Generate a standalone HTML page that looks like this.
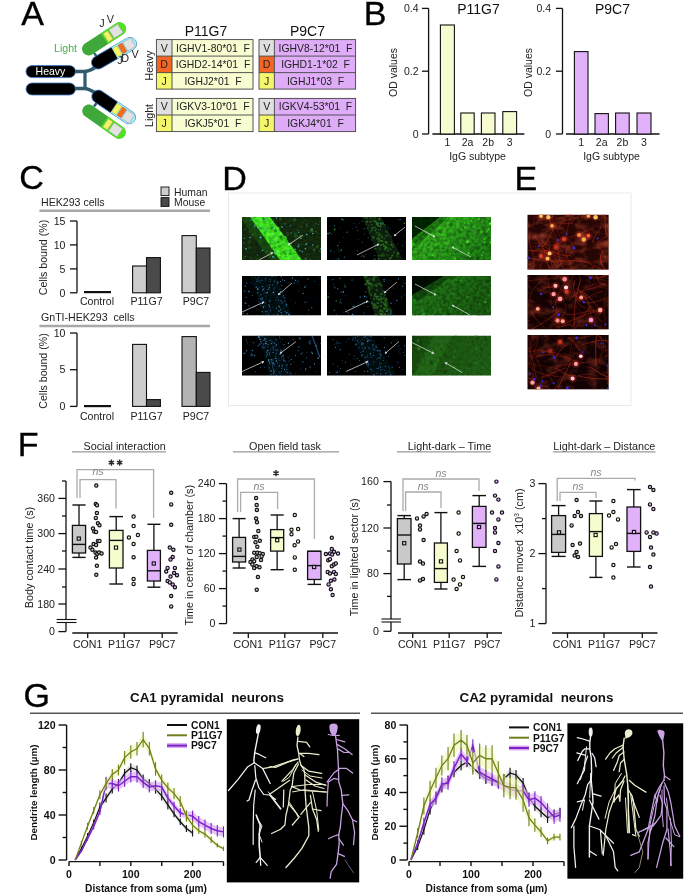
<!DOCTYPE html>
<html><head><meta charset="utf-8"><title>Figure</title><style>
html,body{margin:0;padding:0;background:#fff;}
body{width:685px;height:895px;overflow:hidden;position:relative;font-family:"Liberation Sans",sans-serif;}
svg{position:absolute;left:0;top:0;display:block;will-change:transform;}
</style></head><body>
<svg width="685" height="895" viewBox="0 0 685 895" font-family='"Liberation Sans", sans-serif'>
<text x="21.2" y="24.8" font-size="34" fill="#000" stroke="#000" stroke-width="0.35">A</text>
<text x="363.8" y="24.8" font-size="34" fill="#000" stroke="#000" stroke-width="0.35">B</text>
<text x="19.3" y="188.6" font-size="34" fill="#000" stroke="#000" stroke-width="0.35">C</text>
<text x="222.3" y="189.9" font-size="34" fill="#000" stroke="#000" stroke-width="0.35">D</text>
<text x="514.6" y="189.9" font-size="34" fill="#000" stroke="#000" stroke-width="0.35">E</text>
<text x="17.8" y="456" font-size="34" fill="#000" stroke="#000" stroke-width="0.35">F</text>
<text x="23.6" y="707.2" font-size="34" fill="#000" stroke="#000" stroke-width="0.35">G</text>
<g id="antibody">
<path d="M75 71.5 H84 Q89 71.5 96 67" fill="none" stroke="#2f5b6b" stroke-width="3.4"/>
<path d="M75 88.5 H84 Q89 88.5 97 94" fill="none" stroke="#2f5b6b" stroke-width="3.4"/>
<line x1="85" y1="71" x2="85" y2="89" stroke="#2f5b6b" stroke-width="3.2"/>
<line x1="94" y1="53" x2="98" y2="58" stroke="#2f5b6b" stroke-width="2.2"/>
<line x1="94" y1="106.5" x2="97.5" y2="101.5" stroke="#2f5b6b" stroke-width="2.4"/>
<g transform="translate(98 62.5) rotate(-30)">
<g>
<rect x="-6.5" y="-6.5" width="50" height="13" rx="6.5" fill="#000" stroke="#3a78c8" stroke-width="0.8"/>
<path d="M19 -6.5 H37 A6.5 6.5 0 0 1 37 6.5 H19 Z" fill="#98f2ff"/>
<rect x="19.5" y="-5" width="5.5" height="10" fill="#f6f660" stroke="#9a9a60" stroke-width="0.4"/>
<rect x="26" y="-5" width="4.5" height="10" fill="#f66a1a" stroke="#b05020" stroke-width="0.4"/>
<rect x="31.5" y="-5" width="9" height="10" fill="#e2e2e2" stroke="#999" stroke-width="0.5"/>
</g>
</g>
<g transform="translate(88.5 49) rotate(-33)">
<g>
<rect x="-6.5" y="-6.5" width="50" height="13" rx="6.5" fill="#3fa83a"/>
<path d="M19 -6.5 H37 A6.5 6.5 0 0 1 37 6.5 H19 Z" fill="#4ee41c"/>
<rect x="20.5" y="-5" width="5.5" height="10" fill="#f5f06a" stroke="#9a9a60" stroke-width="0.4"/>
<rect x="27.5" y="-5" width="10.5" height="10" fill="#e2e2e2" stroke="#999" stroke-width="0.5"/>
</g>
</g>
<g transform="translate(98.3 96.6) scale(1 -1) rotate(-34)">
<g>
<rect x="-6.5" y="-6.5" width="50" height="13" rx="6.5" fill="#000" stroke="#3a78c8" stroke-width="0.8"/>
<path d="M19 -6.5 H37 A6.5 6.5 0 0 1 37 6.5 H19 Z" fill="#98f2ff"/>
<rect x="19.5" y="-5" width="5.5" height="10" fill="#f6f660" stroke="#9a9a60" stroke-width="0.4"/>
<rect x="26" y="-5" width="4.5" height="10" fill="#f66a1a" stroke="#b05020" stroke-width="0.4"/>
<rect x="31.5" y="-5" width="9" height="10" fill="#e2e2e2" stroke="#999" stroke-width="0.5"/>
</g>
</g>
<g transform="translate(88.8 111) scale(1 -1) rotate(-35)">
<g>
<rect x="-6.5" y="-6.5" width="50" height="13" rx="6.5" fill="#3fa83a"/>
<path d="M19 -6.5 H37 A6.5 6.5 0 0 1 37 6.5 H19 Z" fill="#4ee41c"/>
<rect x="20.5" y="-5" width="5.5" height="10" fill="#f5f06a" stroke="#9a9a60" stroke-width="0.4"/>
<rect x="27.5" y="-5" width="10.5" height="10" fill="#e2e2e2" stroke="#999" stroke-width="0.5"/>
</g>
</g>
<rect x="26" y="65.6" width="49.5" height="12" rx="6" fill="#000" stroke="#3a78c8" stroke-width="0.8"/>
<rect x="26" y="83" width="49.5" height="12" rx="6" fill="#000" stroke="#3a78c8" stroke-width="0.8"/>
<text x="50.5" y="75.4" font-size="10.5" fill="#fff" text-anchor="middle">Heavy</text>
<text x="65.5" y="51.6" font-size="10.6" fill="#48b048" text-anchor="middle">Light</text>
<text x="99.3" y="27.4" font-size="10.8" fill="#222">J</text>
<text x="106.8" y="23.3" font-size="10.8" fill="#222">V</text>
<text x="117.2" y="64.2" font-size="10.8" fill="#222">J</text>
<text x="121.3" y="62" font-size="10.8" fill="#222">D</text>
<text x="131.5" y="57.5" font-size="10.8" fill="#222">V</text>
</g>
<rect x="156.4" y="39.6" width="15.6" height="16.5" fill="#e0e0e0"/>
<rect x="172" y="39.6" width="81" height="16.5" fill="#f8fdd2"/>
<text x="164.2" y="51.55" font-size="10.6" fill="#222" text-anchor="middle">V</text>
<text x="213" y="51.55" font-size="10.4" fill="#222" text-anchor="middle">IGHV1-80*01&#160;&#160;F</text>
<rect x="156.4" y="56.1" width="15.6" height="16.5" fill="#f26522"/>
<rect x="172" y="56.1" width="81" height="16.5" fill="#f8fdd2"/>
<text x="164.2" y="68.05" font-size="10.6" fill="#222" text-anchor="middle">D</text>
<text x="213" y="68.05" font-size="10.4" fill="#222" text-anchor="middle">IGHD2-14*01&#160;&#160;F</text>
<rect x="156.4" y="72.6" width="15.6" height="16.5" fill="#f6f66a"/>
<rect x="172" y="72.6" width="81" height="16.5" fill="#f8fdd2"/>
<text x="164.2" y="84.55" font-size="10.6" fill="#222" text-anchor="middle">J</text>
<text x="213" y="84.55" font-size="10.4" fill="#222" text-anchor="middle">IGHJ2*01&#160;&#160;F</text>
<rect x="156.4" y="39.6" width="96.6" height="49.5" fill="none" stroke="#444" stroke-width="0.9"/>
<line x1="172" y1="39.6" x2="172" y2="89.1" stroke="#444" stroke-width="0.9"/>
<line x1="156.4" y1="56.1" x2="253" y2="56.1" stroke="#444" stroke-width="0.9"/>
<line x1="156.4" y1="72.6" x2="253" y2="72.6" stroke="#444" stroke-width="0.9"/>
<rect x="156.4" y="98.4" width="15.6" height="16.6" fill="#e0e0e0"/>
<rect x="172" y="98.4" width="81" height="16.6" fill="#f8fdd2"/>
<text x="164.2" y="110.4" font-size="10.6" fill="#222" text-anchor="middle">V</text>
<text x="213" y="110.4" font-size="10.4" fill="#222" text-anchor="middle">IGKV3-10*01&#160;&#160;F</text>
<rect x="156.4" y="115" width="15.6" height="16.6" fill="#f6f66a"/>
<rect x="172" y="115" width="81" height="16.6" fill="#f8fdd2"/>
<text x="164.2" y="127" font-size="10.6" fill="#222" text-anchor="middle">J</text>
<text x="213" y="127" font-size="10.4" fill="#222" text-anchor="middle">IGKJ5*01&#160;&#160;F</text>
<rect x="156.4" y="98.4" width="96.6" height="33.2" fill="none" stroke="#444" stroke-width="0.9"/>
<line x1="172" y1="98.4" x2="172" y2="131.6" stroke="#444" stroke-width="0.9"/>
<line x1="156.4" y1="115" x2="253" y2="115" stroke="#444" stroke-width="0.9"/>
<rect x="259" y="39.6" width="15.4" height="16.5" fill="#e0e0e0"/>
<rect x="274.4" y="39.6" width="81.2" height="16.5" fill="#dfadf7"/>
<text x="266.7" y="51.55" font-size="10.6" fill="#222" text-anchor="middle">V</text>
<text x="315.5" y="51.55" font-size="10.4" fill="#222" text-anchor="middle">IGHV8-12*01&#160;&#160;F</text>
<rect x="259" y="56.1" width="15.4" height="16.5" fill="#f26522"/>
<rect x="274.4" y="56.1" width="81.2" height="16.5" fill="#dfadf7"/>
<text x="266.7" y="68.05" font-size="10.6" fill="#222" text-anchor="middle">D</text>
<text x="315.5" y="68.05" font-size="10.4" fill="#222" text-anchor="middle">IGHD1-1*02&#160;&#160;F</text>
<rect x="259" y="72.6" width="15.4" height="16.5" fill="#f6f66a"/>
<rect x="274.4" y="72.6" width="81.2" height="16.5" fill="#dfadf7"/>
<text x="266.7" y="84.55" font-size="10.6" fill="#222" text-anchor="middle">J</text>
<text x="315.5" y="84.55" font-size="10.4" fill="#222" text-anchor="middle">IGHJ1*03&#160;&#160;F</text>
<rect x="259" y="39.6" width="96.6" height="49.5" fill="none" stroke="#444" stroke-width="0.9"/>
<line x1="274.4" y1="39.6" x2="274.4" y2="89.1" stroke="#444" stroke-width="0.9"/>
<line x1="259" y1="56.1" x2="355.6" y2="56.1" stroke="#444" stroke-width="0.9"/>
<line x1="259" y1="72.6" x2="355.6" y2="72.6" stroke="#444" stroke-width="0.9"/>
<rect x="259" y="98.4" width="15.4" height="16.6" fill="#e0e0e0"/>
<rect x="274.4" y="98.4" width="81.2" height="16.6" fill="#dfadf7"/>
<text x="266.7" y="110.4" font-size="10.6" fill="#222" text-anchor="middle">V</text>
<text x="315.5" y="110.4" font-size="10.4" fill="#222" text-anchor="middle">IGKV4-53*01&#160;&#160;F</text>
<rect x="259" y="115" width="15.4" height="16.6" fill="#f6f66a"/>
<rect x="274.4" y="115" width="81.2" height="16.6" fill="#dfadf7"/>
<text x="266.7" y="127" font-size="10.6" fill="#222" text-anchor="middle">J</text>
<text x="315.5" y="127" font-size="10.4" fill="#222" text-anchor="middle">IGKJ4*01&#160;&#160;F</text>
<rect x="259" y="98.4" width="96.6" height="33.2" fill="none" stroke="#444" stroke-width="0.9"/>
<line x1="274.4" y1="98.4" x2="274.4" y2="131.6" stroke="#444" stroke-width="0.9"/>
<line x1="259" y1="115" x2="355.6" y2="115" stroke="#444" stroke-width="0.9"/>
<text x="206" y="35.5" font-size="14" fill="#111" text-anchor="middle">P11G7</text>
<text x="307.5" y="35.5" font-size="14" fill="#111" text-anchor="middle">P9C7</text>
<text transform="translate(152.5 65.5) rotate(-90)" font-size="10.6" fill="#222" text-anchor="middle">Heavy</text>
<text transform="translate(152.5 115.5) rotate(-90)" font-size="10.6" fill="#222" text-anchor="middle">Light</text>
<line x1="428.6" y1="8.4" x2="428.6" y2="134" stroke="#111" stroke-width="1.3"/>
<line x1="422" y1="8.4" x2="428.6" y2="8.4" stroke="#111" stroke-width="1.3"/>
<text x="418.5" y="12.1" font-size="10.5" fill="#222" text-anchor="end">0.4</text>
<line x1="422" y1="71.2" x2="428.6" y2="71.2" stroke="#111" stroke-width="1.3"/>
<text x="418.5" y="74.9" font-size="10.5" fill="#222" text-anchor="end">0.2</text>
<line x1="422" y1="134" x2="428.6" y2="134" stroke="#111" stroke-width="1.3"/>
<text x="418.5" y="137.7" font-size="10.5" fill="#222" text-anchor="end">0</text>
<line x1="432.4" y1="134" x2="524.4" y2="134" stroke="#111" stroke-width="1.3"/>
<rect x="440.4" y="25" width="14" height="109" fill="#f6fccf" stroke="#111" stroke-width="1.1"/>
<text x="447.4" y="145.6" font-size="10.5" fill="#222" text-anchor="middle">1</text>
<rect x="460.8" y="113" width="13.4" height="21" fill="#f6fccf" stroke="#111" stroke-width="1.1"/>
<text x="467.5" y="145.6" font-size="10.5" fill="#222" text-anchor="middle">2a</text>
<rect x="481.4" y="113" width="13.6" height="21" fill="#f6fccf" stroke="#111" stroke-width="1.1"/>
<text x="488.2" y="145.6" font-size="10.5" fill="#222" text-anchor="middle">2b</text>
<rect x="502.8" y="111.6" width="13.8" height="22.4" fill="#f6fccf" stroke="#111" stroke-width="1.1"/>
<text x="509.7" y="145.6" font-size="10.5" fill="#222" text-anchor="middle">3</text>
<text x="477.5" y="160.2" font-size="10.5" fill="#222" text-anchor="middle">IgG subtype</text>
<text x="478.5" y="14" font-size="14" fill="#111" text-anchor="middle">P11G7</text>
<text transform="translate(397.3 72.5) rotate(-90)" font-size="10.5" fill="#222" text-anchor="middle">OD values</text>
<line x1="562.5" y1="8.4" x2="562.5" y2="134" stroke="#111" stroke-width="1.3"/>
<line x1="555.9" y1="8.4" x2="562.5" y2="8.4" stroke="#111" stroke-width="1.3"/>
<text x="551" y="12.1" font-size="10.5" fill="#222" text-anchor="end">0.4</text>
<line x1="555.9" y1="71.2" x2="562.5" y2="71.2" stroke="#111" stroke-width="1.3"/>
<text x="551" y="74.9" font-size="10.5" fill="#222" text-anchor="end">0.2</text>
<line x1="555.9" y1="134" x2="562.5" y2="134" stroke="#111" stroke-width="1.3"/>
<text x="551" y="137.7" font-size="10.5" fill="#222" text-anchor="end">0</text>
<line x1="566" y1="134" x2="659.5" y2="134" stroke="#111" stroke-width="1.3"/>
<rect x="574.4" y="51.6" width="13.6" height="82.4" fill="#e1b1f9" stroke="#111" stroke-width="1.1"/>
<text x="581.2" y="145.6" font-size="10.5" fill="#222" text-anchor="middle">1</text>
<rect x="595" y="113.6" width="13.4" height="20.4" fill="#e1b1f9" stroke="#111" stroke-width="1.1"/>
<text x="601.7" y="145.6" font-size="10.5" fill="#222" text-anchor="middle">2a</text>
<rect x="615.6" y="113" width="13.6" height="21" fill="#e1b1f9" stroke="#111" stroke-width="1.1"/>
<text x="622.4" y="145.6" font-size="10.5" fill="#222" text-anchor="middle">2b</text>
<rect x="637" y="113" width="14" height="21" fill="#e1b1f9" stroke="#111" stroke-width="1.1"/>
<text x="644" y="145.6" font-size="10.5" fill="#222" text-anchor="middle">3</text>
<text x="611.5" y="160.2" font-size="10.5" fill="#222" text-anchor="middle">IgG subtype</text>
<text x="612.5" y="14" font-size="14" fill="#111" text-anchor="middle">P9C7</text>
<text transform="translate(531.7 72.5) rotate(-90)" font-size="10.5" fill="#222" text-anchor="middle">OD values</text>
<rect x="161" y="187" width="8" height="8.6" fill="#cdcdcd" stroke="#111" stroke-width="0.9"/>
<rect x="161" y="197.6" width="8" height="8.8" fill="#4a4a4a" stroke="#111" stroke-width="0.9"/>
<text x="174" y="195.5" font-size="10.4" fill="#222">Human</text>
<text x="174" y="206" font-size="10.4" fill="#222">Mouse</text>
<text x="41" y="206" font-size="10.6" fill="#222">HEK293 cells</text>
<line x1="39.4" y1="210.8" x2="210" y2="210.8" stroke="#a8a8a8" stroke-width="2.6"/>
<line x1="77" y1="221" x2="77" y2="292.8" stroke="#111" stroke-width="1.3"/>
<line x1="70" y1="221" x2="77" y2="221" stroke="#111" stroke-width="1.3"/>
<text x="65.5" y="224.7" font-size="10.6" fill="#222" text-anchor="end">15</text>
<line x1="70" y1="244.9" x2="77" y2="244.9" stroke="#111" stroke-width="1.3"/>
<text x="65.5" y="248.6" font-size="10.6" fill="#222" text-anchor="end">10</text>
<line x1="70" y1="268.9" x2="77" y2="268.9" stroke="#111" stroke-width="1.3"/>
<text x="65.5" y="272.6" font-size="10.6" fill="#222" text-anchor="end">5</text>
<line x1="70" y1="292.8" x2="77" y2="292.8" stroke="#111" stroke-width="1.3"/>
<text x="65.5" y="296.5" font-size="10.6" fill="#222" text-anchor="end">0</text>
<rect x="84" y="291" width="27" height="2.2" fill="#111"/>
<rect x="132.6" y="266" width="13.9" height="26.8" fill="#cdcdcd" stroke="#111" stroke-width="1.1"/>
<rect x="146.5" y="257.6" width="13.9" height="35.2" fill="#4a4a4a" stroke="#111" stroke-width="1.1"/>
<rect x="182" y="235.6" width="14.3" height="57.2" fill="#cdcdcd" stroke="#111" stroke-width="1.1"/>
<rect x="196.3" y="248" width="13.7" height="44.8" fill="#4a4a4a" stroke="#111" stroke-width="1.1"/>
<text x="97" y="304.7" font-size="10.6" fill="#222" text-anchor="middle">Control</text>
<text x="146.5" y="304.7" font-size="10.6" fill="#222" text-anchor="middle">P11G7</text>
<text x="196" y="304.7" font-size="10.6" fill="#222" text-anchor="middle">P9C7</text>
<text transform="translate(46.5 257.5) rotate(-90)" font-size="10.6" fill="#222" text-anchor="middle">Cells bound (%)</text>
<text x="41" y="321.3" font-size="10.6" fill="#222">GnTI-HEK293&#160;&#160;cells</text>
<line x1="39.4" y1="326" x2="210" y2="326" stroke="#a8a8a8" stroke-width="2.6"/>
<line x1="77" y1="333" x2="77" y2="406.4" stroke="#111" stroke-width="1.3"/>
<line x1="70" y1="333" x2="77" y2="333" stroke="#111" stroke-width="1.3"/>
<text x="65.5" y="336.7" font-size="10.6" fill="#222" text-anchor="end">10</text>
<line x1="70" y1="369.7" x2="77" y2="369.7" stroke="#111" stroke-width="1.3"/>
<text x="65.5" y="373.4" font-size="10.6" fill="#222" text-anchor="end">5</text>
<line x1="70" y1="406.4" x2="77" y2="406.4" stroke="#111" stroke-width="1.3"/>
<text x="65.5" y="410.1" font-size="10.6" fill="#222" text-anchor="end">0</text>
<rect x="84" y="405" width="27" height="2.2" fill="#111"/>
<rect x="132.6" y="344.4" width="13.9" height="62" fill="#cdcdcd" stroke="#111" stroke-width="1.1"/>
<rect x="146.5" y="399.6" width="13.9" height="6.8" fill="#4a4a4a" stroke="#111" stroke-width="1.1"/>
<rect x="182" y="336.6" width="14.3" height="69.8" fill="#b3b3b3" stroke="#111" stroke-width="1.1"/>
<rect x="196.3" y="372.4" width="13.7" height="34" fill="#4a4a4a" stroke="#111" stroke-width="1.1"/>
<text x="97" y="420.2" font-size="10.6" fill="#222" text-anchor="middle">Control</text>
<text x="146.5" y="420.2" font-size="10.6" fill="#222" text-anchor="middle">P11G7</text>
<text x="196" y="420.2" font-size="10.6" fill="#222" text-anchor="middle">P9C7</text>
<text transform="translate(46.5 371) rotate(-90)" font-size="10.6" fill="#222" text-anchor="middle">Cells bound (%)</text>
<rect x="228.5" y="193" width="402.5" height="212.5" fill="#fff" stroke="#e4e4e4" stroke-width="0.8"/>
<line x1="229" y1="193" x2="630.5" y2="193" stroke="#f4f4f4" stroke-width="1"/>
<defs><filter id="bl" x="-5%" y="-5%" width="110%" height="110%"><feGaussianBlur stdDeviation="0.45"/></filter><filter id="bl2" x="-5%" y="-5%" width="110%" height="110%"><feGaussianBlur stdDeviation="0.9"/></filter><filter id="nz" x="0" y="0" width="100%" height="100%"><feTurbulence type="fractalNoise" baseFrequency="0.3" numOctaves="2" seed="5"/><feColorMatrix type="matrix" values="0 0 0 0 0  0 0 0 0 0  0 0 0 0 0  1.6 0 0 0 -0.55"/></filter><filter id="nzr" x="0" y="0" width="100%" height="100%"><feTurbulence type="fractalNoise" baseFrequency="0.08 0.12" numOctaves="3" seed="11"/><feColorMatrix type="matrix" values="0 0 0 0 0.6  0 0 0 0 0.08  0 0 0 0 0.04  2.4 0 0 0 -1.05"/></filter><marker id="ah" viewBox="0 0 6 6" refX="5" refY="3" markerWidth="4" markerHeight="4" orient="auto"><path d="M0 0 L6 3 L0 6 z" fill="#ddd"/></marker></defs>
<defs>
<clipPath id="dc1"><rect x="242" y="217" width="79" height="43"/></clipPath>
</defs>
<g clip-path="url(#dc1)"><g filter="url(#bl)">
<rect x="242" y="217" width="79" height="43" fill="#142c0c"/>
<circle cx="267.58" cy="223.49" r="1.78" fill="#22481a" fill-opacity="0.93"/>
<circle cx="249.44" cy="242.06" r="2.09" fill="#22481a" fill-opacity="0.61"/>
<circle cx="276.26" cy="220" r="1.11" fill="#1e4214" fill-opacity="0.62"/>
<circle cx="286.67" cy="257.74" r="1.76" fill="#2a5a18" fill-opacity="0.98"/>
<circle cx="287.59" cy="234.06" r="2.17" fill="#22481a" fill-opacity="0.82"/>
<circle cx="252.52" cy="235.02" r="1.65" fill="#2a5a18" fill-opacity="0.72"/>
<circle cx="306.47" cy="224.77" r="1.7" fill="#2a5a18" fill-opacity="0.68"/>
<circle cx="249.7" cy="247.62" r="1.68" fill="#2a5a18" fill-opacity="0.68"/>
<circle cx="295.75" cy="235.39" r="1.38" fill="#2a5a18" fill-opacity="0.97"/>
<circle cx="270.57" cy="227.68" r="1.22" fill="#22481a" fill-opacity="0.63"/>
<circle cx="265.72" cy="238.29" r="1.41" fill="#1e4214" fill-opacity="0.72"/>
<circle cx="319.43" cy="222.08" r="1.5" fill="#1e4214" fill-opacity="0.66"/>
<circle cx="280.63" cy="218.69" r="1.8" fill="#2a5a18" fill-opacity="0.83"/>
<circle cx="311.16" cy="230.49" r="1.83" fill="#2a5a18" fill-opacity="0.80"/>
<circle cx="304.95" cy="219.96" r="1.11" fill="#1e4214" fill-opacity="0.79"/>
<circle cx="294.47" cy="219.61" r="1.84" fill="#2a5a18" fill-opacity="0.83"/>
<circle cx="295.82" cy="236.16" r="1.86" fill="#2a5a18" fill-opacity="0.74"/>
<circle cx="316.31" cy="232.28" r="1.73" fill="#1e4214" fill-opacity="0.62"/>
<circle cx="302.69" cy="222.56" r="1.3" fill="#1e4214" fill-opacity="0.97"/>
<circle cx="281.22" cy="224.15" r="1.48" fill="#1e4214" fill-opacity="0.95"/>
<circle cx="306.72" cy="254.15" r="1.33" fill="#1e4214" fill-opacity="0.99"/>
<circle cx="295.94" cy="233.36" r="1.28" fill="#22481a" fill-opacity="0.67"/>
<circle cx="260.32" cy="227.03" r="1.58" fill="#2a5a18" fill-opacity="0.67"/>
<circle cx="264.27" cy="223.26" r="1.64" fill="#2a5a18" fill-opacity="0.83"/>
<circle cx="317.29" cy="246.69" r="1.62" fill="#2a5a18" fill-opacity="0.86"/>
<circle cx="300.44" cy="236.64" r="2.05" fill="#2a5a18" fill-opacity="0.92"/>
<circle cx="273" cy="234.16" r="1.12" fill="#2a5a18" fill-opacity="0.76"/>
<circle cx="257.06" cy="259.34" r="1.53" fill="#22481a" fill-opacity="0.74"/>
<circle cx="246.15" cy="217.01" r="1.18" fill="#22481a" fill-opacity="0.98"/>
<circle cx="290.49" cy="220.02" r="1.25" fill="#1e4214" fill-opacity="0.66"/>
<circle cx="261.93" cy="231.94" r="1.44" fill="#22481a" fill-opacity="0.65"/>
<circle cx="280.56" cy="259.05" r="1.58" fill="#1e4214" fill-opacity="0.63"/>
<circle cx="250.07" cy="231.73" r="1.32" fill="#2a5a18" fill-opacity="0.66"/>
<circle cx="243.82" cy="257.89" r="1.63" fill="#22481a" fill-opacity="0.88"/>
<circle cx="314.22" cy="249.6" r="1.36" fill="#2a5a18" fill-opacity="0.95"/>
<circle cx="297" cy="228.23" r="1.44" fill="#22481a" fill-opacity="0.74"/>
<circle cx="259.6" cy="240.29" r="1.6" fill="#2a5a18" fill-opacity="0.69"/>
<circle cx="306.11" cy="259.35" r="2.02" fill="#22481a" fill-opacity="0.93"/>
<circle cx="300.45" cy="226.75" r="1.62" fill="#1e4214" fill-opacity="0.89"/>
<circle cx="320.18" cy="250.97" r="1.57" fill="#22481a" fill-opacity="0.88"/>
<polygon points="240,217 252,217 282,260 270,260" fill="#1f6a12" fill-opacity="0.5"/>
<polygon points="250,217 270,217 302,260 280,260" fill="#42ee22" fill-opacity="1"/>
<circle cx="288.5" cy="258.13" r="1.74" fill="#50f830" fill-opacity="0.98"/>
<circle cx="265.51" cy="232.68" r="1.03" fill="#38d01c" fill-opacity="0.74"/>
<circle cx="285.14" cy="237.75" r="1.41" fill="#5cff38" fill-opacity="0.79"/>
<circle cx="286.63" cy="245.08" r="0.88" fill="#5cff38" fill-opacity="0.96"/>
<circle cx="289.65" cy="250.64" r="1.28" fill="#38d01c" fill-opacity="0.77"/>
<circle cx="270.92" cy="244.34" r="1.75" fill="#2aa818" fill-opacity="0.79"/>
<circle cx="274.13" cy="248.96" r="0.96" fill="#38d01c" fill-opacity="0.61"/>
<circle cx="277.58" cy="242.4" r="1.46" fill="#2aa818" fill-opacity="0.86"/>
<circle cx="271.87" cy="232.07" r="0.93" fill="#5cff38" fill-opacity="0.92"/>
<circle cx="274" cy="248.23" r="1.55" fill="#38d01c" fill-opacity="0.77"/>
<circle cx="294.12" cy="254.48" r="1.01" fill="#50f830" fill-opacity="0.69"/>
<circle cx="281.07" cy="238.55" r="1.13" fill="#2aa818" fill-opacity="0.93"/>
<circle cx="266.72" cy="219.62" r="1.7" fill="#2aa818" fill-opacity="0.93"/>
<circle cx="279.19" cy="254.76" r="0.95" fill="#5cff38" fill-opacity="0.95"/>
<circle cx="286.41" cy="250.39" r="1.58" fill="#38d01c" fill-opacity="0.67"/>
<circle cx="279.4" cy="237.36" r="1.36" fill="#50f830" fill-opacity="0.87"/>
<circle cx="276.08" cy="239.82" r="1.58" fill="#5cff38" fill-opacity="0.70"/>
<circle cx="274.18" cy="228.91" r="1.31" fill="#5cff38" fill-opacity="0.90"/>
<circle cx="287.05" cy="256.24" r="1.41" fill="#38d01c" fill-opacity="0.88"/>
<circle cx="274.72" cy="236.45" r="1.28" fill="#38d01c" fill-opacity="0.88"/>
<circle cx="296.79" cy="254.69" r="1.06" fill="#38d01c" fill-opacity="0.94"/>
<circle cx="256.58" cy="222.9" r="1.24" fill="#5cff38" fill-opacity="0.87"/>
<circle cx="267.29" cy="235.42" r="1.1" fill="#5cff38" fill-opacity="0.96"/>
<circle cx="269.18" cy="223.64" r="1.46" fill="#38d01c" fill-opacity="0.70"/>
<circle cx="263.6" cy="222.9" r="1.55" fill="#5cff38" fill-opacity="0.76"/>
<circle cx="285.38" cy="237.95" r="1.63" fill="#38d01c" fill-opacity="0.88"/>
<circle cx="288.7" cy="259.75" r="1.22" fill="#50f830" fill-opacity="0.73"/>
<circle cx="272.08" cy="248.05" r="1.35" fill="#2aa818" fill-opacity="0.88"/>
<circle cx="272.28" cy="233.53" r="1.1" fill="#5cff38" fill-opacity="0.65"/>
<circle cx="282.55" cy="256.5" r="1.68" fill="#5cff38" fill-opacity="0.71"/>
<circle cx="266.83" cy="218.7" r="1.07" fill="#38d01c" fill-opacity="0.93"/>
<circle cx="290.16" cy="253.53" r="1.75" fill="#2aa818" fill-opacity="0.66"/>
<circle cx="290.04" cy="256.52" r="1.5" fill="#5cff38" fill-opacity="0.71"/>
<circle cx="277.95" cy="251.38" r="1.7" fill="#50f830" fill-opacity="0.98"/>
<circle cx="286.08" cy="244.28" r="0.88" fill="#38d01c" fill-opacity="0.63"/>
<circle cx="285.74" cy="254.1" r="1.14" fill="#2aa818" fill-opacity="0.97"/>
<circle cx="260.69" cy="228.52" r="1.33" fill="#38d01c" fill-opacity="0.98"/>
<circle cx="284.82" cy="258.68" r="0.98" fill="#50f830" fill-opacity="0.85"/>
<circle cx="270.27" cy="239.84" r="1.25" fill="#38d01c" fill-opacity="0.71"/>
<circle cx="295.6" cy="251.56" r="0.84" fill="#5cff38" fill-opacity="0.89"/>
<circle cx="270.53" cy="240.7" r="1.27" fill="#2aa818" fill-opacity="0.64"/>
<circle cx="283.92" cy="252.21" r="1.3" fill="#2aa818" fill-opacity="0.99"/>
<circle cx="263.67" cy="230.23" r="1.03" fill="#38d01c" fill-opacity="0.93"/>
<circle cx="284.82" cy="247.39" r="1.2" fill="#50f830" fill-opacity="0.99"/>
<circle cx="275.42" cy="252.99" r="1.43" fill="#50f830" fill-opacity="0.77"/>
<circle cx="265.04" cy="219.38" r="1.18" fill="#50f830" fill-opacity="0.84"/>
<circle cx="271.75" cy="246.79" r="0.99" fill="#50f830" fill-opacity="0.78"/>
<circle cx="277.64" cy="228.32" r="1.77" fill="#50f830" fill-opacity="0.70"/>
<circle cx="285.76" cy="258.52" r="1.16" fill="#5cff38" fill-opacity="0.73"/>
<circle cx="258.14" cy="220.61" r="1.46" fill="#38d01c" fill-opacity="0.80"/>
<circle cx="255.43" cy="217.21" r="0.89" fill="#2aa818" fill-opacity="0.83"/>
<circle cx="268.05" cy="233.94" r="1.43" fill="#5cff38" fill-opacity="0.83"/>
<circle cx="281.68" cy="239.76" r="1.46" fill="#2aa818" fill-opacity="0.91"/>
<circle cx="282.22" cy="247.99" r="1.08" fill="#38d01c" fill-opacity="0.62"/>
<circle cx="294.39" cy="252.92" r="1.43" fill="#38d01c" fill-opacity="0.96"/>
<circle cx="284.81" cy="249.37" r="1.61" fill="#5cff38" fill-opacity="0.93"/>
<circle cx="286.42" cy="242.11" r="1.48" fill="#38d01c" fill-opacity="0.63"/>
<circle cx="264.05" cy="218.8" r="1.76" fill="#2aa818" fill-opacity="0.93"/>
<circle cx="280.01" cy="241.02" r="1.43" fill="#38d01c" fill-opacity="0.80"/>
<circle cx="266.06" cy="217.14" r="1.55" fill="#5cff38" fill-opacity="0.86"/>
<circle cx="266.81" cy="219.84" r="1.05" fill="#5cff38" fill-opacity="0.94"/>
<circle cx="272.53" cy="227.1" r="1.03" fill="#2aa818" fill-opacity="0.80"/>
<circle cx="271.42" cy="233.45" r="1.48" fill="#5cff38" fill-opacity="0.85"/>
<circle cx="270.93" cy="244.64" r="0.95" fill="#50f830" fill-opacity="0.86"/>
<circle cx="284.07" cy="246.79" r="0.93" fill="#2aa818" fill-opacity="0.62"/>
<circle cx="271.86" cy="228.56" r="1.49" fill="#2aa818" fill-opacity="0.72"/>
<circle cx="275.27" cy="239.21" r="1.27" fill="#5cff38" fill-opacity="1.00"/>
<circle cx="273.05" cy="240.61" r="0.89" fill="#2aa818" fill-opacity="0.61"/>
<circle cx="280.92" cy="236.74" r="1.77" fill="#2aa818" fill-opacity="1.00"/>
<circle cx="280.65" cy="233.63" r="1.73" fill="#5cff38" fill-opacity="0.83"/>
<circle cx="264.88" cy="223.09" r="1.75" fill="#38d01c" fill-opacity="0.84"/>
<circle cx="274.89" cy="244.16" r="0.91" fill="#50f830" fill-opacity="0.69"/>
<circle cx="287.53" cy="255.6" r="0.82" fill="#5cff38" fill-opacity="0.98"/>
<circle cx="279.11" cy="246.31" r="1.53" fill="#2aa818" fill-opacity="0.74"/>
<circle cx="276.82" cy="230.59" r="0.8" fill="#50f830" fill-opacity="0.94"/>
<circle cx="272.35" cy="222.16" r="1.51" fill="#50f830" fill-opacity="0.70"/>
<circle cx="259.8" cy="219.79" r="1.67" fill="#5cff38" fill-opacity="0.74"/>
<circle cx="268.58" cy="235.41" r="0.85" fill="#5cff38" fill-opacity="0.62"/>
<circle cx="283.4" cy="245.47" r="0.95" fill="#50f830" fill-opacity="0.77"/>
<circle cx="275.42" cy="230.57" r="1.59" fill="#2aa818" fill-opacity="0.95"/>
<rect x="242" y="217" width="79" height="43" fill="#000" filter="url(#nz)" opacity="0.35"/>
<circle cx="306.15" cy="244.13" r="0.81" fill="#55c8e0" fill-opacity="0.89"/>
<circle cx="245.91" cy="248.49" r="0.58" fill="#55c8e0" fill-opacity="0.86"/>
<circle cx="264.61" cy="219.11" r="0.81" fill="#55c8e0" fill-opacity="0.67"/>
<circle cx="274.77" cy="229.12" r="0.48" fill="#3aa0c0" fill-opacity="0.76"/>
<circle cx="260.85" cy="237.78" r="0.68" fill="#40b8d0" fill-opacity="0.67"/>
<circle cx="254.77" cy="225.94" r="0.8" fill="#60d0e8" fill-opacity="0.82"/>
<circle cx="277.79" cy="231.31" r="0.73" fill="#60d0e8" fill-opacity="0.66"/>
<circle cx="257.2" cy="220.9" r="0.52" fill="#40b8d0" fill-opacity="0.73"/>
<circle cx="271.1" cy="251.8" r="0.45" fill="#40b8d0" fill-opacity="0.90"/>
<circle cx="274.61" cy="234.8" r="0.61" fill="#60d0e8" fill-opacity="0.71"/>
<circle cx="301.42" cy="238.42" r="0.64" fill="#3aa0c0" fill-opacity="0.65"/>
<circle cx="281.77" cy="244.07" r="0.78" fill="#55c8e0" fill-opacity="0.64"/>
<circle cx="312.85" cy="233.54" r="0.67" fill="#60d0e8" fill-opacity="0.98"/>
<circle cx="309.05" cy="254.53" r="0.36" fill="#40b8d0" fill-opacity="0.77"/>
<circle cx="302.33" cy="251.58" r="0.83" fill="#60d0e8" fill-opacity="0.60"/>
<circle cx="272.93" cy="256.85" r="0.76" fill="#60d0e8" fill-opacity="0.99"/>
<circle cx="261.63" cy="221.69" r="0.43" fill="#40b8d0" fill-opacity="0.98"/>
<circle cx="299.02" cy="244.84" r="0.73" fill="#60d0e8" fill-opacity="0.63"/>
<circle cx="303.37" cy="217.06" r="0.41" fill="#40b8d0" fill-opacity="0.86"/>
<circle cx="266" cy="222.5" r="0.48" fill="#60d0e8" fill-opacity="0.88"/>
<circle cx="250.86" cy="220.03" r="0.61" fill="#55c8e0" fill-opacity="0.76"/>
<circle cx="259.66" cy="242.85" r="0.36" fill="#3aa0c0" fill-opacity="1.00"/>
<circle cx="264.01" cy="230.6" r="0.77" fill="#55c8e0" fill-opacity="0.79"/>
<circle cx="260.55" cy="227.62" r="0.83" fill="#3aa0c0" fill-opacity="0.62"/>
<circle cx="257.34" cy="255.05" r="0.67" fill="#40b8d0" fill-opacity="0.70"/>
<circle cx="294.72" cy="256.78" r="0.46" fill="#40b8d0" fill-opacity="0.88"/>
<circle cx="298.75" cy="232.58" r="0.55" fill="#40b8d0" fill-opacity="0.92"/>
<circle cx="300.39" cy="238.71" r="0.45" fill="#55c8e0" fill-opacity="0.72"/>
<circle cx="306.78" cy="226.92" r="0.46" fill="#3aa0c0" fill-opacity="0.64"/>
<circle cx="291.26" cy="243.23" r="0.8" fill="#60d0e8" fill-opacity="0.77"/>
<circle cx="294.56" cy="257.8" r="0.42" fill="#60d0e8" fill-opacity="0.62"/>
<circle cx="243.87" cy="242.63" r="0.56" fill="#40b8d0" fill-opacity="0.67"/>
<circle cx="277.52" cy="247.62" r="0.51" fill="#40b8d0" fill-opacity="1.00"/>
<circle cx="315.6" cy="231.16" r="0.44" fill="#60d0e8" fill-opacity="0.61"/>
<circle cx="294.49" cy="233.28" r="0.54" fill="#3aa0c0" fill-opacity="0.78"/>
<circle cx="250.61" cy="220.36" r="0.39" fill="#60d0e8" fill-opacity="0.98"/>
<circle cx="251.77" cy="258.46" r="0.45" fill="#3aa0c0" fill-opacity="0.91"/>
<circle cx="266.39" cy="251.57" r="0.39" fill="#60d0e8" fill-opacity="0.68"/>
<circle cx="284.78" cy="236.19" r="0.51" fill="#60d0e8" fill-opacity="0.61"/>
<circle cx="274.45" cy="251.91" r="0.73" fill="#40b8d0" fill-opacity="0.75"/>
<circle cx="278.66" cy="251.54" r="0.38" fill="#55c8e0" fill-opacity="0.90"/>
<circle cx="312.99" cy="231.58" r="0.49" fill="#40b8d0" fill-opacity="0.70"/>
<circle cx="298.61" cy="230.61" r="0.49" fill="#40b8d0" fill-opacity="0.89"/>
<circle cx="289.05" cy="251.64" r="0.82" fill="#40b8d0" fill-opacity="0.61"/>
<circle cx="260.48" cy="237.43" r="0.83" fill="#60d0e8" fill-opacity="0.92"/>
<circle cx="314.17" cy="252.04" r="0.42" fill="#60d0e8" fill-opacity="0.67"/>
<circle cx="305.4" cy="248.75" r="0.76" fill="#55c8e0" fill-opacity="0.84"/>
<circle cx="267.9" cy="230.74" r="0.53" fill="#40b8d0" fill-opacity="0.80"/>
<circle cx="272.94" cy="223.88" r="0.55" fill="#40b8d0" fill-opacity="0.79"/>
<circle cx="285.02" cy="223.91" r="0.56" fill="#40b8d0" fill-opacity="1.00"/>
<circle cx="262.93" cy="220.62" r="0.4" fill="#60d0e8" fill-opacity="1.00"/>
<circle cx="318.8" cy="224.45" r="0.42" fill="#60d0e8" fill-opacity="0.85"/>
<circle cx="295.25" cy="249.16" r="0.77" fill="#40b8d0" fill-opacity="0.91"/>
<circle cx="265.22" cy="229.01" r="0.48" fill="#3aa0c0" fill-opacity="0.90"/>
<circle cx="257.74" cy="227.64" r="0.47" fill="#55c8e0" fill-opacity="0.71"/>
<circle cx="313.7" cy="225.09" r="0.38" fill="#3aa0c0" fill-opacity="1.00"/>
<circle cx="282.08" cy="226.95" r="0.75" fill="#60d0e8" fill-opacity="1.00"/>
<circle cx="250.08" cy="237.41" r="0.76" fill="#60d0e8" fill-opacity="0.97"/>
<circle cx="245.19" cy="229.63" r="0.41" fill="#55c8e0" fill-opacity="0.84"/>
<circle cx="307.41" cy="225.35" r="0.39" fill="#55c8e0" fill-opacity="0.78"/>
<circle cx="262.54" cy="250.44" r="0.82" fill="#40b8d0" fill-opacity="0.85"/>
<circle cx="298.07" cy="232.04" r="0.37" fill="#3aa0c0" fill-opacity="0.66"/>
<circle cx="258.11" cy="227.96" r="0.65" fill="#55c8e0" fill-opacity="0.93"/>
<circle cx="306.69" cy="234.59" r="0.54" fill="#3aa0c0" fill-opacity="0.63"/>
<circle cx="244.49" cy="238.31" r="0.59" fill="#60d0e8" fill-opacity="0.64"/>
<circle cx="273.23" cy="240.66" r="0.67" fill="#40b8d0" fill-opacity="0.86"/>
<circle cx="273.42" cy="228.66" r="0.84" fill="#3aa0c0" fill-opacity="0.77"/>
<circle cx="246.06" cy="249.05" r="0.79" fill="#60d0e8" fill-opacity="0.77"/>
<circle cx="310.28" cy="259.85" r="0.53" fill="#55c8e0" fill-opacity="0.76"/>
<circle cx="273.99" cy="257.51" r="0.57" fill="#55c8e0" fill-opacity="0.77"/>
<circle cx="306.81" cy="234.47" r="0.79" fill="#60d0e8" fill-opacity="0.91"/>
<circle cx="252.27" cy="219.22" r="0.42" fill="#60d0e8" fill-opacity="0.64"/>
<circle cx="291.15" cy="232.95" r="0.6" fill="#55c8e0" fill-opacity="0.74"/>
<circle cx="254.78" cy="224.39" r="0.38" fill="#60d0e8" fill-opacity="0.80"/>
<circle cx="305.58" cy="258.58" r="0.45" fill="#55c8e0" fill-opacity="0.93"/>
<circle cx="245.44" cy="256.25" r="0.51" fill="#60d0e8" fill-opacity="0.63"/>
<circle cx="298.27" cy="246.59" r="0.8" fill="#55c8e0" fill-opacity="0.85"/>
<circle cx="290.56" cy="225.43" r="0.59" fill="#55c8e0" fill-opacity="0.62"/>
<circle cx="316.15" cy="223.73" r="0.53" fill="#55c8e0" fill-opacity="0.70"/>
<circle cx="299.27" cy="255.58" r="0.37" fill="#40b8d0" fill-opacity="0.87"/>
<circle cx="267.61" cy="233.76" r="0.58" fill="#3aa0c0" fill-opacity="0.86"/>
<circle cx="266.35" cy="227.72" r="0.54" fill="#3aa0c0" fill-opacity="0.78"/>
<circle cx="276.63" cy="218.01" r="0.66" fill="#60d0e8" fill-opacity="0.79"/>
<circle cx="277.3" cy="243.6" r="0.76" fill="#55c8e0" fill-opacity="0.92"/>
<circle cx="273.63" cy="219.89" r="0.53" fill="#3aa0c0" fill-opacity="0.64"/>
<circle cx="276.92" cy="238.94" r="0.37" fill="#55c8e0" fill-opacity="0.63"/>
<circle cx="299.94" cy="250.44" r="0.61" fill="#40b8d0" fill-opacity="0.90"/>
<circle cx="312.69" cy="245.07" r="0.74" fill="#40b8d0" fill-opacity="0.94"/>
<circle cx="320.69" cy="248.48" r="0.76" fill="#55c8e0" fill-opacity="0.65"/>
<circle cx="311.97" cy="229.38" r="0.76" fill="#55c8e0" fill-opacity="0.87"/>
</g>
<line x1="259" y1="260" x2="273" y2="252.5" stroke="#e8e8e8" stroke-width="0.7" marker-end="url(#ah)"/>
<line x1="303" y1="235" x2="288" y2="245" stroke="#e8e8e8" stroke-width="0.7" marker-end="url(#ah)"/>
</g>
<defs>
<clipPath id="dc2"><rect x="327" y="217" width="79" height="43"/></clipPath>
</defs>
<g clip-path="url(#dc2)"><g filter="url(#bl)">
<rect x="327" y="217" width="79" height="43" fill="#010301"/>
<polygon points="363,217 381,217 403,260 379,260" fill="#0e2a0c" fill-opacity="0.7"/>
<circle cx="379.47" cy="248.01" r="1.27" fill="#1c4e16" fill-opacity="0.57"/>
<circle cx="383.77" cy="255.55" r="1.25" fill="#2e7024" fill-opacity="0.61"/>
<circle cx="389.85" cy="258.47" r="1.07" fill="#2e7024" fill-opacity="0.64"/>
<circle cx="366.91" cy="218.58" r="0.73" fill="#1c4e16" fill-opacity="0.81"/>
<circle cx="381.27" cy="255.5" r="1.23" fill="#24601c" fill-opacity="0.85"/>
<circle cx="379.48" cy="219.09" r="1.37" fill="#347a28" fill-opacity="0.75"/>
<circle cx="391.24" cy="241.94" r="0.68" fill="#347a28" fill-opacity="0.83"/>
<circle cx="376.54" cy="232.97" r="0.9" fill="#2e7024" fill-opacity="0.66"/>
<circle cx="385.22" cy="249.88" r="0.74" fill="#24601c" fill-opacity="0.63"/>
<circle cx="377.8" cy="239.19" r="1.37" fill="#1c4e16" fill-opacity="0.83"/>
<circle cx="379.94" cy="249.13" r="0.83" fill="#347a28" fill-opacity="0.69"/>
<circle cx="369.79" cy="232.66" r="0.99" fill="#24601c" fill-opacity="0.51"/>
<circle cx="369.44" cy="217.11" r="0.69" fill="#1c4e16" fill-opacity="0.74"/>
<circle cx="375.78" cy="234.77" r="0.71" fill="#1c4e16" fill-opacity="0.78"/>
<circle cx="373.41" cy="237.42" r="1.35" fill="#2e7024" fill-opacity="0.82"/>
<circle cx="371.53" cy="236.39" r="0.72" fill="#1c4e16" fill-opacity="0.68"/>
<circle cx="367.45" cy="228.36" r="1.12" fill="#1c4e16" fill-opacity="0.77"/>
<circle cx="385.18" cy="241.87" r="1.01" fill="#347a28" fill-opacity="0.61"/>
<circle cx="378.49" cy="255.85" r="1.03" fill="#347a28" fill-opacity="0.58"/>
<circle cx="382.83" cy="223.85" r="0.68" fill="#2e7024" fill-opacity="0.56"/>
<circle cx="377.87" cy="225.58" r="1.01" fill="#347a28" fill-opacity="0.87"/>
<circle cx="371.69" cy="224.51" r="0.84" fill="#24601c" fill-opacity="0.95"/>
<circle cx="385.27" cy="248.15" r="1.03" fill="#347a28" fill-opacity="0.88"/>
<circle cx="385.38" cy="249.04" r="1.19" fill="#347a28" fill-opacity="0.58"/>
<circle cx="385.21" cy="259.85" r="1.12" fill="#24601c" fill-opacity="0.65"/>
<circle cx="390.63" cy="249.24" r="1.28" fill="#24601c" fill-opacity="0.62"/>
<circle cx="381.16" cy="240.81" r="1.23" fill="#1c4e16" fill-opacity="0.63"/>
<circle cx="398.93" cy="256.93" r="0.67" fill="#24601c" fill-opacity="0.58"/>
<circle cx="397.2" cy="255.9" r="0.76" fill="#2e7024" fill-opacity="0.84"/>
<circle cx="385.8" cy="231.06" r="0.86" fill="#2e7024" fill-opacity="0.67"/>
<circle cx="397.93" cy="253.63" r="1.39" fill="#347a28" fill-opacity="0.71"/>
<circle cx="371.63" cy="239.82" r="0.62" fill="#2e7024" fill-opacity="0.76"/>
<circle cx="372.13" cy="230.23" r="1.1" fill="#24601c" fill-opacity="0.75"/>
<circle cx="366.37" cy="224.38" r="0.69" fill="#2e7024" fill-opacity="0.66"/>
<circle cx="365.81" cy="223.1" r="0.63" fill="#24601c" fill-opacity="0.81"/>
<circle cx="376.26" cy="248.68" r="1.07" fill="#1c4e16" fill-opacity="0.59"/>
<circle cx="390.94" cy="258.05" r="1.13" fill="#347a28" fill-opacity="0.55"/>
<circle cx="368.45" cy="225.85" r="0.63" fill="#24601c" fill-opacity="0.87"/>
<circle cx="379.37" cy="244.16" r="0.68" fill="#24601c" fill-opacity="0.86"/>
<circle cx="379.78" cy="244.79" r="0.87" fill="#1c4e16" fill-opacity="0.51"/>
<circle cx="372.63" cy="228.04" r="1.17" fill="#1c4e16" fill-opacity="0.91"/>
<circle cx="388.92" cy="250.08" r="0.98" fill="#1c4e16" fill-opacity="0.78"/>
<circle cx="371.01" cy="218.33" r="0.95" fill="#24601c" fill-opacity="0.66"/>
<circle cx="386.23" cy="247.3" r="0.77" fill="#24601c" fill-opacity="0.76"/>
<circle cx="376.19" cy="229.35" r="1.02" fill="#1c4e16" fill-opacity="0.84"/>
<circle cx="378.75" cy="259.05" r="0.99" fill="#347a28" fill-opacity="0.81"/>
<circle cx="398.4" cy="252.49" r="1.07" fill="#1c4e16" fill-opacity="0.76"/>
<circle cx="380.99" cy="223.83" r="1.35" fill="#2e7024" fill-opacity="0.72"/>
<circle cx="376.64" cy="221.73" r="0.66" fill="#24601c" fill-opacity="0.78"/>
<circle cx="376.77" cy="232.29" r="0.92" fill="#24601c" fill-opacity="0.69"/>
<circle cx="381.47" cy="244.77" r="0.84" fill="#347a28" fill-opacity="0.91"/>
<circle cx="378.99" cy="238.55" r="1.31" fill="#2e7024" fill-opacity="0.92"/>
<circle cx="376.18" cy="222.46" r="1.15" fill="#24601c" fill-opacity="0.66"/>
<circle cx="371.33" cy="231.05" r="1.27" fill="#1c4e16" fill-opacity="0.58"/>
<circle cx="385.98" cy="235.87" r="1.06" fill="#2e7024" fill-opacity="0.65"/>
<circle cx="388.51" cy="244.64" r="1.01" fill="#1c4e16" fill-opacity="0.64"/>
<circle cx="393" cy="247.24" r="0.72" fill="#2e7024" fill-opacity="0.94"/>
<circle cx="388.04" cy="248.1" r="0.88" fill="#2e7024" fill-opacity="0.65"/>
<circle cx="384.69" cy="225.14" r="1.18" fill="#24601c" fill-opacity="0.57"/>
<circle cx="377.82" cy="245.29" r="0.72" fill="#2e7024" fill-opacity="0.86"/>
<circle cx="384.47" cy="248.53" r="0.76" fill="#24601c" fill-opacity="0.63"/>
<circle cx="387.98" cy="255.07" r="0.61" fill="#347a28" fill-opacity="0.81"/>
<circle cx="384.29" cy="238.52" r="0.97" fill="#2e7024" fill-opacity="0.62"/>
<circle cx="374.94" cy="248.74" r="0.79" fill="#347a28" fill-opacity="0.82"/>
<circle cx="386.33" cy="242.26" r="1.28" fill="#2e7024" fill-opacity="0.81"/>
<circle cx="383.18" cy="244.59" r="0.85" fill="#24601c" fill-opacity="0.90"/>
<circle cx="374.66" cy="227.42" r="1.17" fill="#2e7024" fill-opacity="0.61"/>
<circle cx="379.13" cy="235.21" r="1.1" fill="#347a28" fill-opacity="0.73"/>
<circle cx="392.75" cy="245.43" r="1.32" fill="#1c4e16" fill-opacity="0.85"/>
<circle cx="379.18" cy="233.71" r="1.38" fill="#24601c" fill-opacity="0.61"/>
<circle cx="380.31" cy="226.37" r="1.36" fill="#2e7024" fill-opacity="0.73"/>
<circle cx="375.31" cy="221.35" r="1.03" fill="#347a28" fill-opacity="0.73"/>
<circle cx="391.33" cy="244.49" r="1.02" fill="#347a28" fill-opacity="0.83"/>
<circle cx="390.85" cy="236.65" r="0.75" fill="#24601c" fill-opacity="0.83"/>
<circle cx="386.65" cy="243.4" r="0.8" fill="#347a28" fill-opacity="0.68"/>
<circle cx="370.78" cy="217.57" r="0.94" fill="#1c4e16" fill-opacity="0.76"/>
<circle cx="370.41" cy="221.7" r="0.92" fill="#2e7024" fill-opacity="0.95"/>
<circle cx="389.36" cy="258.32" r="0.73" fill="#24601c" fill-opacity="0.86"/>
<circle cx="383.38" cy="244.27" r="1.05" fill="#2e7024" fill-opacity="0.87"/>
<circle cx="377.91" cy="223.29" r="1.26" fill="#347a28" fill-opacity="0.71"/>
<circle cx="378.55" cy="229.66" r="0.7" fill="#347a28" fill-opacity="0.66"/>
<circle cx="382.79" cy="253.58" r="0.9" fill="#1c4e16" fill-opacity="0.94"/>
<circle cx="384.49" cy="246.19" r="1.24" fill="#1c4e16" fill-opacity="0.66"/>
<circle cx="380.49" cy="245.14" r="0.99" fill="#24601c" fill-opacity="0.80"/>
<circle cx="387.54" cy="232.58" r="1.28" fill="#24601c" fill-opacity="0.54"/>
<circle cx="378.98" cy="241.28" r="1.35" fill="#1c4e16" fill-opacity="0.78"/>
<circle cx="363.45" cy="217.64" r="1.36" fill="#1c4e16" fill-opacity="0.61"/>
<circle cx="367.28" cy="221.37" r="0.79" fill="#347a28" fill-opacity="0.66"/>
<circle cx="382.54" cy="223.56" r="1.23" fill="#2e7024" fill-opacity="0.77"/>
<circle cx="395.63" cy="246.59" r="0.67" fill="#1c4e16" fill-opacity="0.59"/>
<circle cx="385.85" cy="246.79" r="1.19" fill="#347a28" fill-opacity="0.80"/>
<circle cx="367.09" cy="222.03" r="0.94" fill="#2e7024" fill-opacity="0.71"/>
<circle cx="382.25" cy="240.96" r="1.32" fill="#347a28" fill-opacity="0.61"/>
<circle cx="377.02" cy="224.08" r="1.19" fill="#2e7024" fill-opacity="0.88"/>
<circle cx="382.19" cy="237.12" r="1.13" fill="#347a28" fill-opacity="0.67"/>
<circle cx="389.41" cy="235.01" r="0.66" fill="#1c4e16" fill-opacity="0.79"/>
<circle cx="374.53" cy="218.23" r="1.15" fill="#1c4e16" fill-opacity="0.86"/>
<circle cx="373.49" cy="221.04" r="1.21" fill="#2e7024" fill-opacity="0.52"/>
<circle cx="388.44" cy="247.88" r="0.87" fill="#1c4e16" fill-opacity="0.65"/>
<circle cx="388.02" cy="250.48" r="1.33" fill="#1c4e16" fill-opacity="0.70"/>
<circle cx="381.13" cy="235.16" r="1.26" fill="#1c4e16" fill-opacity="0.66"/>
<circle cx="377.9" cy="238.23" r="1.39" fill="#1c4e16" fill-opacity="0.94"/>
<circle cx="390.84" cy="245.15" r="0.86" fill="#1c4e16" fill-opacity="0.82"/>
<circle cx="383.3" cy="222.49" r="0.67" fill="#24601c" fill-opacity="0.68"/>
<circle cx="380.53" cy="240.83" r="1.06" fill="#347a28" fill-opacity="0.64"/>
<circle cx="366.53" cy="217.27" r="1.34" fill="#24601c" fill-opacity="0.86"/>
<circle cx="391.91" cy="256.12" r="1.09" fill="#24601c" fill-opacity="0.60"/>
<circle cx="383.75" cy="245.68" r="1.21" fill="#24601c" fill-opacity="0.80"/>
<circle cx="386.69" cy="254.38" r="0.68" fill="#24601c" fill-opacity="0.67"/>
<circle cx="394.2" cy="252.37" r="1.05" fill="#1c4e16" fill-opacity="0.89"/>
<circle cx="341.6" cy="218.47" r="0.31" fill="#40b8d0" fill-opacity="0.76"/>
<circle cx="400.77" cy="219.35" r="0.53" fill="#3a8fd0" fill-opacity="0.83"/>
<circle cx="388.13" cy="235.11" r="0.58" fill="#5ab0e8" fill-opacity="0.68"/>
<circle cx="328.12" cy="233.65" r="0.54" fill="#55c8e0" fill-opacity="0.89"/>
<circle cx="364.56" cy="234.73" r="0.34" fill="#55c8e0" fill-opacity="0.69"/>
<circle cx="397.77" cy="243.96" r="0.47" fill="#3a8fd0" fill-opacity="0.77"/>
<circle cx="336.61" cy="258.55" r="0.34" fill="#3aa0c0" fill-opacity="0.55"/>
<circle cx="364.31" cy="228.84" r="0.53" fill="#5ab0e8" fill-opacity="0.79"/>
<circle cx="341.81" cy="219.16" r="0.61" fill="#55c8e0" fill-opacity="0.78"/>
<circle cx="338.44" cy="249.65" r="0.42" fill="#40b8d0" fill-opacity="0.78"/>
<circle cx="363.39" cy="257.09" r="0.4" fill="#3a8fd0" fill-opacity="0.79"/>
<circle cx="327.9" cy="217.63" r="0.56" fill="#3aa0c0" fill-opacity="0.75"/>
<circle cx="357.73" cy="230.44" r="0.54" fill="#3aa0c0" fill-opacity="0.83"/>
<circle cx="375.11" cy="230.6" r="0.68" fill="#55c8e0" fill-opacity="0.68"/>
<circle cx="380.47" cy="223.23" r="0.62" fill="#2f78b8" fill-opacity="0.88"/>
<circle cx="339.96" cy="251.48" r="0.49" fill="#3aa0c0" fill-opacity="0.81"/>
<circle cx="401.65" cy="250.74" r="0.53" fill="#2f78b8" fill-opacity="0.61"/>
<circle cx="376.13" cy="244.99" r="0.62" fill="#40b8d0" fill-opacity="0.63"/>
<circle cx="374.86" cy="259.03" r="0.63" fill="#40b8d0" fill-opacity="0.83"/>
<circle cx="373.19" cy="258.98" r="0.4" fill="#5ab0e8" fill-opacity="0.77"/>
<circle cx="374.54" cy="255.53" r="0.62" fill="#2f78b8" fill-opacity="0.78"/>
<circle cx="352.4" cy="228.52" r="0.36" fill="#3aa0c0" fill-opacity="0.81"/>
<circle cx="388.86" cy="229.41" r="0.36" fill="#3aa0c0" fill-opacity="0.90"/>
<circle cx="338.61" cy="258.94" r="0.62" fill="#40b8d0" fill-opacity="0.77"/>
<circle cx="399.19" cy="231.91" r="0.33" fill="#40b8d0" fill-opacity="0.69"/>
<circle cx="357.16" cy="250.87" r="0.59" fill="#4aa0e0" fill-opacity="0.62"/>
<circle cx="331.55" cy="234.01" r="0.58" fill="#2f78b8" fill-opacity="0.73"/>
<circle cx="327.74" cy="233.55" r="0.52" fill="#40b8d0" fill-opacity="0.82"/>
<circle cx="388" cy="227.01" r="0.53" fill="#2f78b8" fill-opacity="0.85"/>
<circle cx="368.23" cy="237.49" r="0.54" fill="#4aa0e0" fill-opacity="0.59"/>
<circle cx="334.28" cy="251.65" r="0.42" fill="#40b8d0" fill-opacity="0.73"/>
<circle cx="358.8" cy="239.24" r="0.36" fill="#3a8fd0" fill-opacity="0.87"/>
<circle cx="365.97" cy="254.25" r="0.45" fill="#5ab0e8" fill-opacity="0.81"/>
<circle cx="339.34" cy="242.68" r="0.44" fill="#40b8d0" fill-opacity="0.74"/>
<circle cx="334.43" cy="225.8" r="0.65" fill="#40b8d0" fill-opacity="0.69"/>
<circle cx="371.81" cy="228.25" r="0.61" fill="#5ab0e8" fill-opacity="0.54"/>
<circle cx="362.3" cy="242.5" r="0.54" fill="#4aa0e0" fill-opacity="0.60"/>
<circle cx="329.99" cy="225.64" r="0.37" fill="#3a8fd0" fill-opacity="0.51"/>
<circle cx="329.75" cy="232.89" r="0.58" fill="#5ab0e8" fill-opacity="0.88"/>
<circle cx="398.88" cy="219.76" r="0.54" fill="#5ab0e8" fill-opacity="0.87"/>
<circle cx="382.8" cy="220.87" r="0.43" fill="#4aa0e0" fill-opacity="0.76"/>
<circle cx="402.56" cy="245.8" r="0.46" fill="#5ab0e8" fill-opacity="0.84"/>
<circle cx="356.3" cy="227.11" r="0.59" fill="#4aa0e0" fill-opacity="0.52"/>
<circle cx="347.21" cy="232.14" r="0.66" fill="#3a8fd0" fill-opacity="0.83"/>
<circle cx="330.72" cy="250.81" r="0.58" fill="#55c8e0" fill-opacity="0.80"/>
<circle cx="365.19" cy="221.35" r="0.43" fill="#3a8fd0" fill-opacity="0.88"/>
<circle cx="380.47" cy="229.85" r="0.54" fill="#3aa0c0" fill-opacity="0.76"/>
<circle cx="364.19" cy="232.98" r="0.46" fill="#2f78b8" fill-opacity="0.69"/>
<circle cx="340.32" cy="227.25" r="0.36" fill="#55c8e0" fill-opacity="0.86"/>
<circle cx="363.96" cy="256.24" r="0.62" fill="#4aa0e0" fill-opacity="0.87"/>
<circle cx="344.42" cy="257.16" r="0.65" fill="#55c8e0" fill-opacity="0.56"/>
<circle cx="362.33" cy="221.17" r="0.67" fill="#3aa0c0" fill-opacity="0.51"/>
<circle cx="332.94" cy="258.81" r="0.43" fill="#4aa0e0" fill-opacity="0.69"/>
<circle cx="376.63" cy="223.14" r="0.39" fill="#3a8fd0" fill-opacity="0.57"/>
<circle cx="362.66" cy="255.24" r="0.48" fill="#4aa0e0" fill-opacity="0.61"/>
<circle cx="359.53" cy="223.69" r="0.41" fill="#3aa0c0" fill-opacity="0.62"/>
<circle cx="390.53" cy="228.21" r="0.34" fill="#5ab0e8" fill-opacity="0.86"/>
<circle cx="336.02" cy="259.08" r="0.32" fill="#3aa0c0" fill-opacity="0.77"/>
<circle cx="343.68" cy="237.53" r="0.41" fill="#2f78b8" fill-opacity="0.80"/>
<circle cx="403.69" cy="235.58" r="0.4" fill="#4aa0e0" fill-opacity="0.87"/>
<circle cx="334.71" cy="229.45" r="0.86" fill="#30a020" fill-opacity="0.93"/>
<circle cx="404.3" cy="223.21" r="0.76" fill="#30a020" fill-opacity="0.92"/>
<circle cx="353.93" cy="223.03" r="0.5" fill="#30a020" fill-opacity="0.67"/>
<circle cx="361.38" cy="256.22" r="0.59" fill="#30a020" fill-opacity="0.66"/>
<circle cx="341.23" cy="250.13" r="0.78" fill="#30a020" fill-opacity="0.84"/>
<circle cx="392.49" cy="255.24" r="0.79" fill="#30a020" fill-opacity="0.67"/>
<circle cx="337.83" cy="245.81" r="0.75" fill="#30a020" fill-opacity="0.83"/>
<circle cx="342.98" cy="219.82" r="0.79" fill="#30a020" fill-opacity="0.94"/>
</g>
<line x1="357" y1="255" x2="379" y2="244" stroke="#e8e8e8" stroke-width="0.7" marker-end="url(#ah)"/>
<line x1="405" y1="227" x2="394" y2="236" stroke="#e8e8e8" stroke-width="0.7" marker-end="url(#ah)"/>
</g>
<defs>
<clipPath id="dc3"><rect x="412" y="217" width="79" height="43"/></clipPath>
</defs>
<g clip-path="url(#dc3)"><g filter="url(#bl)">
<defs><linearGradient id="g13" x1="0" y1="0" x2="1" y2="0.6"><stop offset="0" stop-color="#44d826"/><stop offset="0.45" stop-color="#32b01e"/><stop offset="1" stop-color="#1f8414"/></linearGradient></defs>
<rect x="412" y="217" width="79" height="43" fill="url(#g13)"/>
<circle cx="484.38" cy="239.29" r="0.95" fill="#50f030" fill-opacity="0.94"/>
<circle cx="480.3" cy="238.2" r="0.62" fill="#1f8012" fill-opacity="0.65"/>
<circle cx="464.57" cy="227.68" r="1.16" fill="#50f030" fill-opacity="0.61"/>
<circle cx="467.48" cy="241.72" r="1.46" fill="#50f030" fill-opacity="0.81"/>
<circle cx="447.22" cy="239.17" r="0.72" fill="#2aa018" fill-opacity="0.93"/>
<circle cx="480.37" cy="230.8" r="1.31" fill="#1f8012" fill-opacity="0.83"/>
<circle cx="482.95" cy="229.54" r="0.71" fill="#1f8012" fill-opacity="0.78"/>
<circle cx="414.03" cy="251.59" r="0.73" fill="#2aa018" fill-opacity="0.99"/>
<circle cx="429.67" cy="224.84" r="0.7" fill="#50f030" fill-opacity="0.82"/>
<circle cx="487.47" cy="217.84" r="1.53" fill="#2aa018" fill-opacity="0.70"/>
<circle cx="478.15" cy="244.38" r="1.06" fill="#2aa018" fill-opacity="0.88"/>
<circle cx="420.13" cy="254.39" r="1.32" fill="#48e02a" fill-opacity="0.71"/>
<circle cx="448.72" cy="242.19" r="1.36" fill="#48e02a" fill-opacity="0.65"/>
<circle cx="444.05" cy="222.89" r="1.19" fill="#2aa018" fill-opacity="0.66"/>
<circle cx="457.25" cy="249.1" r="0.76" fill="#48e02a" fill-opacity="0.98"/>
<circle cx="442.71" cy="235.08" r="1.44" fill="#48e02a" fill-opacity="0.76"/>
<circle cx="486.36" cy="250.41" r="0.94" fill="#2aa018" fill-opacity="0.94"/>
<circle cx="468.53" cy="253.25" r="1.16" fill="#50f030" fill-opacity="0.93"/>
<circle cx="478.96" cy="219.3" r="1.12" fill="#50f030" fill-opacity="0.70"/>
<circle cx="445.35" cy="244.21" r="0.96" fill="#2aa018" fill-opacity="0.63"/>
<circle cx="446.21" cy="238.71" r="0.62" fill="#2aa018" fill-opacity="0.77"/>
<circle cx="443.37" cy="259.89" r="1.05" fill="#48e02a" fill-opacity="0.92"/>
<circle cx="481.87" cy="255.04" r="0.63" fill="#50f030" fill-opacity="0.97"/>
<circle cx="461.25" cy="244.01" r="1.41" fill="#48e02a" fill-opacity="0.85"/>
<circle cx="431.8" cy="239.37" r="1.03" fill="#48e02a" fill-opacity="0.72"/>
<circle cx="436.13" cy="244.84" r="0.72" fill="#50f030" fill-opacity="0.63"/>
<circle cx="458.63" cy="257.07" r="1.04" fill="#2aa018" fill-opacity="0.95"/>
<circle cx="484.33" cy="241.83" r="0.87" fill="#48e02a" fill-opacity="0.90"/>
<circle cx="434.69" cy="236.53" r="1.29" fill="#2aa018" fill-opacity="0.86"/>
<circle cx="427.89" cy="247.55" r="1.06" fill="#50f030" fill-opacity="0.85"/>
<circle cx="449.05" cy="230.35" r="0.84" fill="#2aa018" fill-opacity="0.68"/>
<circle cx="455.13" cy="258.69" r="1" fill="#50f030" fill-opacity="0.66"/>
<circle cx="487.21" cy="230.93" r="0.93" fill="#50f030" fill-opacity="0.71"/>
<circle cx="490.01" cy="229.71" r="1.37" fill="#2aa018" fill-opacity="0.82"/>
<circle cx="459.87" cy="231.96" r="1.26" fill="#1f8012" fill-opacity="0.93"/>
<circle cx="439.97" cy="249.8" r="1.12" fill="#2aa018" fill-opacity="0.77"/>
<circle cx="464.79" cy="223.03" r="0.8" fill="#50f030" fill-opacity="0.93"/>
<circle cx="452.9" cy="248.77" r="1.34" fill="#1f8012" fill-opacity="0.71"/>
<circle cx="461.82" cy="244.18" r="1.3" fill="#1f8012" fill-opacity="0.95"/>
<circle cx="412.34" cy="249.92" r="1.19" fill="#1f8012" fill-opacity="0.76"/>
<circle cx="490.44" cy="223.43" r="1.45" fill="#50f030" fill-opacity="0.95"/>
<circle cx="459.98" cy="233.32" r="1.05" fill="#1f8012" fill-opacity="0.72"/>
<circle cx="439.86" cy="232.18" r="1.13" fill="#1f8012" fill-opacity="0.86"/>
<circle cx="412.53" cy="249.07" r="1.59" fill="#1f8012" fill-opacity="0.78"/>
<circle cx="426.55" cy="230.07" r="0.74" fill="#1f8012" fill-opacity="0.83"/>
<circle cx="418.95" cy="256.57" r="0.92" fill="#2aa018" fill-opacity="0.98"/>
<circle cx="428.14" cy="235.34" r="1.51" fill="#48e02a" fill-opacity="0.61"/>
<circle cx="432.27" cy="255.52" r="0.9" fill="#50f030" fill-opacity="0.82"/>
<circle cx="490.87" cy="239.25" r="1.12" fill="#1f8012" fill-opacity="0.76"/>
<circle cx="440.26" cy="242.57" r="0.95" fill="#48e02a" fill-opacity="0.87"/>
<circle cx="453.49" cy="221.26" r="0.97" fill="#1f8012" fill-opacity="0.86"/>
<circle cx="485.34" cy="223.63" r="0.79" fill="#1f8012" fill-opacity="0.79"/>
<circle cx="446.77" cy="243.86" r="1.6" fill="#50f030" fill-opacity="0.88"/>
<circle cx="470.97" cy="220.97" r="0.96" fill="#50f030" fill-opacity="0.99"/>
<circle cx="477.26" cy="239.04" r="0.71" fill="#50f030" fill-opacity="0.88"/>
<circle cx="476.82" cy="259.58" r="1.49" fill="#1f8012" fill-opacity="0.85"/>
<circle cx="453.4" cy="252.09" r="0.81" fill="#2aa018" fill-opacity="0.76"/>
<circle cx="416.75" cy="241.29" r="0.71" fill="#48e02a" fill-opacity="0.88"/>
<circle cx="412.85" cy="217.12" r="1.31" fill="#48e02a" fill-opacity="0.97"/>
<circle cx="443.41" cy="221.24" r="0.62" fill="#48e02a" fill-opacity="0.68"/>
<circle cx="451.33" cy="240.79" r="0.87" fill="#2aa018" fill-opacity="0.83"/>
<circle cx="444.48" cy="222.22" r="0.76" fill="#48e02a" fill-opacity="0.61"/>
<circle cx="418.01" cy="257.76" r="1.09" fill="#1f8012" fill-opacity="0.85"/>
<circle cx="475.72" cy="219.67" r="0.61" fill="#50f030" fill-opacity="0.66"/>
<circle cx="430.82" cy="228.84" r="0.63" fill="#48e02a" fill-opacity="0.94"/>
<circle cx="486.87" cy="219.71" r="0.79" fill="#1f8012" fill-opacity="0.61"/>
<circle cx="429.38" cy="234.03" r="1.36" fill="#48e02a" fill-opacity="0.78"/>
<circle cx="460.99" cy="227.72" r="0.64" fill="#2aa018" fill-opacity="0.73"/>
<circle cx="483.01" cy="252.08" r="0.9" fill="#50f030" fill-opacity="0.98"/>
<circle cx="451.15" cy="257.84" r="0.84" fill="#1f8012" fill-opacity="0.87"/>
<circle cx="458.2" cy="234.78" r="1" fill="#1f8012" fill-opacity="0.61"/>
<circle cx="480.59" cy="220.76" r="0.77" fill="#1f8012" fill-opacity="0.67"/>
<circle cx="488.75" cy="229.5" r="1.16" fill="#48e02a" fill-opacity="0.73"/>
<circle cx="480.85" cy="231.44" r="1.25" fill="#48e02a" fill-opacity="0.77"/>
<circle cx="484.13" cy="240.82" r="0.99" fill="#1f8012" fill-opacity="0.71"/>
<circle cx="430.74" cy="218.5" r="1.26" fill="#50f030" fill-opacity="0.92"/>
<circle cx="431.1" cy="222.58" r="0.8" fill="#2aa018" fill-opacity="0.82"/>
<circle cx="448.9" cy="251.18" r="0.84" fill="#50f030" fill-opacity="0.74"/>
<circle cx="469.07" cy="233.21" r="1.56" fill="#2aa018" fill-opacity="0.72"/>
<circle cx="449.6" cy="225.79" r="1.46" fill="#2aa018" fill-opacity="0.98"/>
<circle cx="490.84" cy="242.63" r="1.04" fill="#50f030" fill-opacity="0.81"/>
<circle cx="443.93" cy="238.94" r="0.73" fill="#48e02a" fill-opacity="0.87"/>
<circle cx="419.23" cy="253.63" r="1.34" fill="#1f8012" fill-opacity="0.61"/>
<circle cx="468.74" cy="223.24" r="0.62" fill="#48e02a" fill-opacity="0.88"/>
<circle cx="473.31" cy="226.96" r="0.79" fill="#48e02a" fill-opacity="0.63"/>
<circle cx="484.19" cy="251.62" r="1.36" fill="#2aa018" fill-opacity="0.63"/>
<circle cx="436.59" cy="226.74" r="0.73" fill="#1f8012" fill-opacity="0.71"/>
<circle cx="443.87" cy="256.08" r="1.37" fill="#2aa018" fill-opacity="0.97"/>
<circle cx="425.94" cy="232.76" r="1.4" fill="#50f030" fill-opacity="0.96"/>
<circle cx="414" cy="247.26" r="1.06" fill="#1f8012" fill-opacity="0.74"/>
<polygon points="412,217 440,217 412,239" fill="#052a03"/>
<polygon points="412,239 440,217 448,217 416,247" fill="#105a08" fill-opacity="0.6"/>
<rect x="412" y="217" width="79" height="43" fill="#000" filter="url(#nz)" opacity="0.55"/>
</g>
<line x1="415" y1="226" x2="435" y2="237" stroke="#e8e8e8" stroke-width="0.7" marker-end="url(#ah)"/>
<line x1="471" y1="257" x2="452" y2="247" stroke="#e8e8e8" stroke-width="0.7" marker-end="url(#ah)"/>
</g>
<defs>
<clipPath id="dc4"><rect x="242" y="276" width="79" height="39.6"/></clipPath>
</defs>
<g clip-path="url(#dc4)"><g filter="url(#bl)">
<rect x="242" y="276" width="79" height="39.6" fill="#010204"/>
<polygon points="250,276 276,276 292,315.6 264,315.6" fill="#0a1a2a" fill-opacity="0.35"/>
<circle cx="263.76" cy="300.9" r="0.4" fill="#2a5f90" fill-opacity="0.67"/>
<circle cx="261.09" cy="304.22" r="0.37" fill="#4aa0e0" fill-opacity="0.52"/>
<circle cx="264.89" cy="305.98" r="0.68" fill="#2a5f90" fill-opacity="0.46"/>
<circle cx="263.84" cy="301.28" r="0.73" fill="#2a5f90" fill-opacity="0.55"/>
<circle cx="282.32" cy="296.62" r="0.65" fill="#2a5f90" fill-opacity="0.47"/>
<circle cx="271.71" cy="276.04" r="0.7" fill="#2f78b8" fill-opacity="0.75"/>
<circle cx="278.49" cy="310.65" r="0.66" fill="#4aa0e0" fill-opacity="0.64"/>
<circle cx="258.83" cy="277.47" r="0.7" fill="#2f78b8" fill-opacity="0.67"/>
<circle cx="269.39" cy="279.41" r="0.53" fill="#2a5f90" fill-opacity="0.71"/>
<circle cx="256.33" cy="287.13" r="0.78" fill="#5ab0e8" fill-opacity="0.52"/>
<circle cx="268.19" cy="289.48" r="0.66" fill="#5ab0e8" fill-opacity="0.55"/>
<circle cx="265.11" cy="302.79" r="0.65" fill="#4aa0e0" fill-opacity="0.54"/>
<circle cx="277.77" cy="283.5" r="0.72" fill="#2a5f90" fill-opacity="0.43"/>
<circle cx="283.91" cy="297.64" r="0.64" fill="#2a5f90" fill-opacity="0.43"/>
<circle cx="268.18" cy="314.16" r="0.51" fill="#3a8fd0" fill-opacity="0.40"/>
<circle cx="257.98" cy="288.3" r="0.67" fill="#5ab0e8" fill-opacity="0.42"/>
<circle cx="267.03" cy="285.57" r="0.55" fill="#2f78b8" fill-opacity="0.65"/>
<circle cx="270.46" cy="281.28" r="0.61" fill="#4aa0e0" fill-opacity="0.47"/>
<circle cx="276.56" cy="308.29" r="0.69" fill="#4aa0e0" fill-opacity="0.64"/>
<circle cx="277.93" cy="282.13" r="0.73" fill="#5ab0e8" fill-opacity="0.72"/>
<circle cx="259.19" cy="280.53" r="0.51" fill="#4aa0e0" fill-opacity="0.32"/>
<circle cx="270.99" cy="311.47" r="0.4" fill="#2f78b8" fill-opacity="0.52"/>
<circle cx="260.09" cy="280.47" r="0.56" fill="#2f78b8" fill-opacity="0.44"/>
<circle cx="259.04" cy="298.08" r="0.56" fill="#5ab0e8" fill-opacity="0.34"/>
<circle cx="286.93" cy="304.4" r="0.6" fill="#3a8fd0" fill-opacity="0.62"/>
<circle cx="277.03" cy="313.89" r="0.7" fill="#2f78b8" fill-opacity="0.30"/>
<circle cx="280.82" cy="312.41" r="0.63" fill="#2f78b8" fill-opacity="0.63"/>
<circle cx="270.64" cy="279.09" r="0.36" fill="#5ab0e8" fill-opacity="0.72"/>
<circle cx="259.09" cy="287.73" r="0.64" fill="#4aa0e0" fill-opacity="0.35"/>
<circle cx="268.58" cy="304.47" r="0.63" fill="#5ab0e8" fill-opacity="0.39"/>
<circle cx="270.41" cy="308.68" r="0.52" fill="#2a5f90" fill-opacity="0.76"/>
<circle cx="268.75" cy="309.18" r="0.38" fill="#3a8fd0" fill-opacity="0.58"/>
<circle cx="281.14" cy="300.88" r="0.67" fill="#3a8fd0" fill-opacity="0.77"/>
<circle cx="270.4" cy="295.58" r="0.42" fill="#2f78b8" fill-opacity="0.60"/>
<circle cx="262.64" cy="300.81" r="0.45" fill="#4aa0e0" fill-opacity="0.52"/>
<circle cx="266.08" cy="314.4" r="0.37" fill="#5ab0e8" fill-opacity="0.54"/>
<circle cx="262.9" cy="284.64" r="0.36" fill="#2a5f90" fill-opacity="0.73"/>
<circle cx="272.75" cy="307.16" r="0.48" fill="#3a8fd0" fill-opacity="0.56"/>
<circle cx="264.99" cy="292.68" r="0.55" fill="#4aa0e0" fill-opacity="0.75"/>
<circle cx="260.09" cy="282.51" r="0.55" fill="#2a5f90" fill-opacity="0.64"/>
<circle cx="270.67" cy="298.47" r="0.59" fill="#2a5f90" fill-opacity="0.53"/>
<circle cx="288.99" cy="314.46" r="0.74" fill="#5ab0e8" fill-opacity="0.78"/>
<circle cx="280.77" cy="300.55" r="0.38" fill="#2f78b8" fill-opacity="0.60"/>
<circle cx="269.35" cy="287.76" r="0.78" fill="#5ab0e8" fill-opacity="0.63"/>
<circle cx="274.65" cy="281.42" r="0.59" fill="#3a8fd0" fill-opacity="0.72"/>
<circle cx="272.68" cy="284.81" r="0.66" fill="#4aa0e0" fill-opacity="0.63"/>
<circle cx="270.74" cy="290.73" r="0.54" fill="#2a5f90" fill-opacity="0.42"/>
<circle cx="263.2" cy="293.48" r="0.45" fill="#4aa0e0" fill-opacity="0.57"/>
<circle cx="274.18" cy="280.45" r="0.46" fill="#3a8fd0" fill-opacity="0.39"/>
<circle cx="278.77" cy="302.54" r="0.45" fill="#5ab0e8" fill-opacity="0.41"/>
<circle cx="261.09" cy="298.68" r="0.58" fill="#2a5f90" fill-opacity="0.58"/>
<circle cx="280.75" cy="309.72" r="0.71" fill="#4aa0e0" fill-opacity="0.73"/>
<circle cx="277.07" cy="297.8" r="0.69" fill="#3a8fd0" fill-opacity="0.61"/>
<circle cx="277.83" cy="314.03" r="0.56" fill="#5ab0e8" fill-opacity="0.57"/>
<circle cx="268.91" cy="314.33" r="0.56" fill="#3a8fd0" fill-opacity="0.37"/>
<circle cx="262.45" cy="306.74" r="0.46" fill="#2f78b8" fill-opacity="0.32"/>
<circle cx="286.01" cy="303.8" r="0.56" fill="#3a8fd0" fill-opacity="0.65"/>
<circle cx="279.83" cy="292.87" r="0.63" fill="#4aa0e0" fill-opacity="0.58"/>
<circle cx="287.08" cy="312.33" r="0.43" fill="#2f78b8" fill-opacity="0.70"/>
<circle cx="260.62" cy="305.15" r="0.47" fill="#4aa0e0" fill-opacity="0.49"/>
<circle cx="286.37" cy="305.2" r="0.67" fill="#3a8fd0" fill-opacity="0.71"/>
<circle cx="264.45" cy="290" r="0.5" fill="#2a5f90" fill-opacity="0.36"/>
<circle cx="281.76" cy="312.64" r="0.46" fill="#4aa0e0" fill-opacity="0.65"/>
<circle cx="276.05" cy="276.84" r="0.55" fill="#3a8fd0" fill-opacity="0.54"/>
<circle cx="257.79" cy="278.92" r="0.42" fill="#2f78b8" fill-opacity="0.74"/>
<circle cx="282.24" cy="302.51" r="0.61" fill="#2f78b8" fill-opacity="0.57"/>
<circle cx="281.78" cy="303.3" r="0.78" fill="#3a8fd0" fill-opacity="0.31"/>
<circle cx="277.56" cy="315.38" r="0.57" fill="#3a8fd0" fill-opacity="0.70"/>
<circle cx="255.25" cy="277.4" r="0.72" fill="#2a5f90" fill-opacity="0.50"/>
<circle cx="260.93" cy="294.84" r="0.73" fill="#5ab0e8" fill-opacity="0.41"/>
<circle cx="277.84" cy="313.93" r="0.51" fill="#2a5f90" fill-opacity="0.41"/>
<circle cx="278.89" cy="311.4" r="0.37" fill="#4aa0e0" fill-opacity="0.71"/>
<circle cx="269.28" cy="304.8" r="0.56" fill="#2f78b8" fill-opacity="0.46"/>
<circle cx="267.59" cy="289.29" r="0.45" fill="#4aa0e0" fill-opacity="0.53"/>
<circle cx="265.08" cy="315.06" r="0.42" fill="#4aa0e0" fill-opacity="0.44"/>
<circle cx="267.1" cy="286.82" r="0.47" fill="#2a5f90" fill-opacity="0.59"/>
<circle cx="261.96" cy="299.14" r="0.66" fill="#2a5f90" fill-opacity="0.75"/>
<circle cx="256.55" cy="279.77" r="0.54" fill="#2a5f90" fill-opacity="0.62"/>
<circle cx="262.61" cy="290.37" r="0.71" fill="#4aa0e0" fill-opacity="0.64"/>
<circle cx="274.57" cy="288.04" r="0.68" fill="#2a5f90" fill-opacity="0.73"/>
<circle cx="276.56" cy="285.71" r="0.67" fill="#2f78b8" fill-opacity="0.33"/>
<circle cx="263.34" cy="289.35" r="0.79" fill="#5ab0e8" fill-opacity="0.55"/>
<circle cx="285.01" cy="311.41" r="0.8" fill="#4aa0e0" fill-opacity="0.37"/>
<circle cx="272.76" cy="276.29" r="0.55" fill="#5ab0e8" fill-opacity="0.50"/>
<circle cx="286.42" cy="306.58" r="0.61" fill="#4aa0e0" fill-opacity="0.45"/>
<circle cx="273.66" cy="288.22" r="0.6" fill="#2f78b8" fill-opacity="0.34"/>
<circle cx="277.06" cy="283.53" r="0.61" fill="#2f78b8" fill-opacity="0.59"/>
<circle cx="273.81" cy="315.1" r="0.7" fill="#5ab0e8" fill-opacity="0.66"/>
<circle cx="286.26" cy="312.51" r="0.49" fill="#4aa0e0" fill-opacity="0.44"/>
<circle cx="254.22" cy="286.2" r="0.42" fill="#2f78b8" fill-opacity="0.42"/>
<circle cx="251.52" cy="276.79" r="0.55" fill="#2a5f90" fill-opacity="0.44"/>
<circle cx="259.72" cy="295.88" r="0.46" fill="#3a8fd0" fill-opacity="0.78"/>
<circle cx="260.57" cy="299.8" r="0.71" fill="#2a5f90" fill-opacity="0.47"/>
<circle cx="256.86" cy="281.41" r="0.59" fill="#3a8fd0" fill-opacity="0.62"/>
<circle cx="268.83" cy="312.55" r="0.5" fill="#3a8fd0" fill-opacity="0.62"/>
<circle cx="273.88" cy="292.05" r="0.5" fill="#3a8fd0" fill-opacity="0.73"/>
<circle cx="263.55" cy="307.53" r="0.63" fill="#5ab0e8" fill-opacity="0.79"/>
<circle cx="280.79" cy="291.82" r="0.74" fill="#3a8fd0" fill-opacity="0.76"/>
<circle cx="284.69" cy="298.34" r="0.38" fill="#2a5f90" fill-opacity="0.66"/>
<circle cx="266.02" cy="309.06" r="0.36" fill="#4aa0e0" fill-opacity="0.37"/>
<circle cx="263.22" cy="306.38" r="0.72" fill="#5ab0e8" fill-opacity="0.47"/>
<circle cx="283.21" cy="302.93" r="0.42" fill="#2a5f90" fill-opacity="0.59"/>
<circle cx="269.59" cy="285.11" r="0.72" fill="#5ab0e8" fill-opacity="0.68"/>
<circle cx="269.38" cy="306.73" r="0.7" fill="#5ab0e8" fill-opacity="0.58"/>
<circle cx="269.21" cy="290.31" r="0.47" fill="#2f78b8" fill-opacity="0.30"/>
<circle cx="274.32" cy="294.84" r="0.7" fill="#2f78b8" fill-opacity="0.38"/>
<circle cx="269.73" cy="300.9" r="0.79" fill="#3a8fd0" fill-opacity="0.61"/>
<circle cx="265.97" cy="280.84" r="0.44" fill="#4aa0e0" fill-opacity="0.43"/>
<circle cx="278.56" cy="300" r="0.76" fill="#4aa0e0" fill-opacity="0.56"/>
<circle cx="273.86" cy="289.89" r="0.55" fill="#5ab0e8" fill-opacity="0.41"/>
<circle cx="287.84" cy="312.13" r="0.53" fill="#4aa0e0" fill-opacity="0.46"/>
<circle cx="265.65" cy="311.78" r="0.68" fill="#3a8fd0" fill-opacity="0.70"/>
<circle cx="281.55" cy="312.18" r="0.51" fill="#4aa0e0" fill-opacity="0.58"/>
<circle cx="280.39" cy="292.23" r="0.78" fill="#4aa0e0" fill-opacity="0.32"/>
<circle cx="268.76" cy="276.82" r="0.46" fill="#2f78b8" fill-opacity="0.40"/>
<circle cx="278.31" cy="306.06" r="0.48" fill="#5ab0e8" fill-opacity="0.41"/>
<circle cx="262.23" cy="298.55" r="0.74" fill="#2f78b8" fill-opacity="0.78"/>
<circle cx="259.8" cy="281.41" r="0.39" fill="#3a8fd0" fill-opacity="0.54"/>
<circle cx="266.96" cy="311.28" r="0.66" fill="#2a5f90" fill-opacity="0.78"/>
<circle cx="254.35" cy="284.4" r="0.7" fill="#2f78b8" fill-opacity="0.32"/>
<circle cx="303.14" cy="293.39" r="0.55" fill="#4aa0e0" fill-opacity="1.00"/>
<circle cx="265.51" cy="276.97" r="0.4" fill="#3a8fd0" fill-opacity="0.57"/>
<circle cx="265.91" cy="295.9" r="0.51" fill="#4aa0e0" fill-opacity="0.73"/>
<circle cx="273.38" cy="292.4" r="0.64" fill="#5ab0e8" fill-opacity="0.94"/>
<circle cx="319.39" cy="277.3" r="0.46" fill="#3a8fd0" fill-opacity="0.52"/>
<circle cx="281.88" cy="285.17" r="0.54" fill="#3a8fd0" fill-opacity="0.86"/>
<circle cx="245.82" cy="311.4" r="0.38" fill="#3a8fd0" fill-opacity="0.56"/>
<circle cx="280.5" cy="281.38" r="0.54" fill="#4aa0e0" fill-opacity="0.61"/>
<circle cx="284.69" cy="301.07" r="0.6" fill="#3a8fd0" fill-opacity="0.76"/>
<circle cx="308.33" cy="313.91" r="0.38" fill="#4aa0e0" fill-opacity="0.93"/>
<circle cx="318.79" cy="284.87" r="0.38" fill="#4aa0e0" fill-opacity="0.51"/>
<circle cx="263.25" cy="314.27" r="0.44" fill="#3a8fd0" fill-opacity="0.70"/>
<circle cx="285.97" cy="290.36" r="0.35" fill="#3a8fd0" fill-opacity="0.83"/>
<circle cx="284.97" cy="297.73" r="0.66" fill="#2f78b8" fill-opacity="0.70"/>
<circle cx="267.14" cy="292.6" r="0.79" fill="#5ab0e8" fill-opacity="0.88"/>
<circle cx="311.65" cy="307.83" r="0.75" fill="#3a8fd0" fill-opacity="0.62"/>
<circle cx="281.58" cy="315.15" r="0.66" fill="#5ab0e8" fill-opacity="1.00"/>
<circle cx="307.22" cy="302.27" r="0.39" fill="#3a8fd0" fill-opacity="0.95"/>
<circle cx="245.91" cy="303.49" r="0.5" fill="#5ab0e8" fill-opacity="0.77"/>
<circle cx="266.93" cy="314.48" r="0.35" fill="#5ab0e8" fill-opacity="0.76"/>
<circle cx="288.79" cy="315.39" r="0.46" fill="#5ab0e8" fill-opacity="0.68"/>
<circle cx="247.07" cy="314.65" r="0.47" fill="#2f78b8" fill-opacity="0.54"/>
<circle cx="304.99" cy="302.3" r="0.77" fill="#2f78b8" fill-opacity="0.63"/>
<circle cx="308.44" cy="309.97" r="0.51" fill="#5ab0e8" fill-opacity="0.79"/>
<circle cx="320.95" cy="278.61" r="0.69" fill="#2f78b8" fill-opacity="0.76"/>
<circle cx="283.67" cy="308.21" r="0.46" fill="#4aa0e0" fill-opacity="0.58"/>
<circle cx="294.28" cy="283.04" r="0.78" fill="#3a8fd0" fill-opacity="0.66"/>
<circle cx="270.58" cy="310.2" r="0.54" fill="#5ab0e8" fill-opacity="0.58"/>
<circle cx="261.87" cy="280.07" r="0.51" fill="#2f78b8" fill-opacity="0.73"/>
<circle cx="248.95" cy="291.66" r="0.8" fill="#3a8fd0" fill-opacity="0.72"/>
<circle cx="279.79" cy="307.61" r="0.69" fill="#4aa0e0" fill-opacity="0.50"/>
<circle cx="252.31" cy="295.36" r="0.65" fill="#2f78b8" fill-opacity="0.76"/>
<circle cx="305.32" cy="286.01" r="0.6" fill="#3a8fd0" fill-opacity="0.79"/>
<circle cx="246.56" cy="283.07" r="0.67" fill="#2f78b8" fill-opacity="0.96"/>
<circle cx="262.19" cy="286.51" r="0.55" fill="#5ab0e8" fill-opacity="0.93"/>
<circle cx="257.93" cy="292.76" r="0.71" fill="#2f78b8" fill-opacity="0.96"/>
<circle cx="298.67" cy="290.88" r="0.37" fill="#2f78b8" fill-opacity="0.98"/>
<circle cx="276.05" cy="300.05" r="0.47" fill="#4aa0e0" fill-opacity="0.69"/>
<circle cx="287.72" cy="312.62" r="0.44" fill="#2f78b8" fill-opacity="0.53"/>
<circle cx="258.05" cy="310.06" r="0.39" fill="#5ab0e8" fill-opacity="0.69"/>
<circle cx="283.54" cy="295.67" r="0.76" fill="#3a8fd0" fill-opacity="0.55"/>
<circle cx="286.52" cy="313.03" r="0.67" fill="#5ab0e8" fill-opacity="0.71"/>
<circle cx="279.41" cy="311.26" r="0.55" fill="#5ab0e8" fill-opacity="0.57"/>
<circle cx="301.47" cy="276.38" r="0.45" fill="#4aa0e0" fill-opacity="0.70"/>
<circle cx="245.21" cy="302.92" r="0.6" fill="#5ab0e8" fill-opacity="0.88"/>
<circle cx="251.33" cy="284.74" r="0.38" fill="#3a8fd0" fill-opacity="0.55"/>
<circle cx="248.97" cy="305.83" r="0.6" fill="#3a8fd0" fill-opacity="0.91"/>
<circle cx="257.79" cy="289.29" r="0.74" fill="#5ab0e8" fill-opacity="0.92"/>
<circle cx="253.08" cy="292.12" r="0.37" fill="#4aa0e0" fill-opacity="0.66"/>
<circle cx="257.03" cy="314.9" r="0.43" fill="#2f78b8" fill-opacity="0.76"/>
<circle cx="248.84" cy="291.2" r="0.65" fill="#2f78b8" fill-opacity="0.78"/>
<circle cx="282.37" cy="292.64" r="0.37" fill="#2f78b8" fill-opacity="0.62"/>
<circle cx="272.04" cy="293.27" r="0.59" fill="#2f78b8" fill-opacity="0.60"/>
<circle cx="246.12" cy="297.26" r="0.52" fill="#5ab0e8" fill-opacity="0.83"/>
<circle cx="298.08" cy="281.59" r="0.77" fill="#2f78b8" fill-opacity="0.60"/>
<circle cx="314.63" cy="298.02" r="0.37" fill="#2f78b8" fill-opacity="0.50"/>
<circle cx="247.34" cy="313.68" r="0.72" fill="#3a8fd0" fill-opacity="0.64"/>
<circle cx="304.89" cy="287.54" r="0.67" fill="#5ab0e8" fill-opacity="0.70"/>
<circle cx="299.5" cy="284.07" r="0.44" fill="#4aa0e0" fill-opacity="0.72"/>
<circle cx="292.5" cy="277.94" r="0.74" fill="#3a8fd0" fill-opacity="0.91"/>
<circle cx="281.27" cy="276.56" r="0.67" fill="#4aa0e0" fill-opacity="0.75"/>
<circle cx="295.23" cy="302.73" r="0.48" fill="#4aa0e0" fill-opacity="0.77"/>
<circle cx="254.56" cy="306.79" r="0.67" fill="#3a8fd0" fill-opacity="0.73"/>
<circle cx="257.93" cy="279.62" r="0.37" fill="#4aa0e0" fill-opacity="0.83"/>
<circle cx="262.35" cy="311.87" r="0.66" fill="#4aa0e0" fill-opacity="0.93"/>
<circle cx="314.98" cy="281.28" r="0.42" fill="#5ab0e8" fill-opacity="0.65"/>
<circle cx="260.38" cy="299.05" r="0.49" fill="#4aa0e0" fill-opacity="0.65"/>
<circle cx="262.39" cy="297.73" r="0.45" fill="#4aa0e0" fill-opacity="0.70"/>
<circle cx="244.6" cy="291.05" r="0.64" fill="#4aa0e0" fill-opacity="0.83"/>
<circle cx="296.84" cy="283.85" r="0.42" fill="#4aa0e0" fill-opacity="0.71"/>
<circle cx="295.63" cy="280.53" r="0.72" fill="#3a8fd0" fill-opacity="0.83"/>
<circle cx="258.63" cy="301.98" r="0.59" fill="#3a8fd0" fill-opacity="0.65"/>
<circle cx="269.49" cy="305.71" r="0.57" fill="#3a8fd0" fill-opacity="0.60"/>
<circle cx="264.12" cy="288" r="0.61" fill="#3a8fd0" fill-opacity="0.60"/>
<circle cx="279.17" cy="306.4" r="0.69" fill="#4aa0e0" fill-opacity="0.79"/>
<circle cx="265.69" cy="298.97" r="0.4" fill="#3a8fd0" fill-opacity="0.67"/>
<circle cx="316.61" cy="302" r="0.37" fill="#2f78b8" fill-opacity="0.68"/>
<circle cx="280" cy="289.05" r="0.51" fill="#3a8fd0" fill-opacity="0.89"/>
<circle cx="265.56" cy="278.75" r="0.6" fill="#3a8fd0" fill-opacity="0.87"/>
<circle cx="250.92" cy="282.39" r="0.53" fill="#3a8fd0" fill-opacity="0.52"/>
<circle cx="282.56" cy="279.85" r="0.64" fill="#4aa0e0" fill-opacity="0.71"/>
<circle cx="308.14" cy="279.02" r="0.68" fill="#4aa0e0" fill-opacity="0.68"/>
<circle cx="294.36" cy="279.57" r="0.35" fill="#5ab0e8" fill-opacity="0.65"/>
<circle cx="262.64" cy="280.22" r="0.46" fill="#4aa0e0" fill-opacity="0.75"/>
<circle cx="284.34" cy="280.66" r="0.56" fill="#4aa0e0" fill-opacity="0.78"/>
<circle cx="245.32" cy="286.15" r="0.78" fill="#2f78b8" fill-opacity="0.70"/>
<circle cx="258.07" cy="281.03" r="0.46" fill="#4aa0e0" fill-opacity="0.95"/>
<circle cx="243.19" cy="313.36" r="0.57" fill="#4aa0e0" fill-opacity="0.84"/>
<circle cx="260.11" cy="305.7" r="0.42" fill="#2f78b8" fill-opacity="1.00"/>
<circle cx="275.5" cy="300.72" r="0.4" fill="#3a8fd0" fill-opacity="0.54"/>
</g>
<line x1="242" y1="312" x2="264" y2="302" stroke="#e8e8e8" stroke-width="0.7" marker-end="url(#ah)"/>
<line x1="292" y1="283" x2="278" y2="295" stroke="#e8e8e8" stroke-width="0.7" marker-end="url(#ah)"/>
</g>
<defs>
<clipPath id="dc5"><rect x="327" y="276" width="79" height="39.6"/></clipPath>
</defs>
<g clip-path="url(#dc5)"><g filter="url(#bl)">
<rect x="327" y="276" width="79" height="39.6" fill="#010302"/>
<polygon points="363,276 379,276 393,315.6 375,315.6" fill="#0c280a" fill-opacity="0.7"/>
<circle cx="373.96" cy="298.91" r="1.02" fill="#2a6a20" fill-opacity="0.78"/>
<circle cx="369.32" cy="278.89" r="0.67" fill="#2e7424" fill-opacity="0.70"/>
<circle cx="385.46" cy="303.4" r="0.84" fill="#347a28" fill-opacity="0.69"/>
<circle cx="370.39" cy="283.24" r="1.25" fill="#347a28" fill-opacity="0.46"/>
<circle cx="375.07" cy="307.23" r="0.96" fill="#2e7424" fill-opacity="0.51"/>
<circle cx="369.47" cy="289.64" r="0.74" fill="#2e7424" fill-opacity="0.72"/>
<circle cx="372.67" cy="304.06" r="0.6" fill="#347a28" fill-opacity="0.47"/>
<circle cx="374.93" cy="296.81" r="0.65" fill="#2a6a20" fill-opacity="0.53"/>
<circle cx="385.09" cy="300.76" r="1.15" fill="#2a6a20" fill-opacity="0.71"/>
<circle cx="385.11" cy="314.47" r="1.16" fill="#347a28" fill-opacity="0.72"/>
<circle cx="374.31" cy="305.52" r="1.18" fill="#22561a" fill-opacity="0.81"/>
<circle cx="386.5" cy="305.5" r="1.16" fill="#2e7424" fill-opacity="0.62"/>
<circle cx="386.75" cy="308.68" r="1.21" fill="#22561a" fill-opacity="0.75"/>
<circle cx="381.38" cy="299.51" r="1.04" fill="#2a6a20" fill-opacity="0.84"/>
<circle cx="376.88" cy="307.18" r="1.19" fill="#2e7424" fill-opacity="0.55"/>
<circle cx="379.7" cy="299.27" r="1.21" fill="#2a6a20" fill-opacity="0.61"/>
<circle cx="386.35" cy="307.04" r="1.08" fill="#22561a" fill-opacity="0.78"/>
<circle cx="369.34" cy="292.09" r="1.06" fill="#22561a" fill-opacity="0.72"/>
<circle cx="381.45" cy="311.8" r="0.81" fill="#22561a" fill-opacity="0.65"/>
<circle cx="364.97" cy="276.65" r="1.17" fill="#347a28" fill-opacity="0.61"/>
<circle cx="369.01" cy="287.86" r="0.98" fill="#2a6a20" fill-opacity="0.59"/>
<circle cx="384.09" cy="309.44" r="0.8" fill="#2a6a20" fill-opacity="0.85"/>
<circle cx="379.81" cy="283.42" r="0.89" fill="#2e7424" fill-opacity="0.50"/>
<circle cx="371.92" cy="303.04" r="1.18" fill="#2e7424" fill-opacity="0.61"/>
<circle cx="369.51" cy="289.17" r="0.72" fill="#22561a" fill-opacity="0.81"/>
<circle cx="385.72" cy="300.17" r="0.88" fill="#347a28" fill-opacity="0.58"/>
<circle cx="387.55" cy="310.7" r="1.02" fill="#2e7424" fill-opacity="0.61"/>
<circle cx="376.78" cy="276.36" r="0.67" fill="#2e7424" fill-opacity="0.63"/>
<circle cx="377.13" cy="308.05" r="0.85" fill="#2a6a20" fill-opacity="0.84"/>
<circle cx="384.97" cy="305.09" r="1.07" fill="#2e7424" fill-opacity="0.82"/>
<circle cx="385.58" cy="311.39" r="0.65" fill="#22561a" fill-opacity="0.63"/>
<circle cx="380.98" cy="313.93" r="1.06" fill="#347a28" fill-opacity="0.83"/>
<circle cx="373.76" cy="308.02" r="1.06" fill="#347a28" fill-opacity="0.60"/>
<circle cx="375.74" cy="314.66" r="1.18" fill="#2a6a20" fill-opacity="0.67"/>
<circle cx="381.06" cy="293.73" r="1.22" fill="#347a28" fill-opacity="0.46"/>
<circle cx="369.18" cy="288.88" r="1.27" fill="#22561a" fill-opacity="0.51"/>
<circle cx="379.96" cy="299.27" r="0.63" fill="#347a28" fill-opacity="0.52"/>
<circle cx="386.95" cy="299.35" r="1.04" fill="#2e7424" fill-opacity="0.57"/>
<circle cx="376.72" cy="297.55" r="1.28" fill="#2a6a20" fill-opacity="0.77"/>
<circle cx="377.72" cy="302.79" r="1.27" fill="#22561a" fill-opacity="0.73"/>
<circle cx="369.01" cy="286.99" r="1" fill="#2a6a20" fill-opacity="0.77"/>
<circle cx="369.5" cy="289.75" r="0.96" fill="#2a6a20" fill-opacity="0.51"/>
<circle cx="374.84" cy="305.24" r="0.82" fill="#2a6a20" fill-opacity="0.68"/>
<circle cx="388.6" cy="314.47" r="0.85" fill="#2e7424" fill-opacity="0.56"/>
<circle cx="382.14" cy="311.29" r="1.03" fill="#347a28" fill-opacity="0.61"/>
<circle cx="377.46" cy="302.99" r="0.82" fill="#347a28" fill-opacity="0.56"/>
<circle cx="380.36" cy="284.08" r="0.92" fill="#347a28" fill-opacity="0.70"/>
<circle cx="377.87" cy="306.83" r="0.71" fill="#347a28" fill-opacity="0.71"/>
<circle cx="380.46" cy="309.58" r="0.65" fill="#347a28" fill-opacity="0.60"/>
<circle cx="383.45" cy="312.33" r="0.8" fill="#2a6a20" fill-opacity="0.55"/>
<circle cx="372.98" cy="306.55" r="1.18" fill="#22561a" fill-opacity="0.59"/>
<circle cx="379.03" cy="313.22" r="0.77" fill="#2a6a20" fill-opacity="0.80"/>
<circle cx="373.92" cy="279.82" r="1.18" fill="#2a6a20" fill-opacity="0.82"/>
<circle cx="367.87" cy="282.57" r="1.11" fill="#2a6a20" fill-opacity="0.76"/>
<circle cx="383.52" cy="291.62" r="1.12" fill="#22561a" fill-opacity="0.61"/>
<circle cx="374.72" cy="295.79" r="1.21" fill="#2e7424" fill-opacity="0.66"/>
<circle cx="380.66" cy="296.64" r="1.23" fill="#2e7424" fill-opacity="0.54"/>
<circle cx="387.24" cy="303" r="0.65" fill="#2a6a20" fill-opacity="0.79"/>
<circle cx="381.03" cy="302.45" r="0.88" fill="#22561a" fill-opacity="0.76"/>
<circle cx="385.96" cy="302.91" r="0.69" fill="#2e7424" fill-opacity="0.72"/>
<circle cx="380.81" cy="305.86" r="1.23" fill="#2a6a20" fill-opacity="0.75"/>
<circle cx="384.3" cy="308.51" r="1.22" fill="#2e7424" fill-opacity="0.71"/>
<circle cx="380.33" cy="310.67" r="1.23" fill="#2a6a20" fill-opacity="0.76"/>
<circle cx="379.02" cy="299.95" r="1.03" fill="#2e7424" fill-opacity="0.57"/>
<circle cx="376.83" cy="290.25" r="1.22" fill="#2a6a20" fill-opacity="0.59"/>
<circle cx="372.65" cy="303.7" r="1.19" fill="#22561a" fill-opacity="0.54"/>
<circle cx="381.42" cy="294.13" r="0.91" fill="#2a6a20" fill-opacity="0.84"/>
<circle cx="380.32" cy="299.37" r="0.62" fill="#347a28" fill-opacity="0.49"/>
<circle cx="376.05" cy="284.89" r="0.84" fill="#22561a" fill-opacity="0.66"/>
<circle cx="374.93" cy="285.12" r="1.17" fill="#22561a" fill-opacity="0.79"/>
<circle cx="382.17" cy="308.03" r="0.62" fill="#2e7424" fill-opacity="0.46"/>
<circle cx="376.27" cy="295.98" r="0.64" fill="#22561a" fill-opacity="0.74"/>
<circle cx="376.89" cy="299.16" r="0.96" fill="#347a28" fill-opacity="0.54"/>
<circle cx="391.07" cy="310.36" r="1.16" fill="#22561a" fill-opacity="0.71"/>
<circle cx="376.61" cy="285.97" r="1" fill="#347a28" fill-opacity="0.63"/>
<circle cx="383.49" cy="303.03" r="0.92" fill="#22561a" fill-opacity="0.70"/>
<circle cx="367.03" cy="280.43" r="1.13" fill="#2a6a20" fill-opacity="0.74"/>
<circle cx="376.67" cy="296.44" r="0.74" fill="#2e7424" fill-opacity="0.76"/>
<circle cx="377.81" cy="283.97" r="1.19" fill="#22561a" fill-opacity="0.75"/>
<circle cx="390.84" cy="313.55" r="1.11" fill="#2a6a20" fill-opacity="0.48"/>
<circle cx="365.68" cy="284.14" r="1.2" fill="#22561a" fill-opacity="0.67"/>
<circle cx="380.29" cy="300.85" r="0.82" fill="#22561a" fill-opacity="0.57"/>
<circle cx="366.35" cy="277.75" r="0.85" fill="#2a6a20" fill-opacity="0.77"/>
<circle cx="370.19" cy="294.02" r="0.67" fill="#2e7424" fill-opacity="0.60"/>
<circle cx="382.25" cy="311.02" r="0.66" fill="#22561a" fill-opacity="0.77"/>
<circle cx="382.65" cy="294.86" r="0.69" fill="#2a6a20" fill-opacity="0.66"/>
<circle cx="372.43" cy="285.95" r="0.85" fill="#2a6a20" fill-opacity="0.83"/>
<circle cx="369.88" cy="283.65" r="1.17" fill="#347a28" fill-opacity="0.76"/>
<circle cx="374.52" cy="304.74" r="1.23" fill="#347a28" fill-opacity="0.50"/>
<circle cx="366.58" cy="276.51" r="1.01" fill="#347a28" fill-opacity="0.46"/>
<circle cx="389.91" cy="308.2" r="0.66" fill="#2a6a20" fill-opacity="0.53"/>
<circle cx="385.54" cy="298.68" r="1.2" fill="#22561a" fill-opacity="0.70"/>
<circle cx="382.23" cy="311.06" r="1.05" fill="#2e7424" fill-opacity="0.45"/>
<circle cx="371.27" cy="284.1" r="1.22" fill="#2a6a20" fill-opacity="0.69"/>
<circle cx="367.76" cy="281" r="0.92" fill="#347a28" fill-opacity="0.75"/>
<circle cx="382.17" cy="298.58" r="1.2" fill="#2e7424" fill-opacity="0.61"/>
<circle cx="383.46" cy="302.65" r="0.77" fill="#347a28" fill-opacity="0.73"/>
<circle cx="371.06" cy="294.68" r="1.24" fill="#347a28" fill-opacity="0.48"/>
<circle cx="382.12" cy="285.45" r="0.76" fill="#347a28" fill-opacity="0.68"/>
<circle cx="375.86" cy="305.51" r="1.12" fill="#2a6a20" fill-opacity="0.55"/>
<circle cx="377.46" cy="311.96" r="0.6" fill="#347a28" fill-opacity="0.47"/>
<circle cx="381.22" cy="285.52" r="0.75" fill="#2a6a20" fill-opacity="0.82"/>
<circle cx="386.55" cy="301.29" r="0.78" fill="#2e7424" fill-opacity="0.64"/>
<circle cx="384.97" cy="294.96" r="1.13" fill="#2a6a20" fill-opacity="0.52"/>
<circle cx="375.55" cy="307.96" r="0.96" fill="#2a6a20" fill-opacity="0.65"/>
<circle cx="381.32" cy="313.89" r="1.22" fill="#2a6a20" fill-opacity="0.79"/>
<circle cx="383.73" cy="298.01" r="0.95" fill="#2a6a20" fill-opacity="0.73"/>
<circle cx="381.59" cy="302.19" r="0.92" fill="#2a6a20" fill-opacity="0.67"/>
<circle cx="368.58" cy="284.26" r="0.95" fill="#347a28" fill-opacity="0.53"/>
<circle cx="384.31" cy="304.04" r="1.07" fill="#2a6a20" fill-opacity="0.70"/>
<circle cx="372.44" cy="279.42" r="1.07" fill="#2a6a20" fill-opacity="0.74"/>
<circle cx="388.21" cy="309.65" r="0.67" fill="#22561a" fill-opacity="0.56"/>
<circle cx="371.62" cy="288.24" r="0.95" fill="#22561a" fill-opacity="0.76"/>
<circle cx="364.28" cy="276.27" r="0.68" fill="#2e7424" fill-opacity="0.66"/>
<circle cx="375.36" cy="294.04" r="1.03" fill="#2e7424" fill-opacity="0.82"/>
<circle cx="385.7" cy="305.01" r="1.24" fill="#2a6a20" fill-opacity="0.74"/>
<circle cx="374.3" cy="277.21" r="1.19" fill="#347a28" fill-opacity="0.77"/>
<circle cx="373.63" cy="278.17" r="0.81" fill="#22561a" fill-opacity="0.73"/>
<circle cx="370.99" cy="286" r="0.84" fill="#22561a" fill-opacity="0.60"/>
<circle cx="367.61" cy="282.42" r="1.26" fill="#347a28" fill-opacity="0.75"/>
<circle cx="393.11" cy="315.37" r="0.64" fill="#2f78b8" fill-opacity="0.92"/>
<circle cx="328.04" cy="297.3" r="0.45" fill="#2f78b8" fill-opacity="0.97"/>
<circle cx="352.97" cy="306.51" r="0.65" fill="#2f78b8" fill-opacity="0.92"/>
<circle cx="369.03" cy="280.15" r="0.67" fill="#2f78b8" fill-opacity="0.77"/>
<circle cx="353.62" cy="278.54" r="0.35" fill="#5ab0e8" fill-opacity="0.66"/>
<circle cx="368.94" cy="301.74" r="0.54" fill="#5ab0e8" fill-opacity="0.97"/>
<circle cx="367.99" cy="306.74" r="0.58" fill="#4aa0e0" fill-opacity="0.69"/>
<circle cx="386.65" cy="311.07" r="0.62" fill="#5ab0e8" fill-opacity="0.89"/>
<circle cx="405.19" cy="282.98" r="0.5" fill="#4aa0e0" fill-opacity="0.88"/>
<circle cx="385.94" cy="305.82" r="0.41" fill="#2f78b8" fill-opacity="0.98"/>
<circle cx="334.25" cy="310.3" r="0.59" fill="#4aa0e0" fill-opacity="0.86"/>
<circle cx="374.23" cy="303.52" r="0.44" fill="#3a8fd0" fill-opacity="0.89"/>
<circle cx="369.32" cy="278.91" r="0.33" fill="#3a8fd0" fill-opacity="0.89"/>
<circle cx="378.22" cy="296.21" r="0.7" fill="#5ab0e8" fill-opacity="0.67"/>
<circle cx="334.91" cy="288.01" r="0.48" fill="#4aa0e0" fill-opacity="0.78"/>
<circle cx="384.54" cy="279.76" r="0.72" fill="#2f78b8" fill-opacity="0.73"/>
<circle cx="343.28" cy="291.36" r="0.65" fill="#3a8fd0" fill-opacity="0.94"/>
<circle cx="390.43" cy="302.56" r="0.42" fill="#3a8fd0" fill-opacity="0.94"/>
<circle cx="332.74" cy="279.54" r="0.65" fill="#2f78b8" fill-opacity="0.86"/>
<circle cx="341.27" cy="281.69" r="0.34" fill="#3a8fd0" fill-opacity="0.75"/>
<circle cx="378.53" cy="298.56" r="0.4" fill="#3a8fd0" fill-opacity="0.72"/>
<circle cx="348.2" cy="312.86" r="0.72" fill="#2f78b8" fill-opacity="0.75"/>
<circle cx="384.09" cy="281.48" r="0.65" fill="#2f78b8" fill-opacity="0.75"/>
<circle cx="340.13" cy="302.26" r="0.69" fill="#4aa0e0" fill-opacity="0.71"/>
<circle cx="357.08" cy="306.29" r="0.4" fill="#4aa0e0" fill-opacity="0.95"/>
<circle cx="387.25" cy="309.78" r="0.41" fill="#5ab0e8" fill-opacity="0.71"/>
<circle cx="327.6" cy="279.94" r="0.47" fill="#2f78b8" fill-opacity="0.69"/>
<circle cx="329.32" cy="293.36" r="0.35" fill="#5ab0e8" fill-opacity="0.82"/>
<circle cx="365.88" cy="292.03" r="0.52" fill="#4aa0e0" fill-opacity="0.96"/>
<circle cx="360.64" cy="278.4" r="0.39" fill="#2f78b8" fill-opacity="0.74"/>
<circle cx="364.06" cy="313.09" r="0.55" fill="#3a8fd0" fill-opacity="0.80"/>
<circle cx="365.23" cy="284.55" r="0.58" fill="#5ab0e8" fill-opacity="0.64"/>
<circle cx="401.55" cy="296.78" r="0.41" fill="#4aa0e0" fill-opacity="0.80"/>
<circle cx="351.99" cy="280.02" r="0.51" fill="#5ab0e8" fill-opacity="0.97"/>
<circle cx="363.41" cy="304.96" r="0.33" fill="#5ab0e8" fill-opacity="0.85"/>
<circle cx="334.74" cy="287.11" r="0.66" fill="#3a8fd0" fill-opacity="0.65"/>
<circle cx="404.75" cy="295.07" r="0.38" fill="#3a8fd0" fill-opacity="0.85"/>
<circle cx="391.11" cy="311.75" r="0.59" fill="#3a8fd0" fill-opacity="0.81"/>
<circle cx="345.49" cy="295.76" r="0.57" fill="#2f78b8" fill-opacity="0.66"/>
<circle cx="390.49" cy="313.44" r="0.63" fill="#2f78b8" fill-opacity="0.86"/>
<circle cx="378.41" cy="303.71" r="0.31" fill="#5ab0e8" fill-opacity="0.96"/>
<circle cx="333.48" cy="284.59" r="0.32" fill="#5ab0e8" fill-opacity="0.99"/>
<circle cx="393.3" cy="288.06" r="0.44" fill="#4aa0e0" fill-opacity="0.98"/>
<circle cx="358.76" cy="302.89" r="0.31" fill="#5ab0e8" fill-opacity="0.69"/>
<circle cx="364.69" cy="296.26" r="0.73" fill="#5ab0e8" fill-opacity="0.87"/>
<circle cx="343.77" cy="311.88" r="0.39" fill="#5ab0e8" fill-opacity="0.68"/>
<circle cx="405.97" cy="294.08" r="0.4" fill="#2f78b8" fill-opacity="0.61"/>
<circle cx="341.02" cy="292.36" r="0.62" fill="#2f78b8" fill-opacity="0.91"/>
<circle cx="345.84" cy="309.14" r="0.37" fill="#2f78b8" fill-opacity="0.84"/>
<circle cx="364.53" cy="297.7" r="0.47" fill="#2f78b8" fill-opacity="0.70"/>
<circle cx="336.52" cy="314.03" r="0.37" fill="#4aa0e0" fill-opacity="1.00"/>
<circle cx="337.69" cy="288.72" r="0.64" fill="#4aa0e0" fill-opacity="0.69"/>
<circle cx="340.23" cy="299.19" r="0.5" fill="#5ab0e8" fill-opacity="0.70"/>
<circle cx="372.04" cy="284.83" r="0.37" fill="#2f78b8" fill-opacity="0.99"/>
<circle cx="383.25" cy="279.76" r="0.5" fill="#3a8fd0" fill-opacity="0.99"/>
<circle cx="398.41" cy="278.79" r="0.64" fill="#4aa0e0" fill-opacity="0.95"/>
<circle cx="360.19" cy="296.96" r="0.68" fill="#3a8fd0" fill-opacity="0.78"/>
<circle cx="366.47" cy="297" r="0.61" fill="#2f78b8" fill-opacity="0.96"/>
<circle cx="403.03" cy="283.63" r="0.33" fill="#2f78b8" fill-opacity="0.83"/>
<circle cx="341.34" cy="303.41" r="0.42" fill="#4aa0e0" fill-opacity="0.76"/>
<circle cx="402.55" cy="286.19" r="0.67" fill="#3a8fd0" fill-opacity="0.85"/>
<circle cx="364.26" cy="302.62" r="0.66" fill="#3a8fd0" fill-opacity="0.78"/>
<circle cx="353.86" cy="306.13" r="0.73" fill="#4aa0e0" fill-opacity="0.79"/>
<circle cx="352.62" cy="314.46" r="0.74" fill="#3a8fd0" fill-opacity="0.98"/>
<circle cx="343.36" cy="292.2" r="0.73" fill="#4aa0e0" fill-opacity="0.75"/>
<circle cx="382.95" cy="291.05" r="0.52" fill="#2f78b8" fill-opacity="0.65"/>
<circle cx="344.58" cy="284.51" r="0.42" fill="#3a8fd0" fill-opacity="0.80"/>
<circle cx="396.88" cy="300.39" r="0.59" fill="#5ab0e8" fill-opacity="0.83"/>
<circle cx="401.45" cy="298.85" r="0.46" fill="#5ab0e8" fill-opacity="0.73"/>
<circle cx="391.1" cy="303.45" r="0.6" fill="#4aa0e0" fill-opacity="0.76"/>
<circle cx="336.25" cy="300.92" r="0.72" fill="#34a022" fill-opacity="0.85"/>
<circle cx="382.69" cy="314.27" r="0.68" fill="#34a022" fill-opacity="0.86"/>
<circle cx="339.91" cy="278.56" r="0.78" fill="#34a022" fill-opacity="0.68"/>
<circle cx="328.19" cy="297.18" r="0.89" fill="#34a022" fill-opacity="0.61"/>
<circle cx="390.07" cy="309.15" r="0.63" fill="#34a022" fill-opacity="0.60"/>
<circle cx="345.17" cy="286.5" r="0.88" fill="#34a022" fill-opacity="0.61"/>
</g>
<line x1="345" y1="312" x2="368" y2="301" stroke="#e8e8e8" stroke-width="0.7" marker-end="url(#ah)"/>
<line x1="397" y1="282" x2="384" y2="293" stroke="#e8e8e8" stroke-width="0.7" marker-end="url(#ah)"/>
</g>
<defs>
<clipPath id="dc6"><rect x="412" y="276" width="79" height="39.6"/></clipPath>
</defs>
<g clip-path="url(#dc6)"><g filter="url(#bl)">
<defs><linearGradient id="g23" x1="0" y1="0" x2="1" y2="0.5"><stop offset="0" stop-color="#268018"/><stop offset="0.5" stop-color="#1f7015"/><stop offset="1" stop-color="#1a6012"/></linearGradient></defs>
<rect x="412" y="276" width="79" height="39.6" fill="url(#g23)"/>
<circle cx="421.02" cy="313.01" r="1.47" fill="#2a8c1e" fill-opacity="0.79"/>
<circle cx="417.79" cy="289.82" r="0.86" fill="#2f9a22" fill-opacity="0.79"/>
<circle cx="432.42" cy="278.18" r="0.68" fill="#2a8c1e" fill-opacity="0.71"/>
<circle cx="417.01" cy="278.07" r="1.48" fill="#2a8c1e" fill-opacity="0.92"/>
<circle cx="469.57" cy="289.53" r="1.04" fill="#2a8c1e" fill-opacity="0.84"/>
<circle cx="490.18" cy="307.88" r="1.28" fill="#2f9a22" fill-opacity="0.77"/>
<circle cx="435.32" cy="276.66" r="0.88" fill="#2a8c1e" fill-opacity="0.92"/>
<circle cx="419.44" cy="299.21" r="0.77" fill="#2f9a22" fill-opacity="0.78"/>
<circle cx="449.01" cy="308.26" r="1.16" fill="#2f9a22" fill-opacity="0.79"/>
<circle cx="446.4" cy="276.52" r="1.44" fill="#2a8c1e" fill-opacity="0.64"/>
<circle cx="462.08" cy="285.54" r="0.83" fill="#165a0e" fill-opacity="0.81"/>
<circle cx="438.22" cy="278.26" r="0.81" fill="#2a8c1e" fill-opacity="0.69"/>
<circle cx="434.97" cy="301.34" r="1.22" fill="#2f9a22" fill-opacity="0.68"/>
<circle cx="426.53" cy="315.06" r="1.5" fill="#165a0e" fill-opacity="0.65"/>
<circle cx="416.9" cy="294.33" r="0.9" fill="#2f9a22" fill-opacity="0.89"/>
<circle cx="487.74" cy="307.46" r="0.88" fill="#165a0e" fill-opacity="0.81"/>
<circle cx="436.2" cy="306.68" r="0.88" fill="#165a0e" fill-opacity="0.62"/>
<circle cx="452.59" cy="281.99" r="1.44" fill="#2a8c1e" fill-opacity="0.78"/>
<circle cx="427.62" cy="280.74" r="1.06" fill="#2f9a22" fill-opacity="0.95"/>
<circle cx="466.18" cy="294.87" r="0.88" fill="#2a8c1e" fill-opacity="0.64"/>
<circle cx="417.53" cy="291.33" r="1.04" fill="#165a0e" fill-opacity="0.92"/>
<circle cx="452.57" cy="293.81" r="1.37" fill="#2f9a22" fill-opacity="0.77"/>
<circle cx="467.71" cy="297.19" r="1.3" fill="#2f9a22" fill-opacity="0.97"/>
<circle cx="460.88" cy="280.16" r="1.01" fill="#2f9a22" fill-opacity="0.97"/>
<circle cx="422.51" cy="309.98" r="1.45" fill="#2f9a22" fill-opacity="0.65"/>
<circle cx="448.8" cy="300.53" r="0.87" fill="#2a8c1e" fill-opacity="0.94"/>
<circle cx="464.18" cy="289.5" r="1.07" fill="#2a8c1e" fill-opacity="0.76"/>
<circle cx="419.43" cy="314.16" r="0.65" fill="#165a0e" fill-opacity="0.96"/>
<circle cx="464.96" cy="296.99" r="1.23" fill="#165a0e" fill-opacity="0.67"/>
<circle cx="454.02" cy="308.99" r="0.75" fill="#2a8c1e" fill-opacity="0.75"/>
<circle cx="475.75" cy="304.03" r="0.93" fill="#2a8c1e" fill-opacity="0.78"/>
<circle cx="455.6" cy="279.63" r="1.45" fill="#2f9a22" fill-opacity="0.96"/>
<circle cx="449.35" cy="313.87" r="1.14" fill="#165a0e" fill-opacity="0.90"/>
<circle cx="443.06" cy="283.99" r="1.31" fill="#2f9a22" fill-opacity="0.68"/>
<circle cx="487.7" cy="280.24" r="1.33" fill="#165a0e" fill-opacity="0.92"/>
<circle cx="414.18" cy="296.31" r="1.33" fill="#2f9a22" fill-opacity="0.66"/>
<circle cx="479.51" cy="288.72" r="0.76" fill="#2f9a22" fill-opacity="0.94"/>
<circle cx="465.93" cy="302.12" r="0.65" fill="#2a8c1e" fill-opacity="0.95"/>
<circle cx="457.42" cy="276.41" r="1.29" fill="#2f9a22" fill-opacity="0.62"/>
<circle cx="414.96" cy="315.5" r="0.81" fill="#165a0e" fill-opacity="0.93"/>
<circle cx="433.01" cy="290.49" r="0.94" fill="#165a0e" fill-opacity="0.76"/>
<circle cx="434.43" cy="313.33" r="0.61" fill="#2f9a22" fill-opacity="0.76"/>
<circle cx="462.23" cy="311.14" r="1.28" fill="#2a8c1e" fill-opacity="0.93"/>
<circle cx="462.89" cy="278.07" r="1.4" fill="#2a8c1e" fill-opacity="0.90"/>
<circle cx="476.23" cy="286.03" r="1.19" fill="#165a0e" fill-opacity="0.77"/>
<circle cx="436.26" cy="285.5" r="1.24" fill="#2f9a22" fill-opacity="0.93"/>
<circle cx="439.28" cy="309.42" r="1.36" fill="#2a8c1e" fill-opacity="0.94"/>
<circle cx="487.42" cy="310.58" r="1.09" fill="#2a8c1e" fill-opacity="0.92"/>
<circle cx="478.57" cy="314.78" r="1.45" fill="#165a0e" fill-opacity="0.91"/>
<circle cx="473.8" cy="310.45" r="0.79" fill="#165a0e" fill-opacity="0.74"/>
<circle cx="417.06" cy="280.69" r="1.4" fill="#2a8c1e" fill-opacity="0.69"/>
<circle cx="417.58" cy="278.68" r="1.27" fill="#2a8c1e" fill-opacity="0.94"/>
<circle cx="462.57" cy="288.32" r="1.03" fill="#165a0e" fill-opacity="0.72"/>
<circle cx="461.95" cy="311.43" r="1.02" fill="#165a0e" fill-opacity="0.89"/>
<circle cx="436.61" cy="310.61" r="1.12" fill="#2a8c1e" fill-opacity="0.84"/>
<circle cx="490.82" cy="311.48" r="0.66" fill="#165a0e" fill-opacity="0.77"/>
<circle cx="481.56" cy="302.36" r="0.79" fill="#165a0e" fill-opacity="0.82"/>
<circle cx="485.28" cy="302.09" r="1.38" fill="#2f9a22" fill-opacity="0.97"/>
<circle cx="414.76" cy="299.4" r="0.99" fill="#2f9a22" fill-opacity="0.65"/>
<circle cx="490.9" cy="283.28" r="0.86" fill="#2f9a22" fill-opacity="0.92"/>
<circle cx="440.17" cy="284.8" r="1.27" fill="#2a8c1e" fill-opacity="0.69"/>
<circle cx="481.77" cy="315.3" r="0.99" fill="#165a0e" fill-opacity="0.85"/>
<circle cx="418.08" cy="292.51" r="0.89" fill="#165a0e" fill-opacity="0.81"/>
<circle cx="488.83" cy="295.45" r="1.28" fill="#2a8c1e" fill-opacity="0.87"/>
<circle cx="423.32" cy="313.88" r="1.5" fill="#2f9a22" fill-opacity="0.96"/>
<circle cx="424.96" cy="276.69" r="1.18" fill="#2a8c1e" fill-opacity="0.95"/>
<circle cx="440.58" cy="312.59" r="0.79" fill="#2a8c1e" fill-opacity="0.96"/>
<circle cx="479.24" cy="304.29" r="1.24" fill="#2a8c1e" fill-opacity="0.80"/>
<circle cx="485.68" cy="298.17" r="0.73" fill="#2f9a22" fill-opacity="0.78"/>
<circle cx="414.4" cy="281.4" r="1.22" fill="#2f9a22" fill-opacity="0.71"/>
<polygon points="412,276 444,276 412,295" fill="#020a01"/>
<polygon points="412,295 444,276 452,276 417,302" fill="#0e4008" fill-opacity="0.7"/>
<rect x="412" y="276" width="79" height="39.6" fill="#000" filter="url(#nz)" opacity="0.5"/>
</g>
<line x1="415" y1="284" x2="436" y2="295" stroke="#e8e8e8" stroke-width="0.7" marker-end="url(#ah)"/>
<line x1="470" y1="315" x2="452" y2="305" stroke="#e8e8e8" stroke-width="0.7" marker-end="url(#ah)"/>
</g>
<defs>
<clipPath id="dc7"><rect x="242" y="335.5" width="79" height="40.2"/></clipPath>
</defs>
<g clip-path="url(#dc7)"><g filter="url(#bl)">
<rect x="242" y="335.5" width="79" height="40.2" fill="#010204"/>
<polygon points="258,335.5 276,335.5 292,375.7 270,375.7" fill="#0a1a2c" fill-opacity="0.35"/>
<circle cx="273.14" cy="352.39" r="0.56" fill="#3a8fd0" fill-opacity="0.74"/>
<circle cx="286.79" cy="367.77" r="0.42" fill="#4aa0e0" fill-opacity="0.62"/>
<circle cx="276.34" cy="344.83" r="0.45" fill="#4aa0e0" fill-opacity="0.80"/>
<circle cx="271.44" cy="343.62" r="0.67" fill="#5ab0e8" fill-opacity="0.71"/>
<circle cx="272.21" cy="364.07" r="0.73" fill="#3a8fd0" fill-opacity="0.59"/>
<circle cx="273.67" cy="335.57" r="0.74" fill="#5ab0e8" fill-opacity="0.42"/>
<circle cx="276.19" cy="353.99" r="0.8" fill="#2f78b8" fill-opacity="0.55"/>
<circle cx="287.47" cy="364.51" r="0.45" fill="#5ab0e8" fill-opacity="0.53"/>
<circle cx="269.35" cy="353.03" r="0.64" fill="#5ab0e8" fill-opacity="0.39"/>
<circle cx="266.25" cy="343.26" r="0.58" fill="#4aa0e0" fill-opacity="0.56"/>
<circle cx="284.5" cy="369.27" r="0.62" fill="#5ab0e8" fill-opacity="0.82"/>
<circle cx="267.59" cy="354.45" r="0.62" fill="#4aa0e0" fill-opacity="0.60"/>
<circle cx="267.45" cy="344.86" r="0.52" fill="#3a8fd0" fill-opacity="0.55"/>
<circle cx="270.5" cy="349.73" r="0.51" fill="#5ab0e8" fill-opacity="0.67"/>
<circle cx="280.16" cy="354.2" r="0.6" fill="#3a8fd0" fill-opacity="0.77"/>
<circle cx="274.15" cy="364.78" r="0.63" fill="#5ab0e8" fill-opacity="0.83"/>
<circle cx="268.64" cy="360.41" r="0.64" fill="#3a8fd0" fill-opacity="0.82"/>
<circle cx="266.54" cy="341.34" r="0.73" fill="#2f78b8" fill-opacity="0.65"/>
<circle cx="273.17" cy="362.73" r="0.78" fill="#5ab0e8" fill-opacity="0.68"/>
<circle cx="264.03" cy="346.98" r="0.76" fill="#3a8fd0" fill-opacity="0.66"/>
<circle cx="277.04" cy="367.92" r="0.47" fill="#3a8fd0" fill-opacity="0.52"/>
<circle cx="283.09" cy="356.89" r="0.64" fill="#5ab0e8" fill-opacity="0.41"/>
<circle cx="272.65" cy="345.73" r="0.6" fill="#2f78b8" fill-opacity="0.36"/>
<circle cx="269.02" cy="367.66" r="0.71" fill="#3a8fd0" fill-opacity="0.49"/>
<circle cx="277.87" cy="348.86" r="0.42" fill="#5ab0e8" fill-opacity="0.36"/>
<circle cx="261.43" cy="343.26" r="0.71" fill="#4aa0e0" fill-opacity="0.51"/>
<circle cx="268.87" cy="344.31" r="0.4" fill="#3a8fd0" fill-opacity="0.82"/>
<circle cx="283.24" cy="357.65" r="0.39" fill="#4aa0e0" fill-opacity="0.57"/>
<circle cx="274.36" cy="343.26" r="0.74" fill="#5ab0e8" fill-opacity="0.56"/>
<circle cx="280.1" cy="360.81" r="0.43" fill="#4aa0e0" fill-opacity="0.84"/>
<circle cx="259.47" cy="337.03" r="0.41" fill="#3a8fd0" fill-opacity="0.51"/>
<circle cx="269.83" cy="363.42" r="0.56" fill="#3a8fd0" fill-opacity="0.44"/>
<circle cx="279.05" cy="359.99" r="0.79" fill="#2f78b8" fill-opacity="0.41"/>
<circle cx="275.25" cy="369.95" r="0.53" fill="#5ab0e8" fill-opacity="0.47"/>
<circle cx="291.48" cy="374.68" r="0.67" fill="#4aa0e0" fill-opacity="0.43"/>
<circle cx="285.83" cy="371.39" r="0.63" fill="#3a8fd0" fill-opacity="0.57"/>
<circle cx="284.02" cy="360.51" r="0.7" fill="#3a8fd0" fill-opacity="0.58"/>
<circle cx="281.51" cy="370.93" r="0.5" fill="#5ab0e8" fill-opacity="0.61"/>
<circle cx="260.66" cy="341.43" r="0.7" fill="#4aa0e0" fill-opacity="0.60"/>
<circle cx="269.51" cy="363.17" r="0.64" fill="#3a8fd0" fill-opacity="0.77"/>
<circle cx="276.07" cy="350.05" r="0.44" fill="#5ab0e8" fill-opacity="0.71"/>
<circle cx="281.75" cy="351.93" r="0.78" fill="#4aa0e0" fill-opacity="0.51"/>
<circle cx="267.77" cy="350.64" r="0.76" fill="#3a8fd0" fill-opacity="0.85"/>
<circle cx="272.86" cy="363.16" r="0.69" fill="#2f78b8" fill-opacity="0.75"/>
<circle cx="273.14" cy="349.04" r="0.6" fill="#2f78b8" fill-opacity="0.78"/>
<circle cx="280.67" cy="375.25" r="0.72" fill="#3a8fd0" fill-opacity="0.42"/>
<circle cx="279.2" cy="366.09" r="0.76" fill="#5ab0e8" fill-opacity="0.70"/>
<circle cx="268.66" cy="335.68" r="0.41" fill="#5ab0e8" fill-opacity="0.49"/>
<circle cx="275.44" cy="340.07" r="0.55" fill="#2f78b8" fill-opacity="0.39"/>
<circle cx="270.68" cy="353.55" r="0.37" fill="#2f78b8" fill-opacity="0.46"/>
<circle cx="271.58" cy="361.8" r="0.52" fill="#5ab0e8" fill-opacity="0.73"/>
<circle cx="279.76" cy="363.34" r="0.47" fill="#2f78b8" fill-opacity="0.55"/>
<circle cx="279.71" cy="373.69" r="0.4" fill="#4aa0e0" fill-opacity="0.76"/>
<circle cx="273.09" cy="347.37" r="0.74" fill="#4aa0e0" fill-opacity="0.53"/>
<circle cx="286.58" cy="369.72" r="0.47" fill="#3a8fd0" fill-opacity="0.57"/>
<circle cx="259.79" cy="336.53" r="0.71" fill="#3a8fd0" fill-opacity="0.46"/>
<circle cx="283.08" cy="359.65" r="0.39" fill="#2f78b8" fill-opacity="0.52"/>
<circle cx="273.22" cy="373" r="0.41" fill="#3a8fd0" fill-opacity="0.67"/>
<circle cx="273.62" cy="369.2" r="0.42" fill="#4aa0e0" fill-opacity="0.59"/>
<circle cx="272.72" cy="367.09" r="0.76" fill="#4aa0e0" fill-opacity="0.43"/>
<circle cx="276.6" cy="375.57" r="0.8" fill="#3a8fd0" fill-opacity="0.67"/>
<circle cx="281.6" cy="356.92" r="0.55" fill="#3a8fd0" fill-opacity="0.56"/>
<circle cx="269.85" cy="354.38" r="0.38" fill="#5ab0e8" fill-opacity="0.47"/>
<circle cx="279.9" cy="354.13" r="0.78" fill="#2f78b8" fill-opacity="0.43"/>
<circle cx="277.7" cy="362.99" r="0.53" fill="#4aa0e0" fill-opacity="0.81"/>
<circle cx="278.93" cy="371.64" r="0.77" fill="#2f78b8" fill-opacity="0.40"/>
<circle cx="283.44" cy="355.5" r="0.5" fill="#2f78b8" fill-opacity="0.79"/>
<circle cx="281.1" cy="350.28" r="0.79" fill="#4aa0e0" fill-opacity="0.60"/>
<circle cx="267.71" cy="346.86" r="0.61" fill="#4aa0e0" fill-opacity="0.51"/>
<circle cx="262.05" cy="336.65" r="0.41" fill="#2f78b8" fill-opacity="0.58"/>
<circle cx="277.59" cy="350.35" r="0.77" fill="#2f78b8" fill-opacity="0.59"/>
<circle cx="273.45" cy="372.87" r="0.78" fill="#4aa0e0" fill-opacity="0.53"/>
<circle cx="271.39" cy="359.81" r="0.79" fill="#4aa0e0" fill-opacity="0.70"/>
<circle cx="273.59" cy="359.08" r="0.44" fill="#3a8fd0" fill-opacity="0.45"/>
<circle cx="266.46" cy="355.9" r="0.73" fill="#3a8fd0" fill-opacity="0.69"/>
<circle cx="290.66" cy="372.75" r="0.66" fill="#3a8fd0" fill-opacity="0.48"/>
<circle cx="271.62" cy="374.69" r="0.48" fill="#3a8fd0" fill-opacity="0.61"/>
<circle cx="275.98" cy="349.57" r="0.59" fill="#4aa0e0" fill-opacity="0.36"/>
<circle cx="263.8" cy="343.65" r="0.72" fill="#3a8fd0" fill-opacity="0.46"/>
<circle cx="270.28" cy="340.39" r="0.68" fill="#2f78b8" fill-opacity="0.69"/>
<circle cx="282" cy="350.94" r="0.36" fill="#5ab0e8" fill-opacity="0.41"/>
<circle cx="272.63" cy="365.5" r="0.42" fill="#2f78b8" fill-opacity="0.79"/>
<circle cx="258.76" cy="336.39" r="0.37" fill="#5ab0e8" fill-opacity="0.66"/>
<circle cx="269.16" cy="361.77" r="0.68" fill="#4aa0e0" fill-opacity="0.53"/>
<circle cx="274.31" cy="371.68" r="0.41" fill="#4aa0e0" fill-opacity="0.43"/>
<circle cx="274.02" cy="339.94" r="0.41" fill="#2f78b8" fill-opacity="0.60"/>
<circle cx="276.27" cy="358.59" r="0.54" fill="#3a8fd0" fill-opacity="0.71"/>
<circle cx="263.5" cy="344.99" r="0.77" fill="#3a8fd0" fill-opacity="0.47"/>
<circle cx="273.03" cy="368.62" r="0.39" fill="#5ab0e8" fill-opacity="0.64"/>
<circle cx="272.55" cy="352.76" r="0.37" fill="#3a8fd0" fill-opacity="0.58"/>
<circle cx="282.52" cy="355.72" r="0.62" fill="#4aa0e0" fill-opacity="0.45"/>
<circle cx="275.85" cy="345.94" r="0.69" fill="#2f78b8" fill-opacity="0.67"/>
<circle cx="269.16" cy="352.53" r="0.58" fill="#5ab0e8" fill-opacity="0.47"/>
<circle cx="265.54" cy="341.72" r="0.5" fill="#3a8fd0" fill-opacity="0.70"/>
<circle cx="266.42" cy="352.74" r="0.37" fill="#3a8fd0" fill-opacity="0.84"/>
<circle cx="282.36" cy="365.04" r="0.72" fill="#3a8fd0" fill-opacity="0.49"/>
<circle cx="259.34" cy="337.09" r="0.58" fill="#4aa0e0" fill-opacity="0.61"/>
<circle cx="272.52" cy="342.26" r="0.54" fill="#5ab0e8" fill-opacity="0.40"/>
<circle cx="268.91" cy="371.78" r="0.45" fill="#5ab0e8" fill-opacity="0.40"/>
<circle cx="273.42" cy="351.9" r="0.48" fill="#2f78b8" fill-opacity="0.52"/>
<circle cx="273.98" cy="346.2" r="0.45" fill="#5ab0e8" fill-opacity="0.56"/>
<circle cx="269.61" cy="369.45" r="0.39" fill="#3a8fd0" fill-opacity="0.62"/>
<circle cx="290.09" cy="375.32" r="0.39" fill="#5ab0e8" fill-opacity="0.48"/>
<circle cx="276.21" cy="339.49" r="0.6" fill="#5ab0e8" fill-opacity="0.50"/>
<circle cx="286.91" cy="373.04" r="0.56" fill="#4aa0e0" fill-opacity="0.38"/>
<circle cx="276.28" cy="353.08" r="0.36" fill="#4aa0e0" fill-opacity="0.64"/>
<circle cx="270.71" cy="374.75" r="0.67" fill="#3a8fd0" fill-opacity="0.41"/>
<circle cx="262.9" cy="348.45" r="0.61" fill="#2f78b8" fill-opacity="0.52"/>
<circle cx="273.97" cy="363.46" r="0.67" fill="#2f78b8" fill-opacity="0.43"/>
<circle cx="266.8" cy="353.1" r="0.41" fill="#5ab0e8" fill-opacity="0.78"/>
<circle cx="268.83" cy="361.1" r="0.74" fill="#3a8fd0" fill-opacity="0.41"/>
<circle cx="275.68" cy="350.8" r="0.35" fill="#3a8fd0" fill-opacity="0.79"/>
<circle cx="264.62" cy="338.89" r="0.62" fill="#5ab0e8" fill-opacity="0.83"/>
<circle cx="285.23" cy="361.39" r="0.6" fill="#4aa0e0" fill-opacity="0.51"/>
<circle cx="274.14" cy="343.71" r="0.41" fill="#2f78b8" fill-opacity="0.61"/>
<circle cx="269.59" cy="359.14" r="0.47" fill="#4aa0e0" fill-opacity="0.60"/>
<circle cx="276.09" cy="352.33" r="0.43" fill="#2f78b8" fill-opacity="0.49"/>
<circle cx="282.07" cy="366.46" r="0.7" fill="#5ab0e8" fill-opacity="0.47"/>
<circle cx="280.19" cy="372.71" r="0.52" fill="#2f78b8" fill-opacity="0.50"/>
<circle cx="268.64" cy="368.87" r="0.47" fill="#2f78b8" fill-opacity="0.72"/>
<circle cx="269.08" cy="344.06" r="0.51" fill="#2f78b8" fill-opacity="0.58"/>
<circle cx="265.65" cy="338.97" r="0.64" fill="#4aa0e0" fill-opacity="0.84"/>
<circle cx="277.69" cy="352.87" r="0.47" fill="#2f78b8" fill-opacity="0.70"/>
<circle cx="262.44" cy="346.47" r="0.51" fill="#3a8fd0" fill-opacity="0.57"/>
<circle cx="283.49" cy="359.96" r="0.74" fill="#2f78b8" fill-opacity="0.75"/>
<circle cx="267.13" cy="344.72" r="0.4" fill="#4aa0e0" fill-opacity="0.59"/>
<circle cx="267.69" cy="350.34" r="0.57" fill="#4aa0e0" fill-opacity="0.80"/>
<circle cx="286.75" cy="369.62" r="0.55" fill="#5ab0e8" fill-opacity="0.43"/>
<circle cx="271.79" cy="341.69" r="0.67" fill="#2f78b8" fill-opacity="0.49"/>
<circle cx="287.56" cy="372.57" r="0.5" fill="#4aa0e0" fill-opacity="0.80"/>
<circle cx="266.92" cy="352.67" r="0.7" fill="#2f78b8" fill-opacity="0.60"/>
<circle cx="264.35" cy="339.98" r="0.58" fill="#2f78b8" fill-opacity="0.84"/>
<circle cx="266.34" cy="351.26" r="0.7" fill="#2f78b8" fill-opacity="0.41"/>
<circle cx="264.3" cy="348.41" r="0.37" fill="#4aa0e0" fill-opacity="0.45"/>
<circle cx="276.59" cy="358.79" r="0.45" fill="#3a8fd0" fill-opacity="0.45"/>
<circle cx="287.74" cy="369.88" r="0.46" fill="#2f78b8" fill-opacity="0.41"/>
<circle cx="275.33" cy="358.48" r="0.73" fill="#3a8fd0" fill-opacity="0.61"/>
<circle cx="263.4" cy="340.42" r="0.49" fill="#5ab0e8" fill-opacity="0.81"/>
<circle cx="262.31" cy="336.12" r="0.5" fill="#5ab0e8" fill-opacity="0.47"/>
<circle cx="273.5" cy="369.93" r="0.61" fill="#5ab0e8" fill-opacity="0.67"/>
<circle cx="275.28" cy="356.39" r="0.49" fill="#5ab0e8" fill-opacity="0.74"/>
<circle cx="283.41" cy="354.76" r="0.37" fill="#5ab0e8" fill-opacity="0.58"/>
<circle cx="268.76" cy="359.58" r="0.62" fill="#5ab0e8" fill-opacity="0.62"/>
<circle cx="278.28" cy="351.07" r="0.4" fill="#2f78b8" fill-opacity="0.73"/>
<circle cx="286.68" cy="365.57" r="0.75" fill="#2f78b8" fill-opacity="0.58"/>
<circle cx="260.59" cy="344.04" r="0.39" fill="#3a8fd0" fill-opacity="0.44"/>
<circle cx="265.45" cy="335.69" r="0.56" fill="#2f78b8" fill-opacity="0.61"/>
<circle cx="273.49" cy="374.97" r="0.58" fill="#5ab0e8" fill-opacity="0.41"/>
<circle cx="271.85" cy="347.17" r="0.45" fill="#5ab0e8" fill-opacity="0.53"/>
<circle cx="273.92" cy="348.99" r="0.6" fill="#2f78b8" fill-opacity="0.73"/>
<circle cx="290.83" cy="364.31" r="0.73" fill="#2f78b8" fill-opacity="0.86"/>
<circle cx="284.03" cy="348.67" r="0.5" fill="#3a8fd0" fill-opacity="0.74"/>
<circle cx="274.98" cy="373.97" r="0.51" fill="#5ab0e8" fill-opacity="0.60"/>
<circle cx="320.88" cy="343.45" r="0.59" fill="#2f78b8" fill-opacity="0.76"/>
<circle cx="260.38" cy="367.26" r="0.56" fill="#2f78b8" fill-opacity="0.93"/>
<circle cx="246.6" cy="350.64" r="0.75" fill="#2f78b8" fill-opacity="0.87"/>
<circle cx="295.38" cy="355.48" r="0.56" fill="#4aa0e0" fill-opacity="0.82"/>
<circle cx="247.33" cy="342.51" r="0.43" fill="#4aa0e0" fill-opacity="0.88"/>
<circle cx="302.86" cy="361.98" r="0.74" fill="#2f78b8" fill-opacity="0.82"/>
<circle cx="252.59" cy="354.93" r="0.63" fill="#4aa0e0" fill-opacity="0.71"/>
<circle cx="265.78" cy="343.59" r="0.79" fill="#4aa0e0" fill-opacity="0.87"/>
<circle cx="300.7" cy="348.35" r="0.41" fill="#2f78b8" fill-opacity="0.80"/>
<circle cx="285.44" cy="342.1" r="0.38" fill="#3a8fd0" fill-opacity="0.63"/>
<circle cx="291.35" cy="359.3" r="0.66" fill="#4aa0e0" fill-opacity="0.71"/>
<circle cx="308.82" cy="342.62" r="0.72" fill="#3a8fd0" fill-opacity="0.61"/>
<circle cx="312.33" cy="353.19" r="0.72" fill="#5ab0e8" fill-opacity="0.81"/>
<circle cx="310.13" cy="343.66" r="0.75" fill="#2f78b8" fill-opacity="0.84"/>
<circle cx="252.4" cy="350.48" r="0.76" fill="#3a8fd0" fill-opacity="0.85"/>
<circle cx="251.54" cy="341.92" r="0.48" fill="#2f78b8" fill-opacity="0.72"/>
<circle cx="300.02" cy="339.01" r="0.44" fill="#5ab0e8" fill-opacity="0.84"/>
<circle cx="318.69" cy="357.73" r="0.35" fill="#3a8fd0" fill-opacity="0.89"/>
<circle cx="259.99" cy="339.18" r="0.77" fill="#5ab0e8" fill-opacity="0.84"/>
<circle cx="310.1" cy="341.27" r="0.66" fill="#5ab0e8" fill-opacity="0.75"/>
<circle cx="305.7" cy="368.85" r="0.77" fill="#4aa0e0" fill-opacity="0.71"/>
<circle cx="300.84" cy="368.92" r="0.46" fill="#2f78b8" fill-opacity="0.76"/>
<circle cx="259.7" cy="344.23" r="0.78" fill="#2f78b8" fill-opacity="0.78"/>
<circle cx="269.49" cy="354.99" r="0.63" fill="#2f78b8" fill-opacity="0.76"/>
<circle cx="254.64" cy="355.45" r="0.76" fill="#5ab0e8" fill-opacity="0.66"/>
<circle cx="302.39" cy="352.59" r="0.43" fill="#4aa0e0" fill-opacity="0.91"/>
<circle cx="257.63" cy="364.54" r="0.51" fill="#3a8fd0" fill-opacity="0.71"/>
<circle cx="269.54" cy="340.37" r="0.48" fill="#4aa0e0" fill-opacity="0.73"/>
<circle cx="305.79" cy="370.57" r="0.49" fill="#4aa0e0" fill-opacity="0.82"/>
<circle cx="289.52" cy="360.67" r="0.41" fill="#4aa0e0" fill-opacity="0.72"/>
<circle cx="310.16" cy="367.11" r="0.66" fill="#5ab0e8" fill-opacity="0.77"/>
<circle cx="295.19" cy="373.8" r="0.44" fill="#3a8fd0" fill-opacity="0.66"/>
<circle cx="255.61" cy="371.55" r="0.49" fill="#5ab0e8" fill-opacity="0.76"/>
<circle cx="253.76" cy="342.85" r="0.61" fill="#4aa0e0" fill-opacity="0.66"/>
<circle cx="288.32" cy="343.26" r="0.64" fill="#5ab0e8" fill-opacity="0.93"/>
<circle cx="243.32" cy="372.88" r="0.44" fill="#3a8fd0" fill-opacity="0.96"/>
<circle cx="293.04" cy="339.6" r="0.55" fill="#2f78b8" fill-opacity="0.85"/>
<circle cx="288.96" cy="373.27" r="0.43" fill="#2f78b8" fill-opacity="0.75"/>
<circle cx="279.92" cy="338.12" r="0.64" fill="#2f78b8" fill-opacity="0.66"/>
<circle cx="285.5" cy="364.97" r="0.4" fill="#3a8fd0" fill-opacity="0.68"/>
<circle cx="258.26" cy="345.78" r="0.73" fill="#2f78b8" fill-opacity="0.80"/>
<circle cx="261.78" cy="347.56" r="0.56" fill="#2f78b8" fill-opacity="0.70"/>
<circle cx="311.39" cy="352.13" r="0.69" fill="#3a8fd0" fill-opacity="0.65"/>
<circle cx="301.23" cy="353.68" r="0.57" fill="#3a8fd0" fill-opacity="1.00"/>
<circle cx="258.51" cy="336.97" r="0.69" fill="#5ab0e8" fill-opacity="0.86"/>
<circle cx="284.15" cy="344.5" r="0.54" fill="#5ab0e8" fill-opacity="0.87"/>
<circle cx="288.21" cy="356.84" r="0.69" fill="#2f78b8" fill-opacity="0.67"/>
<circle cx="274.1" cy="371.33" r="0.53" fill="#3a8fd0" fill-opacity="0.82"/>
<circle cx="278.45" cy="358.61" r="0.46" fill="#3a8fd0" fill-opacity="0.63"/>
<circle cx="271.15" cy="370.9" r="0.79" fill="#3a8fd0" fill-opacity="0.70"/>
<circle cx="280.57" cy="341.84" r="0.44" fill="#4aa0e0" fill-opacity="0.95"/>
<circle cx="276.29" cy="361.05" r="0.77" fill="#4aa0e0" fill-opacity="0.86"/>
<circle cx="293.88" cy="361.94" r="0.36" fill="#5ab0e8" fill-opacity="0.89"/>
<circle cx="283.07" cy="344.81" r="0.38" fill="#3a8fd0" fill-opacity="0.87"/>
<circle cx="264.67" cy="367.28" r="0.49" fill="#4aa0e0" fill-opacity="0.65"/>
<circle cx="299.76" cy="338.24" r="0.77" fill="#3a8fd0" fill-opacity="0.91"/>
<circle cx="314.41" cy="363.83" r="0.63" fill="#5ab0e8" fill-opacity="0.96"/>
<circle cx="251.31" cy="354.15" r="0.57" fill="#5ab0e8" fill-opacity="0.75"/>
<circle cx="276.39" cy="344.67" r="0.79" fill="#2f78b8" fill-opacity="0.79"/>
<circle cx="298.25" cy="350.72" r="0.58" fill="#2f78b8" fill-opacity="0.93"/>
<circle cx="288.32" cy="361.7" r="0.47" fill="#4aa0e0" fill-opacity="0.66"/>
<circle cx="272.79" cy="360" r="0.51" fill="#4aa0e0" fill-opacity="0.77"/>
<circle cx="316.14" cy="371.57" r="0.46" fill="#3a8fd0" fill-opacity="0.77"/>
<circle cx="244.67" cy="353.36" r="0.76" fill="#2f78b8" fill-opacity="0.96"/>
<circle cx="276.75" cy="366.17" r="0.4" fill="#3a8fd0" fill-opacity="0.76"/>
<circle cx="281.98" cy="368.38" r="0.71" fill="#2f78b8" fill-opacity="0.65"/>
<circle cx="279.4" cy="336.14" r="0.42" fill="#4aa0e0" fill-opacity="0.86"/>
<circle cx="306.39" cy="357.72" r="0.62" fill="#3a8fd0" fill-opacity="0.65"/>
<circle cx="306.87" cy="352.26" r="0.46" fill="#4aa0e0" fill-opacity="0.73"/>
<circle cx="318.18" cy="358.14" r="0.79" fill="#5ab0e8" fill-opacity="0.72"/>
<circle cx="246.61" cy="340" r="0.54" fill="#4aa0e0" fill-opacity="0.84"/>
<circle cx="298.96" cy="346.67" r="0.57" fill="#4aa0e0" fill-opacity="0.83"/>
<circle cx="243.69" cy="353.85" r="0.5" fill="#2f78b8" fill-opacity="0.86"/>
<circle cx="282.22" cy="339.28" r="0.58" fill="#2f78b8" fill-opacity="0.69"/>
<circle cx="251.08" cy="355.95" r="0.58" fill="#2f78b8" fill-opacity="0.75"/>
<circle cx="274.57" cy="371.38" r="0.47" fill="#4aa0e0" fill-opacity="1.00"/>
<circle cx="316.52" cy="345.84" r="0.72" fill="#4aa0e0" fill-opacity="0.65"/>
<line x1="312" y1="335.5" x2="320" y2="357.5" stroke="#3a80c0" stroke-width="1.2" stroke-opacity="0.6"/>
</g>
<line x1="242" y1="371.5" x2="264" y2="361.5" stroke="#e8e8e8" stroke-width="0.7" marker-end="url(#ah)"/>
<line x1="296" y1="341.5" x2="280" y2="353.5" stroke="#e8e8e8" stroke-width="0.7" marker-end="url(#ah)"/>
</g>
<defs>
<clipPath id="dc8"><rect x="327" y="335.5" width="79" height="40.2"/></clipPath>
</defs>
<g clip-path="url(#dc8)"><g filter="url(#bl)">
<rect x="327" y="335.5" width="79" height="40.2" fill="#010204"/>
<polygon points="351,335.5 371,335.5 397,375.7 371,375.7" fill="#081626" fill-opacity="0.3"/>
<circle cx="364.93" cy="357.51" r="0.72" fill="#2f70a8" fill-opacity="0.44"/>
<circle cx="372.68" cy="370.21" r="0.5" fill="#28608f" fill-opacity="0.86"/>
<circle cx="362.88" cy="351.55" r="0.66" fill="#3a80b8" fill-opacity="0.73"/>
<circle cx="362.9" cy="339.7" r="0.66" fill="#28608f" fill-opacity="0.61"/>
<circle cx="393.23" cy="371.52" r="0.56" fill="#28608f" fill-opacity="0.61"/>
<circle cx="373.98" cy="350.56" r="0.7" fill="#28608f" fill-opacity="0.54"/>
<circle cx="373.74" cy="361.97" r="0.56" fill="#3a80b8" fill-opacity="0.87"/>
<circle cx="390.35" cy="374.29" r="0.8" fill="#3a80b8" fill-opacity="0.42"/>
<circle cx="366.63" cy="338.78" r="0.43" fill="#28608f" fill-opacity="0.87"/>
<circle cx="389.65" cy="369" r="0.51" fill="#3a80b8" fill-opacity="0.64"/>
<circle cx="365.31" cy="348.06" r="0.72" fill="#2f70a8" fill-opacity="0.82"/>
<circle cx="368.48" cy="362.41" r="0.46" fill="#28608f" fill-opacity="0.67"/>
<circle cx="380.35" cy="354.73" r="0.61" fill="#2f70a8" fill-opacity="0.76"/>
<circle cx="373.57" cy="344.49" r="0.53" fill="#3a80b8" fill-opacity="0.55"/>
<circle cx="364.88" cy="346.25" r="0.4" fill="#3a80b8" fill-opacity="0.51"/>
<circle cx="370.37" cy="354.25" r="0.65" fill="#2f70a8" fill-opacity="0.45"/>
<circle cx="380.26" cy="373.51" r="0.5" fill="#28608f" fill-opacity="0.45"/>
<circle cx="379.31" cy="364.03" r="0.6" fill="#2f70a8" fill-opacity="0.62"/>
<circle cx="356.5" cy="344.06" r="0.63" fill="#2f70a8" fill-opacity="0.84"/>
<circle cx="371.09" cy="340.51" r="0.41" fill="#28608f" fill-opacity="0.69"/>
<circle cx="380.97" cy="371.05" r="0.46" fill="#3a80b8" fill-opacity="0.48"/>
<circle cx="367.97" cy="357.2" r="0.56" fill="#2f70a8" fill-opacity="0.44"/>
<circle cx="391.03" cy="375.05" r="0.67" fill="#3a80b8" fill-opacity="0.70"/>
<circle cx="390.18" cy="372.56" r="0.63" fill="#3a80b8" fill-opacity="0.42"/>
<circle cx="372.68" cy="355.64" r="0.42" fill="#3a80b8" fill-opacity="0.75"/>
<circle cx="386.15" cy="372.94" r="0.67" fill="#3a80b8" fill-opacity="0.79"/>
<circle cx="370.38" cy="353.41" r="0.7" fill="#3a80b8" fill-opacity="0.86"/>
<circle cx="369" cy="363.18" r="0.45" fill="#28608f" fill-opacity="0.74"/>
<circle cx="372.09" cy="371.38" r="0.45" fill="#3a80b8" fill-opacity="0.73"/>
<circle cx="361.8" cy="343.06" r="0.69" fill="#3a80b8" fill-opacity="0.80"/>
<circle cx="367.76" cy="360.9" r="0.79" fill="#2f70a8" fill-opacity="0.62"/>
<circle cx="352.98" cy="338.2" r="0.75" fill="#28608f" fill-opacity="0.61"/>
<circle cx="380.73" cy="373.86" r="0.74" fill="#2f70a8" fill-opacity="0.69"/>
<circle cx="362.29" cy="345.06" r="0.6" fill="#3a80b8" fill-opacity="0.43"/>
<circle cx="368.88" cy="370.96" r="0.41" fill="#3a80b8" fill-opacity="0.50"/>
<circle cx="357.98" cy="348.99" r="0.44" fill="#2f70a8" fill-opacity="0.83"/>
<circle cx="380.5" cy="370.02" r="0.6" fill="#3a80b8" fill-opacity="0.82"/>
<circle cx="376.37" cy="359.05" r="0.41" fill="#3a80b8" fill-opacity="0.71"/>
<circle cx="380.72" cy="351.96" r="0.6" fill="#28608f" fill-opacity="0.59"/>
<circle cx="370.12" cy="355.28" r="0.44" fill="#28608f" fill-opacity="0.62"/>
<circle cx="361.67" cy="355.79" r="0.69" fill="#3a80b8" fill-opacity="0.84"/>
<circle cx="390.39" cy="375.16" r="0.42" fill="#3a80b8" fill-opacity="0.73"/>
<circle cx="376.46" cy="346.62" r="0.73" fill="#2f70a8" fill-opacity="0.58"/>
<circle cx="362.73" cy="354.33" r="0.65" fill="#28608f" fill-opacity="0.71"/>
<circle cx="369.58" cy="348.84" r="0.77" fill="#28608f" fill-opacity="0.60"/>
<circle cx="388.97" cy="371.16" r="0.66" fill="#3a80b8" fill-opacity="0.63"/>
<circle cx="378.99" cy="357.7" r="0.79" fill="#28608f" fill-opacity="0.77"/>
<circle cx="376.77" cy="347.72" r="0.42" fill="#3a80b8" fill-opacity="0.87"/>
<circle cx="357.71" cy="336.06" r="0.75" fill="#2f70a8" fill-opacity="0.78"/>
<circle cx="375.43" cy="345.32" r="0.47" fill="#3a80b8" fill-opacity="0.52"/>
<circle cx="363.67" cy="350.82" r="0.68" fill="#28608f" fill-opacity="0.89"/>
<circle cx="381.52" cy="366.44" r="0.46" fill="#2f70a8" fill-opacity="0.52"/>
<circle cx="370.23" cy="356.24" r="0.54" fill="#3a80b8" fill-opacity="0.49"/>
<circle cx="380.25" cy="357.95" r="0.77" fill="#2f70a8" fill-opacity="0.66"/>
<circle cx="368.22" cy="367.5" r="0.45" fill="#2f70a8" fill-opacity="0.60"/>
<circle cx="383.57" cy="357.52" r="0.43" fill="#3a80b8" fill-opacity="0.44"/>
<circle cx="379.33" cy="350.77" r="0.62" fill="#2f70a8" fill-opacity="0.69"/>
<circle cx="370.05" cy="340.4" r="0.6" fill="#2f70a8" fill-opacity="0.64"/>
<circle cx="370.76" cy="369.15" r="0.75" fill="#2f70a8" fill-opacity="0.81"/>
<circle cx="355.6" cy="344.71" r="0.75" fill="#3a80b8" fill-opacity="0.45"/>
<circle cx="385.35" cy="366.31" r="0.65" fill="#3a80b8" fill-opacity="0.89"/>
<circle cx="357.43" cy="340.7" r="0.68" fill="#3a80b8" fill-opacity="0.74"/>
<circle cx="382.2" cy="369.62" r="0.51" fill="#3a80b8" fill-opacity="0.70"/>
<circle cx="367.64" cy="342.87" r="0.55" fill="#2f70a8" fill-opacity="0.52"/>
<circle cx="381.22" cy="363.53" r="0.45" fill="#3a80b8" fill-opacity="0.78"/>
<circle cx="359.27" cy="347.81" r="0.51" fill="#28608f" fill-opacity="0.63"/>
<circle cx="371.28" cy="368.28" r="0.44" fill="#3a80b8" fill-opacity="0.60"/>
<circle cx="358.97" cy="342.73" r="0.77" fill="#2f70a8" fill-opacity="0.45"/>
<circle cx="366.36" cy="362.34" r="0.5" fill="#28608f" fill-opacity="0.43"/>
<circle cx="385.93" cy="373.43" r="0.45" fill="#3a80b8" fill-opacity="0.57"/>
<circle cx="372.76" cy="345.23" r="0.69" fill="#3a80b8" fill-opacity="0.67"/>
<circle cx="368.07" cy="363.62" r="0.55" fill="#3a80b8" fill-opacity="0.61"/>
<circle cx="359.39" cy="347.24" r="0.57" fill="#3a80b8" fill-opacity="0.54"/>
<circle cx="384.36" cy="370.23" r="0.59" fill="#3a80b8" fill-opacity="0.71"/>
<circle cx="355.23" cy="339.1" r="0.43" fill="#3a80b8" fill-opacity="0.83"/>
<circle cx="361.7" cy="345.81" r="0.44" fill="#28608f" fill-opacity="0.75"/>
<circle cx="376.01" cy="361.27" r="0.48" fill="#2f70a8" fill-opacity="0.64"/>
<circle cx="377.36" cy="350.87" r="0.76" fill="#3a80b8" fill-opacity="0.72"/>
<circle cx="379.03" cy="357.9" r="0.43" fill="#3a80b8" fill-opacity="0.73"/>
<circle cx="368.4" cy="347.87" r="0.52" fill="#3a80b8" fill-opacity="0.82"/>
<circle cx="375.68" cy="347.07" r="0.71" fill="#28608f" fill-opacity="0.64"/>
<circle cx="373.87" cy="374.27" r="0.77" fill="#28608f" fill-opacity="0.65"/>
<circle cx="365.57" cy="336.14" r="0.72" fill="#3a80b8" fill-opacity="0.82"/>
<circle cx="376.71" cy="368.44" r="0.73" fill="#2f70a8" fill-opacity="0.61"/>
<circle cx="371.44" cy="336.31" r="0.69" fill="#28608f" fill-opacity="0.80"/>
<circle cx="367.79" cy="364.88" r="0.79" fill="#2f70a8" fill-opacity="0.56"/>
<circle cx="362.94" cy="343.65" r="0.66" fill="#28608f" fill-opacity="0.87"/>
<circle cx="372.36" cy="360.96" r="0.44" fill="#2f70a8" fill-opacity="0.55"/>
<circle cx="368.8" cy="340.12" r="0.7" fill="#3a80b8" fill-opacity="0.73"/>
<circle cx="377.23" cy="358.43" r="0.5" fill="#28608f" fill-opacity="0.70"/>
<circle cx="371.76" cy="357.32" r="0.5" fill="#3a80b8" fill-opacity="0.90"/>
<circle cx="366.53" cy="364.9" r="0.6" fill="#28608f" fill-opacity="0.50"/>
<circle cx="355.31" cy="337.66" r="0.54" fill="#2f70a8" fill-opacity="0.84"/>
<circle cx="372.44" cy="345" r="0.58" fill="#28608f" fill-opacity="0.60"/>
<circle cx="367.51" cy="338.59" r="0.47" fill="#2f70a8" fill-opacity="0.74"/>
<circle cx="379.09" cy="350.79" r="0.73" fill="#3a80b8" fill-opacity="0.58"/>
<circle cx="360.6" cy="341.19" r="0.57" fill="#2f70a8" fill-opacity="0.42"/>
<circle cx="361.53" cy="355.08" r="0.69" fill="#28608f" fill-opacity="0.76"/>
<circle cx="380.31" cy="350.43" r="0.51" fill="#3a80b8" fill-opacity="0.49"/>
<circle cx="378.6" cy="368.29" r="0.69" fill="#3a80b8" fill-opacity="0.78"/>
<circle cx="368.55" cy="340.89" r="0.72" fill="#28608f" fill-opacity="0.43"/>
<circle cx="364.99" cy="347.71" r="0.51" fill="#2f70a8" fill-opacity="0.72"/>
<circle cx="359.89" cy="339.53" r="0.49" fill="#3a80b8" fill-opacity="0.41"/>
<circle cx="379.58" cy="353.37" r="0.71" fill="#28608f" fill-opacity="0.59"/>
<circle cx="374.15" cy="355.57" r="0.49" fill="#2f70a8" fill-opacity="0.76"/>
<circle cx="374.81" cy="349.57" r="0.63" fill="#28608f" fill-opacity="0.89"/>
<circle cx="380.54" cy="350.72" r="0.4" fill="#2f70a8" fill-opacity="0.69"/>
<circle cx="380.08" cy="363.34" r="0.66" fill="#3a80b8" fill-opacity="0.50"/>
<circle cx="380.28" cy="367.02" r="0.7" fill="#3a80b8" fill-opacity="0.89"/>
<circle cx="380.67" cy="354.38" r="0.53" fill="#2f70a8" fill-opacity="0.75"/>
<circle cx="371.81" cy="347.24" r="0.45" fill="#3a80b8" fill-opacity="0.80"/>
<circle cx="383.57" cy="360.59" r="0.51" fill="#3a80b8" fill-opacity="0.70"/>
<circle cx="370.39" cy="364.8" r="0.52" fill="#3a80b8" fill-opacity="0.41"/>
<circle cx="376.87" cy="347.43" r="0.48" fill="#2f70a8" fill-opacity="0.49"/>
<circle cx="368.48" cy="364.91" r="0.7" fill="#2f70a8" fill-opacity="0.88"/>
<circle cx="373.65" cy="347.7" r="0.57" fill="#28608f" fill-opacity="0.84"/>
<circle cx="377.03" cy="373.22" r="0.7" fill="#28608f" fill-opacity="0.86"/>
<circle cx="372.4" cy="349.31" r="0.79" fill="#28608f" fill-opacity="0.41"/>
<circle cx="364.66" cy="348.77" r="0.48" fill="#3a80b8" fill-opacity="0.53"/>
<circle cx="373.93" cy="349.26" r="0.66" fill="#3a80b8" fill-opacity="0.41"/>
<circle cx="398.08" cy="346.45" r="0.43" fill="#3a8fd0" fill-opacity="0.72"/>
<circle cx="354.04" cy="355.93" r="0.52" fill="#3a8fd0" fill-opacity="0.69"/>
<circle cx="362.25" cy="347.76" r="0.56" fill="#3a8fd0" fill-opacity="0.57"/>
<circle cx="399.52" cy="367.31" r="0.57" fill="#5ab0e8" fill-opacity="0.65"/>
<circle cx="399.06" cy="345.32" r="0.45" fill="#3a8fd0" fill-opacity="0.52"/>
<circle cx="346.57" cy="345.43" r="0.43" fill="#4aa0e0" fill-opacity="0.47"/>
<circle cx="380.78" cy="355.37" r="0.69" fill="#2f78b8" fill-opacity="0.73"/>
<circle cx="342.19" cy="360.68" r="0.52" fill="#5ab0e8" fill-opacity="0.49"/>
<circle cx="383.17" cy="337.16" r="0.46" fill="#3a8fd0" fill-opacity="0.64"/>
<circle cx="367.54" cy="371.2" r="0.73" fill="#3a8fd0" fill-opacity="0.66"/>
<circle cx="338.74" cy="350.62" r="0.47" fill="#2f78b8" fill-opacity="0.64"/>
<circle cx="400.64" cy="349.09" r="0.51" fill="#2f78b8" fill-opacity="0.41"/>
<circle cx="365.82" cy="355.13" r="0.43" fill="#3a8fd0" fill-opacity="0.74"/>
<circle cx="363.38" cy="374.34" r="0.44" fill="#3a8fd0" fill-opacity="0.57"/>
<circle cx="338.82" cy="343.16" r="0.57" fill="#2f78b8" fill-opacity="0.58"/>
<circle cx="333.18" cy="339.69" r="0.57" fill="#2f78b8" fill-opacity="0.87"/>
<circle cx="357.37" cy="367.79" r="0.54" fill="#2f78b8" fill-opacity="0.55"/>
<circle cx="370.06" cy="336.51" r="0.55" fill="#3a8fd0" fill-opacity="0.50"/>
<circle cx="354.2" cy="358.88" r="0.43" fill="#3a8fd0" fill-opacity="0.88"/>
<circle cx="333.51" cy="363.81" r="0.64" fill="#4aa0e0" fill-opacity="0.41"/>
<circle cx="399.99" cy="353.13" r="0.59" fill="#2f78b8" fill-opacity="0.54"/>
<circle cx="329.31" cy="372.62" r="0.46" fill="#3a8fd0" fill-opacity="0.54"/>
<circle cx="363.44" cy="343.83" r="0.69" fill="#4aa0e0" fill-opacity="0.47"/>
<circle cx="397.92" cy="362.23" r="0.58" fill="#4aa0e0" fill-opacity="0.64"/>
<circle cx="355.59" cy="371.6" r="0.52" fill="#3a8fd0" fill-opacity="0.65"/>
<circle cx="404.93" cy="355.54" r="0.58" fill="#3a8fd0" fill-opacity="0.60"/>
<circle cx="337.75" cy="366.5" r="0.42" fill="#5ab0e8" fill-opacity="0.80"/>
<circle cx="337.39" cy="370.72" r="0.52" fill="#2f78b8" fill-opacity="0.44"/>
<circle cx="336.11" cy="372.78" r="0.5" fill="#3a8fd0" fill-opacity="0.85"/>
<circle cx="367.41" cy="356.11" r="0.75" fill="#4aa0e0" fill-opacity="0.47"/>
<circle cx="334.29" cy="344.8" r="0.44" fill="#3a8fd0" fill-opacity="0.61"/>
<circle cx="329.74" cy="372.52" r="0.54" fill="#4aa0e0" fill-opacity="0.78"/>
<circle cx="350.83" cy="364.81" r="0.43" fill="#5ab0e8" fill-opacity="0.79"/>
<circle cx="340.25" cy="349.33" r="0.68" fill="#2f78b8" fill-opacity="0.89"/>
<circle cx="336.35" cy="343.95" r="0.39" fill="#2f78b8" fill-opacity="0.72"/>
<circle cx="388.58" cy="356.24" r="0.57" fill="#3a8fd0" fill-opacity="0.73"/>
<circle cx="373.51" cy="355.36" r="0.65" fill="#3a8fd0" fill-opacity="0.46"/>
<circle cx="360.64" cy="352.44" r="0.52" fill="#2f78b8" fill-opacity="0.66"/>
<circle cx="338.65" cy="346" r="0.47" fill="#3a8fd0" fill-opacity="0.62"/>
<circle cx="352.55" cy="340.09" r="0.55" fill="#4aa0e0" fill-opacity="0.70"/>
<circle cx="355.99" cy="345.12" r="0.36" fill="#3a8fd0" fill-opacity="0.87"/>
<circle cx="349.59" cy="354.2" r="0.48" fill="#3a8fd0" fill-opacity="0.85"/>
<circle cx="345.58" cy="362.4" r="0.53" fill="#5ab0e8" fill-opacity="0.62"/>
<circle cx="336.22" cy="342.99" r="0.67" fill="#2f78b8" fill-opacity="0.46"/>
<circle cx="373.91" cy="375.11" r="0.64" fill="#5ab0e8" fill-opacity="0.86"/>
<circle cx="403.48" cy="352.57" r="0.44" fill="#5ab0e8" fill-opacity="0.73"/>
<circle cx="364.41" cy="371.34" r="0.72" fill="#4aa0e0" fill-opacity="0.45"/>
<circle cx="373.5" cy="352.42" r="0.45" fill="#3a8fd0" fill-opacity="0.69"/>
<circle cx="361.72" cy="344.24" r="0.71" fill="#3a8fd0" fill-opacity="0.62"/>
<circle cx="391.26" cy="342.81" r="0.64" fill="#2f78b8" fill-opacity="0.88"/>
<circle cx="384.41" cy="338.12" r="0.7" fill="#3a8fd0" fill-opacity="0.46"/>
<circle cx="359.42" cy="360.56" r="0.61" fill="#2f78b8" fill-opacity="0.82"/>
<circle cx="362.39" cy="348.45" r="0.43" fill="#2f78b8" fill-opacity="0.67"/>
<circle cx="338.76" cy="374.91" r="0.46" fill="#2f78b8" fill-opacity="0.62"/>
<circle cx="384.34" cy="347.29" r="0.63" fill="#4aa0e0" fill-opacity="0.85"/>
<circle cx="340.07" cy="343.23" r="0.4" fill="#4aa0e0" fill-opacity="0.76"/>
<circle cx="340.7" cy="368.41" r="0.47" fill="#5ab0e8" fill-opacity="0.89"/>
<circle cx="339.23" cy="350.18" r="0.37" fill="#2f78b8" fill-opacity="0.49"/>
<circle cx="399.39" cy="348.91" r="0.43" fill="#2f78b8" fill-opacity="0.81"/>
<circle cx="337.15" cy="372.22" r="0.75" fill="#5ab0e8" fill-opacity="0.66"/>
<circle cx="374.18" cy="341.02" r="0.61" fill="#2f78b8" fill-opacity="0.40"/>
<circle cx="383.15" cy="352.91" r="0.38" fill="#2f78b8" fill-opacity="0.45"/>
<circle cx="335.62" cy="347.43" r="0.55" fill="#4aa0e0" fill-opacity="0.89"/>
<circle cx="392.16" cy="367.15" r="0.62" fill="#3a8fd0" fill-opacity="0.75"/>
<circle cx="396.91" cy="361.79" r="0.4" fill="#3a8fd0" fill-opacity="0.41"/>
<circle cx="371.74" cy="370.3" r="0.38" fill="#5ab0e8" fill-opacity="0.50"/>
<circle cx="365.61" cy="357.38" r="0.67" fill="#5ab0e8" fill-opacity="0.42"/>
<circle cx="404.57" cy="345.79" r="0.69" fill="#3a8fd0" fill-opacity="0.60"/>
<circle cx="388.6" cy="366.95" r="0.57" fill="#3a8fd0" fill-opacity="0.77"/>
<circle cx="402.21" cy="369.76" r="0.59" fill="#2f78b8" fill-opacity="0.54"/>
<circle cx="348.53" cy="338.99" r="0.74" fill="#3a8fd0" fill-opacity="0.44"/>
<circle cx="357.17" cy="358.59" r="0.61" fill="#2f78b8" fill-opacity="0.87"/>
<circle cx="346.57" cy="342.12" r="0.6" fill="#2f78b8" fill-opacity="0.49"/>
<circle cx="396.06" cy="339.96" r="0.42" fill="#4aa0e0" fill-opacity="0.58"/>
<circle cx="367.61" cy="340.96" r="0.73" fill="#5ab0e8" fill-opacity="0.85"/>
<circle cx="364" cy="337.19" r="0.68" fill="#3a8fd0" fill-opacity="0.73"/>
<circle cx="393.1" cy="336.53" r="0.37" fill="#4aa0e0" fill-opacity="0.46"/>
<circle cx="350.25" cy="369.71" r="0.63" fill="#3a8fd0" fill-opacity="0.65"/>
<circle cx="339.47" cy="371.36" r="0.61" fill="#2f78b8" fill-opacity="0.56"/>
<circle cx="337.57" cy="342.12" r="0.51" fill="#4aa0e0" fill-opacity="0.55"/>
</g>
<line x1="346" y1="371.5" x2="368" y2="361.5" stroke="#e8e8e8" stroke-width="0.7" marker-end="url(#ah)"/>
<line x1="399" y1="341.5" x2="385" y2="353.5" stroke="#e8e8e8" stroke-width="0.7" marker-end="url(#ah)"/>
</g>
<defs>
<clipPath id="dc9"><rect x="412" y="335.5" width="79" height="40.2"/></clipPath>
</defs>
<g clip-path="url(#dc9)"><g filter="url(#bl)">
<defs><linearGradient id="g33" x1="0" y1="0" x2="1" y2="0.3"><stop offset="0" stop-color="#12400c"/><stop offset="0.3" stop-color="#1c5612"/><stop offset="1" stop-color="#1f6014"/></linearGradient></defs>
<rect x="412" y="335.5" width="79" height="40.2" fill="url(#g33)"/>
<polygon points="434,335.5 452,335.5 432,375.7 414,375.7" fill="#2a7a1c" fill-opacity="0.5"/>
<circle cx="422.71" cy="348.53" r="1.09" fill="#164a0e" fill-opacity="0.92"/>
<circle cx="418.94" cy="348.76" r="1.92" fill="#2a7a1c" fill-opacity="0.91"/>
<circle cx="454.32" cy="367.16" r="1.49" fill="#2a7a1c" fill-opacity="0.83"/>
<circle cx="460.15" cy="341.61" r="1.19" fill="#164a0e" fill-opacity="0.61"/>
<circle cx="419.73" cy="342.74" r="1.92" fill="#164a0e" fill-opacity="0.92"/>
<circle cx="481.6" cy="348.26" r="0.97" fill="#164a0e" fill-opacity="0.88"/>
<circle cx="441.35" cy="349.3" r="0.98" fill="#164a0e" fill-opacity="0.78"/>
<circle cx="476.15" cy="349.16" r="1.19" fill="#2a7a1c" fill-opacity="0.90"/>
<circle cx="481.73" cy="349.7" r="1.63" fill="#164a0e" fill-opacity="0.87"/>
<circle cx="440.13" cy="357.77" r="1.51" fill="#164a0e" fill-opacity="0.71"/>
<circle cx="481.91" cy="367.7" r="1.17" fill="#2a7a1c" fill-opacity="0.88"/>
<circle cx="463.89" cy="352.81" r="0.85" fill="#164a0e" fill-opacity="0.82"/>
<circle cx="454.62" cy="351.99" r="1.47" fill="#2a7a1c" fill-opacity="0.65"/>
<circle cx="431.69" cy="362.84" r="1.94" fill="#164a0e" fill-opacity="0.86"/>
<circle cx="475.73" cy="363.34" r="1.92" fill="#2a7a1c" fill-opacity="0.69"/>
<circle cx="469.14" cy="365.81" r="1.91" fill="#164a0e" fill-opacity="0.81"/>
<circle cx="472.86" cy="341.78" r="1.43" fill="#164a0e" fill-opacity="0.99"/>
<circle cx="475.9" cy="335.69" r="1.8" fill="#2a7a1c" fill-opacity="0.87"/>
<circle cx="436.03" cy="364.92" r="1.38" fill="#2a7a1c" fill-opacity="0.75"/>
<circle cx="481.64" cy="363.02" r="1.34" fill="#164a0e" fill-opacity="0.98"/>
<circle cx="412.57" cy="371.57" r="1.66" fill="#164a0e" fill-opacity="0.82"/>
<circle cx="455.47" cy="335.86" r="1.37" fill="#164a0e" fill-opacity="0.75"/>
<circle cx="490.54" cy="361.57" r="0.85" fill="#2a7a1c" fill-opacity="0.79"/>
<circle cx="418.99" cy="351.59" r="1.08" fill="#164a0e" fill-opacity="0.86"/>
<circle cx="447.13" cy="357.17" r="1.81" fill="#164a0e" fill-opacity="0.83"/>
<circle cx="453.89" cy="357.18" r="1.38" fill="#2a7a1c" fill-opacity="0.93"/>
<circle cx="417.95" cy="340.47" r="1.21" fill="#2a7a1c" fill-opacity="0.82"/>
<circle cx="484.64" cy="362.28" r="1.05" fill="#2a7a1c" fill-opacity="0.69"/>
<circle cx="429.52" cy="336.44" r="1.13" fill="#2a7a1c" fill-opacity="0.61"/>
<circle cx="445.06" cy="372.47" r="1.75" fill="#164a0e" fill-opacity="0.84"/>
<circle cx="435.69" cy="365.04" r="1.63" fill="#2a7a1c" fill-opacity="0.79"/>
<circle cx="448.65" cy="347" r="0.85" fill="#164a0e" fill-opacity="0.98"/>
<circle cx="437.49" cy="361.08" r="1.41" fill="#2a7a1c" fill-opacity="0.94"/>
<circle cx="476.47" cy="355.13" r="1.01" fill="#164a0e" fill-opacity="0.75"/>
<circle cx="460.28" cy="359.71" r="1.19" fill="#164a0e" fill-opacity="0.97"/>
<circle cx="442.6" cy="365.71" r="1.94" fill="#164a0e" fill-opacity="0.73"/>
<circle cx="468.69" cy="368.3" r="0.97" fill="#2a7a1c" fill-opacity="0.84"/>
<circle cx="477.22" cy="338.03" r="1.45" fill="#164a0e" fill-opacity="0.99"/>
<circle cx="485.99" cy="339.68" r="1.25" fill="#164a0e" fill-opacity="0.81"/>
<circle cx="487.6" cy="345.69" r="0.83" fill="#164a0e" fill-opacity="0.88"/>
<rect x="412" y="335.5" width="79" height="40.2" fill="#000" filter="url(#nz)" opacity="0.25"/>
</g>
<line x1="412" y1="342.5" x2="434" y2="353.5" stroke="#e8e8e8" stroke-width="0.7" marker-end="url(#ah)"/>
<line x1="462" y1="372.5" x2="445" y2="362.5" stroke="#e8e8e8" stroke-width="0.7" marker-end="url(#ah)"/>
</g>
<defs>
<clipPath id="ec0"><rect x="527.3" y="214.6" width="81.5" height="55.2"/></clipPath>
</defs>
<g clip-path="url(#ec0)">
<rect x="527.3" y="214.6" width="81.5" height="55.2" fill="#260604"/>
<rect x="527.3" y="214.6" width="81.5" height="55.2" fill="#000" filter="url(#nzr)" opacity="0.6"/>
<g filter="url(#bl)">
<path d="M579.53 218.62 C565.8 215.27 561.11 213.39 542.92 205.24" stroke="#b82a18" stroke-opacity="0.44" stroke-width="0.51" fill="none"/>
<path d="M551.37 215.5 C556.57 217.34 559.73 219.68 564.92 219.84" stroke="#b82a18" stroke-opacity="0.44" stroke-width="0.82" fill="none"/>
<path d="M548.06 220.01 C564.85 221.43 572.97 209.41 586.88 209.54" stroke="#b82a18" stroke-opacity="0.37" stroke-width="0.93" fill="none"/>
<path d="M593.23 266.24 C585.23 282.18 574.47 291.94 570.08 302.65" stroke="#b82a18" stroke-opacity="0.53" stroke-width="0.99" fill="none"/>
<path d="M534.22 268.67 C513.84 268.95 510.43 258.7 491.24 256.89" stroke="#b82a18" stroke-opacity="0.46" stroke-width="1.01" fill="none"/>
<path d="M551.42 225.23 C546.14 207 538.8 200.48 533.52 185.78" stroke="#b82a18" stroke-opacity="0.57" stroke-width="0.93" fill="none"/>
<path d="M585.54 268.94 C597.37 265.28 610.94 270.3 629.05 276.48" stroke="#b82a18" stroke-opacity="0.34" stroke-width="0.77" fill="none"/>
<path d="M603.26 249.9 C598.52 257.87 599.6 262.57 605.92 270.47" stroke="#b82a18" stroke-opacity="0.70" stroke-width="1.06" fill="none"/>
<path d="M592.11 240.6 C596.18 248.39 604.21 249.55 606.64 262.71" stroke="#b82a18" stroke-opacity="0.52" stroke-width="0.8" fill="none"/>
<path d="M533.27 227.87 C531.61 216.29 540.37 206.44 545.89 185.29" stroke="#b82a18" stroke-opacity="0.45" stroke-width="0.58" fill="none"/>
<path d="M597.79 241.98 C598.97 240.15 617.04 230.75 618.53 232.18" stroke="#b82a18" stroke-opacity="0.45" stroke-width="0.86" fill="none"/>
<path d="M593.71 227.67 C585.33 232.47 566.85 237.72 553.12 242.07" stroke="#b82a18" stroke-opacity="0.62" stroke-width="0.59" fill="none"/>
<path d="M545.86 260.65 C538.15 260.41 540.6 275.66 538.69 273.48" stroke="#b82a18" stroke-opacity="0.65" stroke-width="0.78" fill="none"/>
<path d="M560.16 246.6 C560.68 251.91 542.41 248.49 541.19 244.04" stroke="#b82a18" stroke-opacity="0.44" stroke-width="0.7" fill="none"/>
<path d="M544.37 250.45 C545.71 270.73 561.58 286.12 561.08 294.83" stroke="#b82a18" stroke-opacity="0.60" stroke-width="1.01" fill="none"/>
<path d="M532.02 251.36 C551.12 245.81 564.04 260.21 570.75 254.72" stroke="#b82a18" stroke-opacity="0.63" stroke-width="0.95" fill="none"/>
<path d="M556.33 260.88 C569.91 261.44 581.28 258.57 592.26 264.63" stroke="#b82a18" stroke-opacity="0.63" stroke-width="0.93" fill="none"/>
<path d="M565.15 246.13 C566.21 228.43 573.63 209.94 569.7 201.52" stroke="#b82a18" stroke-opacity="0.61" stroke-width="0.54" fill="none"/>
<path d="M563.31 257.97 C552.82 255.45 538.96 247.78 519.26 251.2" stroke="#b82a18" stroke-opacity="0.65" stroke-width="0.66" fill="none"/>
<path d="M559.04 263.04 C553.81 259.26 531.91 261.01 523.84 256.01" stroke="#b82a18" stroke-opacity="0.54" stroke-width="0.91" fill="none"/>
<path d="M569.6 252.91 C575.76 251.04 593.16 250.22 602.46 245.98" stroke="#b82a18" stroke-opacity="0.30" stroke-width="0.61" fill="none"/>
<path d="M546.28 224.22 C560.19 221.94 566.32 223.98 573.15 223.85" stroke="#b82a18" stroke-opacity="0.63" stroke-width="0.62" fill="none"/>
<path d="M552.08 214.99 C552.74 229.84 567.75 242.32 566.57 262.08" stroke="#b82a18" stroke-opacity="0.32" stroke-width="0.7" fill="none"/>
<path d="M558.91 227.28 C561.18 218.12 575.48 219.81 583.14 216.26" stroke="#b82a18" stroke-opacity="0.65" stroke-width="0.55" fill="none"/>
<path d="M583.85 216.37 C594.63 218.04 596.3 217.79 600.16 220.2" stroke="#b82a18" stroke-opacity="0.40" stroke-width="0.71" fill="none"/>
<path d="M579.62 233.34 C563.01 244.19 547.37 247.07 531.46 246.59" stroke="#b82a18" stroke-opacity="0.39" stroke-width="0.64" fill="none"/>
<path d="M551.88 264.54 C550.2 255.62 542.48 248.51 534.47 235.29" stroke="#b82a18" stroke-opacity="0.52" stroke-width="0.94" fill="none"/>
<path d="M533.29 269.39 C536.96 252.71 526.21 246.12 529.77 233.23" stroke="#b82a18" stroke-opacity="0.45" stroke-width="0.99" fill="none"/>
<path d="M566.72 259.56 C555.82 242.73 552.73 227.59 549.2 218.61" stroke="#b82a18" stroke-opacity="0.50" stroke-width="0.69" fill="none"/>
<path d="M575.76 251.18 C572.45 249.35 574.59 242.91 566.94 238.98" stroke="#b82a18" stroke-opacity="0.35" stroke-width="1.07" fill="none"/>
<path d="M564.26 269.16 C571.1 265.02 578.23 273.89 583.25 269.78" stroke="#b82a18" stroke-opacity="0.51" stroke-width="0.89" fill="none"/>
<path d="M543.25 246.28 C553 234.55 551.15 228.21 556.39 227.04" stroke="#b82a18" stroke-opacity="0.53" stroke-width="1.08" fill="none"/>
<path d="M603.34 268.58 C600.87 269.53 599.89 277.78 599.89 287.77" stroke="#b82a18" stroke-opacity="0.46" stroke-width="0.75" fill="none"/>
<path d="M570.52 223.59 C576.61 214.17 582.1 217.51 582.13 210.23" stroke="#b82a18" stroke-opacity="0.70" stroke-width="0.8" fill="none"/>
<path d="M604.95 226.02 C608.04 236.86 609.47 244.53 615.63 250.65" stroke="#b82a18" stroke-opacity="0.69" stroke-width="0.54" fill="none"/>
<path d="M603.03 215.58 C604.32 209.23 587.24 193.93 587.49 185.53" stroke="#b82a18" stroke-opacity="0.67" stroke-width="0.75" fill="none"/>
<path d="M605.84 235.25 C605.33 231.25 605.83 208.6 601.73 202.03" stroke="#b82a18" stroke-opacity="0.57" stroke-width="1.05" fill="none"/>
<path d="M592.58 265.73 C595.85 263.18 605.97 275.74 615.03 272.23" stroke="#b82a18" stroke-opacity="0.47" stroke-width="0.78" fill="none"/>
<path d="M587.26 218.58 C586.08 206.9 597.95 199.89 593.51 191.6" stroke="#b82a18" stroke-opacity="0.60" stroke-width="0.93" fill="none"/>
<path d="M597.69 253.02 C607.53 257.9 612.64 263.15 627.47 261.28" stroke="#b82a18" stroke-opacity="0.42" stroke-width="0.79" fill="none"/>
<path d="M533.41 263.27 C518.13 266.15 501.2 276.94 488.04 281.45" stroke="#b82a18" stroke-opacity="0.48" stroke-width="0.88" fill="none"/>
<path d="M534.31 234.84 C539.85 244.73 551.88 261.57 558.7 268.54" stroke="#b82a18" stroke-opacity="0.36" stroke-width="1.08" fill="none"/>
<path d="M601.1 227.01 C599.28 233.08 595.93 230.37 592.85 241.84" stroke="#b82a18" stroke-opacity="0.54" stroke-width="1" fill="none"/>
<path d="M546.52 252.69 C552.45 247.94 549.99 238.7 543.29 235.56" stroke="#b82a18" stroke-opacity="0.47" stroke-width="0.79" fill="none"/>
<path d="M557.94 242.46 C557.3 252.21 559.64 265.79 567.34 272.66" stroke="#b82a18" stroke-opacity="0.52" stroke-width="1.07" fill="none"/>
<path d="M565.53 262.39 C578.48 258.36 580.09 264.9 596.69 260.54" stroke="#b82a18" stroke-opacity="0.34" stroke-width="0.8" fill="none"/>
<path d="M545.59 218.93 C556.65 218.7 552.63 211.55 564.18 200.75" stroke="#b82a18" stroke-opacity="0.58" stroke-width="0.62" fill="none"/>
<path d="M567.83 247.84 C562.08 253.61 573.28 265.42 571.36 269.67" stroke="#b82a18" stroke-opacity="0.39" stroke-width="1.01" fill="none"/>
</g><g filter="url(#bl2)">
<circle cx="548.3" cy="217.2" r="3.2" fill="#c83224" fill-opacity="0.5"/>
<circle cx="541" cy="216" r="3.2" fill="#c83224" fill-opacity="0.5"/>
<circle cx="552" cy="225.8" r="3.2" fill="#c83224" fill-opacity="0.5"/>
<circle cx="579" cy="235" r="3.2" fill="#c83224" fill-opacity="0.5"/>
<circle cx="583.8" cy="239.6" r="3.2" fill="#c83224" fill-opacity="0.5"/>
<circle cx="588.4" cy="235.6" r="3.2" fill="#c83224" fill-opacity="0.5"/>
<circle cx="549.6" cy="253.4" r="3.2" fill="#c83224" fill-opacity="0.5"/>
<circle cx="547.6" cy="258.6" r="3.2" fill="#c83224" fill-opacity="0.5"/>
<circle cx="588.4" cy="216" r="3.2" fill="#c83224" fill-opacity="0.5"/>
<circle cx="595.6" cy="217.2" r="3.2" fill="#c83224" fill-opacity="0.5"/>
<circle cx="541" cy="256" r="3.2" fill="#c83224" fill-opacity="0.5"/>
<circle cx="564" cy="239" r="3.2" fill="#c83224" fill-opacity="0.5"/>
<circle cx="556" cy="247" r="3.2" fill="#c83224" fill-opacity="0.5"/>
</g><g filter="url(#bl)">
<circle cx="558" cy="240" r="1.07" fill="#3a2cf8" fill-opacity="0.9"/>
<circle cx="566.7" cy="234.3" r="0.96" fill="#3a2cf8" fill-opacity="0.9"/>
<circle cx="597.6" cy="238.3" r="1.07" fill="#3a2cf8" fill-opacity="0.9"/>
<circle cx="574" cy="248" r="1.41" fill="#3a2cf8" fill-opacity="0.9"/>
<circle cx="539" cy="246" r="1.05" fill="#3a2cf8" fill-opacity="0.9"/>
<circle cx="528.5" cy="258" r="1.28" fill="#3a2cf8" fill-opacity="0.9"/>
<circle cx="548.3" cy="217.2" r="2.12" fill="#f8c860"/>
<circle cx="541" cy="216" r="1.87" fill="#ffd070"/>
<circle cx="552" cy="225.8" r="1.87" fill="#f4b048"/>
<circle cx="579" cy="235" r="1.95" fill="#f09040"/>
<circle cx="583.8" cy="239.6" r="2.26" fill="#f4b048"/>
<circle cx="588.4" cy="235.6" r="1.83" fill="#ff6030"/>
<circle cx="549.6" cy="253.4" r="1.93" fill="#ffd070"/>
<circle cx="547.6" cy="258.6" r="1.93" fill="#f8c860"/>
<circle cx="588.4" cy="216" r="1.87" fill="#f4b048"/>
<circle cx="595.6" cy="217.2" r="2.24" fill="#f8c860"/>
<circle cx="541" cy="256" r="1.88" fill="#e04030"/>
<circle cx="564" cy="239" r="2.03" fill="#e04030"/>
<circle cx="556" cy="247" r="2.19" fill="#c03020"/>
</g></g>
<defs>
<clipPath id="ec1"><rect x="527.3" y="274.9" width="81.5" height="54.7"/></clipPath>
</defs>
<g clip-path="url(#ec1)">
<rect x="527.3" y="274.9" width="81.5" height="54.7" fill="#140202"/>
<rect x="527.3" y="274.9" width="81.5" height="54.7" fill="#000" filter="url(#nzr)" opacity="0.35"/>
<g filter="url(#bl)">
<path d="M542.46 290.19 C548.1 284.12 554.15 288.33 554.85 288.99" stroke="#b82a18" stroke-opacity="0.67" stroke-width="0.63" fill="none"/>
<path d="M598.81 287.35 C597.7 287.28 615.06 288.29 613.41 291.86" stroke="#b82a18" stroke-opacity="0.59" stroke-width="0.52" fill="none"/>
<path d="M569.34 304.4 C577.75 308.47 592.3 320.06 597.13 324.06" stroke="#b82a18" stroke-opacity="0.35" stroke-width="0.56" fill="none"/>
<path d="M531.57 289.31 C527.6 282.23 505.25 269.03 499.66 252.39" stroke="#b82a18" stroke-opacity="0.60" stroke-width="0.78" fill="none"/>
<path d="M608.45 307.67 C608.17 313.73 620 321.7 623.32 321.34" stroke="#b82a18" stroke-opacity="0.30" stroke-width="0.51" fill="none"/>
<path d="M606.58 289.24 C599.81 308.11 609.49 319.65 602.57 334" stroke="#b82a18" stroke-opacity="0.54" stroke-width="0.5" fill="none"/>
<path d="M576.74 308.47 C572.71 294.23 581.63 281.88 580.91 277.09" stroke="#b82a18" stroke-opacity="0.34" stroke-width="0.65" fill="none"/>
<path d="M592.2 304.79 C583.35 313.7 573.15 334.89 561.95 342.86" stroke="#b82a18" stroke-opacity="0.45" stroke-width="0.76" fill="none"/>
<path d="M574.36 328.9 C571.49 321.63 565.95 322.35 562.19 314.46" stroke="#b82a18" stroke-opacity="0.31" stroke-width="0.8" fill="none"/>
<path d="M552.9 307.67 C558.94 295.84 557.92 290.07 565.68 280.8" stroke="#b82a18" stroke-opacity="0.51" stroke-width="0.63" fill="none"/>
<path d="M589.65 302.23 C589.97 313.48 587 309.95 576.33 319.28" stroke="#b82a18" stroke-opacity="0.33" stroke-width="0.88" fill="none"/>
<path d="M529.32 321.74 C524.97 316.91 517.5 305.08 518.62 299.36" stroke="#b82a18" stroke-opacity="0.61" stroke-width="0.91" fill="none"/>
<path d="M575.01 280.55 C569.92 289.53 578.97 300.54 579.47 301.83" stroke="#b82a18" stroke-opacity="0.52" stroke-width="1.05" fill="none"/>
<path d="M565.51 303.21 C569.72 312.63 554.72 320.35 559.72 332.28" stroke="#b82a18" stroke-opacity="0.38" stroke-width="0.87" fill="none"/>
<path d="M568.8 300.92 C575.15 288.37 595.87 290.32 605.55 282.81" stroke="#b82a18" stroke-opacity="0.56" stroke-width="0.8" fill="none"/>
<path d="M530.22 299.61 C529.72 284.46 547.66 280.46 548.06 269.64" stroke="#b82a18" stroke-opacity="0.37" stroke-width="0.92" fill="none"/>
<path d="M602.67 322.22 C588.28 310.56 589.8 297.71 576.58 288.45" stroke="#b82a18" stroke-opacity="0.36" stroke-width="1.02" fill="none"/>
<path d="M584.72 275.31 C601.16 281.22 610.16 278.3 615.28 288.22" stroke="#b82a18" stroke-opacity="0.53" stroke-width="0.61" fill="none"/>
<path d="M554.35 283.06 C552.12 286.14 551.17 288.86 540.95 286.16" stroke="#b82a18" stroke-opacity="0.33" stroke-width="1.02" fill="none"/>
<path d="M571.55 326.11 C569.43 321.78 568.38 327.16 556.48 326.87" stroke="#b82a18" stroke-opacity="0.66" stroke-width="0.8" fill="none"/>
<path d="M553.91 311.13 C548.33 300.59 552.05 288.48 546.54 282.58" stroke="#b82a18" stroke-opacity="0.36" stroke-width="0.79" fill="none"/>
<path d="M580.93 278.55 C575.49 298.35 573.86 304.74 574.34 327.02" stroke="#b82a18" stroke-opacity="0.49" stroke-width="1.02" fill="none"/>
<path d="M590.64 277.53 C587 268.59 584.16 250.6 580.37 243.45" stroke="#b82a18" stroke-opacity="0.58" stroke-width="0.58" fill="none"/>
<path d="M552.56 321.48 C546.06 317.07 532.07 313.59 523.97 308.42" stroke="#b82a18" stroke-opacity="0.31" stroke-width="0.71" fill="none"/>
<path d="M530.51 329.37 C535.91 327.69 547.83 320.33 561.36 309.21" stroke="#b82a18" stroke-opacity="0.56" stroke-width="0.86" fill="none"/>
<path d="M587.73 289.53 C596.76 284.99 595.16 269.7 604.2 261.37" stroke="#b82a18" stroke-opacity="0.44" stroke-width="0.55" fill="none"/>
<path d="M598.66 312.4 C593.2 307.07 575.12 316.39 566.01 314.49" stroke="#b82a18" stroke-opacity="0.51" stroke-width="0.8" fill="none"/>
<path d="M548.39 287.1 C550.55 285.5 547.06 269.52 536.4 265.21" stroke="#b82a18" stroke-opacity="0.51" stroke-width="0.56" fill="none"/>
<path d="M556.58 278.98 C544.29 276.91 521.53 284.7 508.22 278.49" stroke="#b82a18" stroke-opacity="0.32" stroke-width="1.01" fill="none"/>
<path d="M597.06 278.67 C607 273.97 621.57 271.74 631.9 267.6" stroke="#b82a18" stroke-opacity="0.65" stroke-width="1.04" fill="none"/>
<path d="M553.92 275.38 C558.25 257.53 552.31 257.18 560.47 239.36" stroke="#b82a18" stroke-opacity="0.45" stroke-width="0.78" fill="none"/>
<path d="M606.63 285.57 C604.36 285.36 595.58 282.1 597.15 274.81" stroke="#b82a18" stroke-opacity="0.69" stroke-width="1" fill="none"/>
<path d="M591.73 326.72 C594.03 320.42 589.04 307.9 584.92 294.63" stroke="#b82a18" stroke-opacity="0.37" stroke-width="0.7" fill="none"/>
<path d="M553.82 321.88 C562.23 308.25 550.67 304.55 558.35 299.28" stroke="#b82a18" stroke-opacity="0.33" stroke-width="1.07" fill="none"/>
<path d="M556.53 296.14 C564.88 286.88 569.01 285.71 576.28 270.64" stroke="#b82a18" stroke-opacity="0.41" stroke-width="0.82" fill="none"/>
<path d="M566.3 282.62 C576.74 289.87 572.64 305.11 585.25 307.47" stroke="#b82a18" stroke-opacity="0.36" stroke-width="1.03" fill="none"/>
<path d="M530.98 310.44 C534.27 319.75 538.85 320.77 544.29 327.83" stroke="#b82a18" stroke-opacity="0.46" stroke-width="0.81" fill="none"/>
<path d="M550.18 327.03 C552.92 330.19 557.39 331.05 556.41 342.89" stroke="#b82a18" stroke-opacity="0.57" stroke-width="0.72" fill="none"/>
<path d="M602.87 291.32 C596.09 291.5 590.75 296.57 580.91 301.16" stroke="#b82a18" stroke-opacity="0.58" stroke-width="0.67" fill="none"/>
<path d="M564.51 305.37 C561.13 287.67 554.31 276.62 557.28 269.3" stroke="#b82a18" stroke-opacity="0.37" stroke-width="0.61" fill="none"/>
<path d="M581.25 293.54 C583.47 285.34 587.82 288.56 598.75 282.14" stroke="#b82a18" stroke-opacity="0.53" stroke-width="0.65" fill="none"/>
<path d="M593.34 311.86 C585.1 316.05 566.75 320 561.71 327.07" stroke="#b82a18" stroke-opacity="0.68" stroke-width="0.72" fill="none"/>
<path d="M579.37 279.73 C579.82 263.31 584 247.01 586.11 235.4" stroke="#b82a18" stroke-opacity="0.38" stroke-width="0.58" fill="none"/>
<path d="M583.29 302.76 C603.96 304.63 618.88 287.4 630.04 289.57" stroke="#b82a18" stroke-opacity="0.35" stroke-width="1.09" fill="none"/>
<path d="M598.51 308.58 C590.57 297.18 585.4 292.55 577.63 289.07" stroke="#b82a18" stroke-opacity="0.35" stroke-width="1.02" fill="none"/>
<path d="M574.14 322.83 C567.96 338.23 563.96 346.43 564.89 355.46" stroke="#b82a18" stroke-opacity="0.52" stroke-width="0.7" fill="none"/>
<path d="M533.82 301.52 C515.59 295.07 502.96 301.66 491.18 295.32" stroke="#b82a18" stroke-opacity="0.39" stroke-width="0.88" fill="none"/>
<path d="M529.92 279.39 C521.85 269.17 530.8 258.18 521.91 249.57" stroke="#b82a18" stroke-opacity="0.52" stroke-width="0.75" fill="none"/>
</g><g filter="url(#bl2)">
<circle cx="564.7" cy="279.2" r="3.2" fill="#c83224" fill-opacity="0.5"/>
<circle cx="555.5" cy="285.8" r="3.2" fill="#c83224" fill-opacity="0.5"/>
<circle cx="566" cy="287.5" r="3.2" fill="#c83224" fill-opacity="0.5"/>
<circle cx="553.6" cy="294.1" r="3.2" fill="#c83224" fill-opacity="0.5"/>
<circle cx="560.1" cy="298.9" r="3.2" fill="#c83224" fill-opacity="0.5"/>
<circle cx="581.2" cy="297.6" r="3.2" fill="#c83224" fill-opacity="0.5"/>
<circle cx="537.8" cy="308.8" r="3.2" fill="#c83224" fill-opacity="0.5"/>
<circle cx="600.2" cy="310.1" r="3.2" fill="#c83224" fill-opacity="0.5"/>
<circle cx="557.5" cy="320.6" r="3.2" fill="#c83224" fill-opacity="0.5"/>
<circle cx="562.8" cy="321.3" r="3.2" fill="#c83224" fill-opacity="0.5"/>
<circle cx="591" cy="320" r="3.2" fill="#c83224" fill-opacity="0.5"/>
<circle cx="566.7" cy="291.7" r="3.2" fill="#c83224" fill-opacity="0.5"/>
</g><g filter="url(#bl)">
<circle cx="541.1" cy="294.1" r="1.2" fill="#3a2cf8" fill-opacity="0.9"/>
<circle cx="553.2" cy="307.2" r="0.93" fill="#3a2cf8" fill-opacity="0.9"/>
<circle cx="558.8" cy="314.7" r="1.43" fill="#3a2cf8" fill-opacity="0.9"/>
<circle cx="583.8" cy="302" r="1.25" fill="#3a2cf8" fill-opacity="0.9"/>
<circle cx="586.4" cy="325.2" r="1.11" fill="#3a2cf8" fill-opacity="0.9"/>
<circle cx="595" cy="325.2" r="1.07" fill="#3a2cf8" fill-opacity="0.9"/>
<circle cx="605.5" cy="324.6" r="1.01" fill="#3a2cf8" fill-opacity="0.9"/>
<circle cx="590.4" cy="277.9" r="1.46" fill="#3a2cf8" fill-opacity="0.9"/>
<circle cx="564.7" cy="279.2" r="2.27" fill="#f89090"/>
<circle cx="555.5" cy="285.8" r="2.08" fill="#ffb4b4"/>
<circle cx="566" cy="287.5" r="2.07" fill="#ffe0e8"/>
<circle cx="553.6" cy="294.1" r="2.17" fill="#ff9ca8"/>
<circle cx="560.1" cy="298.9" r="2.29" fill="#ff9ca8"/>
<circle cx="581.2" cy="297.6" r="1.99" fill="#ffa090"/>
<circle cx="537.8" cy="308.8" r="1.91" fill="#ffa890"/>
<circle cx="600.2" cy="310.1" r="2.3" fill="#ffa890"/>
<circle cx="557.5" cy="320.6" r="2.06" fill="#f89090"/>
<circle cx="562.8" cy="321.3" r="2" fill="#ffa890"/>
<circle cx="591" cy="320" r="2.23" fill="#f0a0e0"/>
<circle cx="566.7" cy="291.7" r="1.91" fill="#e03020"/>
</g></g>
<defs>
<clipPath id="ec2"><rect x="527.3" y="334.9" width="81.5" height="54.7"/></clipPath>
</defs>
<g clip-path="url(#ec2)">
<rect x="527.3" y="334.9" width="81.5" height="54.7" fill="#120203"/>
<rect x="527.3" y="334.9" width="81.5" height="54.7" fill="#000" filter="url(#nzr)" opacity="0.35"/>
<g filter="url(#bl)">
<path d="M604.43 339.43 C615.66 348.57 618.06 358.1 634.78 368.67" stroke="#b82a18" stroke-opacity="0.46" stroke-width="0.79" fill="none"/>
<path d="M534.04 358.24 C518.89 351.95 516.52 350.52 507.49 344.71" stroke="#b82a18" stroke-opacity="0.52" stroke-width="0.64" fill="none"/>
<path d="M567.52 338.31 C572.24 335.42 575.9 347.81 580.52 350.11" stroke="#b82a18" stroke-opacity="0.53" stroke-width="1.06" fill="none"/>
<path d="M551.06 358.54 C553.31 355.26 559.86 340.07 569.9 328.33" stroke="#b82a18" stroke-opacity="0.51" stroke-width="0.58" fill="none"/>
<path d="M530.3 367.17 C541.2 377.87 548.83 370.02 552.23 381.54" stroke="#b82a18" stroke-opacity="0.44" stroke-width="0.94" fill="none"/>
<path d="M536.32 357.71 C541.71 367.4 540.36 371.05 543.66 375.22" stroke="#b82a18" stroke-opacity="0.34" stroke-width="0.79" fill="none"/>
<path d="M557.66 368.28 C547.14 367.42 529.29 363.28 517.59 361.41" stroke="#b82a18" stroke-opacity="0.38" stroke-width="0.59" fill="none"/>
<path d="M565.55 346.22 C549.46 334.62 545.22 325.37 527.77 314.68" stroke="#b82a18" stroke-opacity="0.31" stroke-width="0.74" fill="none"/>
<path d="M598.78 358.7 C587.8 365.21 565.85 362.01 554.96 366.93" stroke="#b82a18" stroke-opacity="0.61" stroke-width="0.67" fill="none"/>
<path d="M540.83 385.78 C553.85 384.64 549.96 397.29 562.23 399.71" stroke="#b82a18" stroke-opacity="0.67" stroke-width="0.69" fill="none"/>
<path d="M581.43 345.19 C597.08 339.63 605.61 338.11 614.65 344.85" stroke="#b82a18" stroke-opacity="0.54" stroke-width="0.98" fill="none"/>
<path d="M563.6 364.99 C572.32 361.46 572.04 351.33 578.26 353.09" stroke="#b82a18" stroke-opacity="0.60" stroke-width="0.59" fill="none"/>
<path d="M570.47 336.97 C584.05 340.72 590.62 333.76 611.16 331.51" stroke="#b82a18" stroke-opacity="0.33" stroke-width="0.98" fill="none"/>
<path d="M548.81 339.01 C546.98 337.55 538.94 330.89 544.22 321.85" stroke="#b82a18" stroke-opacity="0.59" stroke-width="0.88" fill="none"/>
<path d="M601.69 365.54 C597.64 363.06 599.33 350.78 607.52 349.68" stroke="#b82a18" stroke-opacity="0.41" stroke-width="0.92" fill="none"/>
<path d="M544.63 352.07 C538.25 346.44 537.38 351.85 527.7 351.5" stroke="#b82a18" stroke-opacity="0.33" stroke-width="0.8" fill="none"/>
<path d="M532.59 347.75 C525.64 337.35 529.72 335.17 523.55 332.22" stroke="#b82a18" stroke-opacity="0.31" stroke-width="0.54" fill="none"/>
<path d="M557.37 386.11 C548.89 390.5 553.19 404.97 540.74 405.69" stroke="#b82a18" stroke-opacity="0.68" stroke-width="0.86" fill="none"/>
<path d="M605.2 349.23 C612.04 358.33 614.06 373.98 611.95 391.68" stroke="#b82a18" stroke-opacity="0.33" stroke-width="0.5" fill="none"/>
<path d="M569.23 365.44 C566.85 354.94 576.92 332.77 576.65 316.19" stroke="#b82a18" stroke-opacity="0.36" stroke-width="0.78" fill="none"/>
<path d="M577.75 375.78 C590.56 379.7 616.51 379.75 626.49 376.9" stroke="#b82a18" stroke-opacity="0.64" stroke-width="0.92" fill="none"/>
<path d="M605.61 360.61 C607.13 349.55 602.48 339.97 607.86 329.39" stroke="#b82a18" stroke-opacity="0.35" stroke-width="0.66" fill="none"/>
<path d="M536.36 356.73 C546.86 352.03 564.77 356.19 578.56 362.38" stroke="#b82a18" stroke-opacity="0.46" stroke-width="1.07" fill="none"/>
<path d="M602.08 387.51 C599.73 399.48 598.3 398.6 593.86 403.93" stroke="#b82a18" stroke-opacity="0.52" stroke-width="1.07" fill="none"/>
<path d="M567.68 343.56 C557.8 351.76 555.28 356.36 555.67 362.56" stroke="#b82a18" stroke-opacity="0.67" stroke-width="0.68" fill="none"/>
<path d="M562.91 354.05 C569.26 351.98 574.06 361.06 584.08 362.62" stroke="#b82a18" stroke-opacity="0.46" stroke-width="0.58" fill="none"/>
<path d="M569.28 358.69 C563.95 354.23 538.27 348.31 532.67 351.71" stroke="#b82a18" stroke-opacity="0.59" stroke-width="0.75" fill="none"/>
<path d="M533.66 379.11 C526.51 378.28 514.27 375.04 499.8 365.85" stroke="#b82a18" stroke-opacity="0.66" stroke-width="0.94" fill="none"/>
<path d="M530.69 339.58 C527.41 359.36 536.01 368.09 532.28 384.08" stroke="#b82a18" stroke-opacity="0.37" stroke-width="0.56" fill="none"/>
<path d="M601.92 339.28 C599.18 334.11 595.26 333.3 586.53 333.53" stroke="#b82a18" stroke-opacity="0.60" stroke-width="1.01" fill="none"/>
<path d="M588.59 366.39 C598.87 371.27 605.91 380.27 619.23 376.82" stroke="#b82a18" stroke-opacity="0.56" stroke-width="1.01" fill="none"/>
<path d="M606.52 383.63 C609.45 384.13 608.4 379.17 607.49 367.1" stroke="#b82a18" stroke-opacity="0.64" stroke-width="0.67" fill="none"/>
<path d="M557.38 374.56 C543.43 390.57 541.52 402.34 531.81 406.94" stroke="#b82a18" stroke-opacity="0.43" stroke-width="0.58" fill="none"/>
<path d="M593.46 372.35 C591.99 376.83 579.91 370.88 572.09 380.14" stroke="#b82a18" stroke-opacity="0.40" stroke-width="0.92" fill="none"/>
<path d="M528.64 381.4 C517.9 379.62 517.91 373.89 505.09 376.02" stroke="#b82a18" stroke-opacity="0.70" stroke-width="0.86" fill="none"/>
<path d="M595.79 365.77 C597.03 357.46 592.94 340.08 599.17 322.63" stroke="#b82a18" stroke-opacity="0.65" stroke-width="1.03" fill="none"/>
<path d="M575.84 367.59 C570.48 362.46 560.61 367.85 554.87 368.58" stroke="#b82a18" stroke-opacity="0.35" stroke-width="0.72" fill="none"/>
<path d="M537.62 379.24 C533.26 372.55 534.54 354.76 527.63 346.5" stroke="#b82a18" stroke-opacity="0.49" stroke-width="0.74" fill="none"/>
<path d="M605.98 356.04 C622.56 350.73 627.93 356.27 642.72 353.85" stroke="#b82a18" stroke-opacity="0.69" stroke-width="0.62" fill="none"/>
<path d="M575.88 375.5 C565.02 377.46 561.49 369.34 554.97 368.47" stroke="#b82a18" stroke-opacity="0.57" stroke-width="0.99" fill="none"/>
<path d="M539.56 363.8 C529.75 357.16 538.6 338.57 528.43 326.48" stroke="#b82a18" stroke-opacity="0.30" stroke-width="0.51" fill="none"/>
<path d="M530.84 358.35 C527.52 345.26 536.63 339.64 529.85 330.78" stroke="#b82a18" stroke-opacity="0.40" stroke-width="0.69" fill="none"/>
<path d="M570.92 362.28 C562.46 379.35 560.12 381.68 554.08 399.96" stroke="#b82a18" stroke-opacity="0.64" stroke-width="0.92" fill="none"/>
<path d="M565.91 367.74 C561.68 369.74 548.63 374.18 542.04 377.44" stroke="#b82a18" stroke-opacity="0.44" stroke-width="1.04" fill="none"/>
<path d="M538.71 337.98 C534.76 351.98 529.15 368.38 519.71 380.69" stroke="#b82a18" stroke-opacity="0.39" stroke-width="0.69" fill="none"/>
<path d="M527.89 350.02 C534.15 347.85 539.95 335.04 537.69 332.63" stroke="#b82a18" stroke-opacity="0.46" stroke-width="0.5" fill="none"/>
<path d="M599.6 336.01 C605.35 342.81 604.17 347.54 601.52 350.97" stroke="#b82a18" stroke-opacity="0.56" stroke-width="0.96" fill="none"/>
<path d="M545.88 377.95 C548.29 371.44 562.6 380 563.8 376.31" stroke="#b82a18" stroke-opacity="0.38" stroke-width="1.01" fill="none"/>
</g><g filter="url(#bl2)">
<circle cx="580.8" cy="356.3" r="3.2" fill="#c83224" fill-opacity="0.5"/>
<circle cx="575.9" cy="363.9" r="3.2" fill="#c83224" fill-opacity="0.5"/>
<circle cx="572.6" cy="378.6" r="3.2" fill="#c83224" fill-opacity="0.5"/>
<circle cx="532.5" cy="382.6" r="3.2" fill="#c83224" fill-opacity="0.5"/>
<circle cx="538.5" cy="388.5" r="3.2" fill="#c83224" fill-opacity="0.5"/>
<circle cx="560.1" cy="341.9" r="3.2" fill="#c83224" fill-opacity="0.5"/>
<circle cx="550.3" cy="351" r="3.2" fill="#c83224" fill-opacity="0.5"/>
</g><g filter="url(#bl)">
<circle cx="543.4" cy="352.4" r="0.92" fill="#3a2cf8" fill-opacity="0.9"/>
<circle cx="554.2" cy="357.6" r="1.49" fill="#3a2cf8" fill-opacity="0.9"/>
<circle cx="582.5" cy="352" r="0.95" fill="#3a2cf8" fill-opacity="0.9"/>
<circle cx="601.5" cy="343.2" r="0.99" fill="#3a2cf8" fill-opacity="0.9"/>
<circle cx="529.9" cy="373.8" r="0.94" fill="#3a2cf8" fill-opacity="0.9"/>
<circle cx="534.5" cy="379.3" r="1.3" fill="#3a2cf8" fill-opacity="0.9"/>
<circle cx="542.4" cy="381.3" r="0.95" fill="#3a2cf8" fill-opacity="0.9"/>
<circle cx="540.4" cy="385.9" r="1.27" fill="#3a2cf8" fill-opacity="0.9"/>
<circle cx="553.6" cy="383.2" r="1.08" fill="#3a2cf8" fill-opacity="0.9"/>
<circle cx="567.4" cy="387.8" r="1.41" fill="#3a2cf8" fill-opacity="0.9"/>
<circle cx="607.4" cy="365.5" r="0.9" fill="#3a2cf8" fill-opacity="0.9"/>
<circle cx="607.8" cy="388.8" r="1.07" fill="#3a2cf8" fill-opacity="0.9"/>
<circle cx="576.6" cy="337.9" r="1.43" fill="#3a2cf8" fill-opacity="0.9"/>
<circle cx="580.8" cy="356.3" r="1.82" fill="#ffe0e8"/>
<circle cx="575.9" cy="363.9" r="2.05" fill="#ff9ca8"/>
<circle cx="572.6" cy="378.6" r="1.99" fill="#ffc8e0"/>
<circle cx="532.5" cy="382.6" r="2.2" fill="#ff9ca8"/>
<circle cx="538.5" cy="388.5" r="1.88" fill="#ffb4b4"/>
<circle cx="560.1" cy="341.9" r="2.1" fill="#d03020"/>
<circle cx="550.3" cy="351" r="1.88" fill="#a02818"/>
</g></g>
<text x="124.6" y="450" font-size="10.8" fill="#222" text-anchor="middle">Social interaction</text>
<line x1="72" y1="451.8" x2="166" y2="451.8" stroke="#9a9a9a" stroke-width="1.3"/>
<line x1="66" y1="481" x2="66" y2="619.5" stroke="#111" stroke-width="1.3"/>
<line x1="66" y1="622.5" x2="66" y2="631.6" stroke="#111" stroke-width="1.3"/>
<line x1="56.6" y1="619.5" x2="76.5" y2="619.5" stroke="#111" stroke-width="1.1"/>
<line x1="56.6" y1="622.5" x2="76.5" y2="622.5" stroke="#111" stroke-width="1.1"/>
<line x1="58.4" y1="498.4" x2="66" y2="498.4" stroke="#111" stroke-width="1.3"/>
<text x="55" y="502.1" font-size="10.6" fill="#222" text-anchor="end">360</text>
<line x1="58.4" y1="533.6" x2="66" y2="533.6" stroke="#111" stroke-width="1.3"/>
<text x="55" y="537.3" font-size="10.6" fill="#222" text-anchor="end">300</text>
<line x1="58.4" y1="569" x2="66" y2="569" stroke="#111" stroke-width="1.3"/>
<text x="55" y="572.7" font-size="10.6" fill="#222" text-anchor="end">240</text>
<line x1="58.4" y1="604" x2="66" y2="604" stroke="#111" stroke-width="1.3"/>
<text x="55" y="607.7" font-size="10.6" fill="#222" text-anchor="end">180</text>
<line x1="58.4" y1="631.6" x2="66" y2="631.6" stroke="#111" stroke-width="1.3"/>
<text x="55" y="635.3" font-size="10.6" fill="#222" text-anchor="end">0</text>
<line x1="62" y1="481" x2="66" y2="481" stroke="#111" stroke-width="1.3"/>
<line x1="62" y1="516" x2="66" y2="516" stroke="#111" stroke-width="1.3"/>
<line x1="62" y1="551" x2="66" y2="551" stroke="#111" stroke-width="1.3"/>
<line x1="62" y1="587" x2="66" y2="587" stroke="#111" stroke-width="1.3"/>
<line x1="72.3" y1="633" x2="177.7" y2="633" stroke="#111" stroke-width="1.3"/>
<line x1="87.7" y1="633" x2="87.7" y2="638" stroke="#111" stroke-width="1.3"/>
<text x="87.7" y="647.6" font-size="10.6" fill="#222" text-anchor="middle">CON1</text>
<line x1="124.2" y1="633" x2="124.2" y2="638" stroke="#111" stroke-width="1.3"/>
<text x="124.2" y="647.6" font-size="10.6" fill="#222" text-anchor="middle">P11G7</text>
<line x1="162.2" y1="633" x2="162.2" y2="638" stroke="#111" stroke-width="1.3"/>
<text x="162.2" y="647.6" font-size="10.6" fill="#222" text-anchor="middle">P9C7</text>
<text transform="translate(32.6 557.5) rotate(-90)" font-size="10.8" fill="#222" text-anchor="middle">Body contact time (s)</text>
<polyline points="77,498 77,469.6 153.6,469.6 153.6,518" fill="none" stroke="#ababab" stroke-width="1.3"/>
<polyline points="80,498 80,479.6 116,479.6 116,508.6" fill="none" stroke="#ababab" stroke-width="1.3"/>
<path d="M111.4 459.5L111.4 465.7M108.72 461.05L114.08 464.15M114.08 461.05L108.72 464.15" stroke="#2a2a2a" stroke-width="1.45" stroke-linecap="butt"/>
<path d="M119.6 459.5L119.6 465.7M116.92 461.05L122.28 464.15M122.28 461.05L116.92 464.15" stroke="#2a2a2a" stroke-width="1.45" stroke-linecap="butt"/>
<text x="98" y="475" font-size="10.6" fill="#888" font-style="italic" text-anchor="middle">ns</text>
<line x1="79" y1="505" x2="79" y2="525.4" stroke="#111" stroke-width="1.3"/>
<line x1="79" y1="553" x2="79" y2="557.4" stroke="#111" stroke-width="1.3"/>
<line x1="72.4" y1="505" x2="85.6" y2="505" stroke="#111" stroke-width="1.4"/>
<line x1="72.4" y1="557.4" x2="85.6" y2="557.4" stroke="#111" stroke-width="1.4"/>
<rect x="72.4" y="525.4" width="13.2" height="27.6" fill="#c9c9c9" stroke="#111" stroke-width="1.3"/>
<line x1="72.4" y1="544.4" x2="85.6" y2="544.4" stroke="#111" stroke-width="1.4"/>
<rect x="77.2" y="537" width="3.2" height="3.2" fill="#c9c9c9" stroke="#111" stroke-width="1.1"/>
<line x1="116.2" y1="516.6" x2="116.2" y2="530.4" stroke="#111" stroke-width="1.3"/>
<line x1="116.2" y1="568" x2="116.2" y2="584" stroke="#111" stroke-width="1.3"/>
<line x1="109.4" y1="516.6" x2="123" y2="516.6" stroke="#111" stroke-width="1.4"/>
<line x1="109.4" y1="584" x2="123" y2="584" stroke="#111" stroke-width="1.4"/>
<rect x="109.4" y="530.4" width="13.6" height="37.6" fill="#f7fccf" stroke="#111" stroke-width="1.3"/>
<line x1="109.4" y1="540.4" x2="123" y2="540.4" stroke="#111" stroke-width="1.4"/>
<rect x="114.4" y="546" width="3.2" height="3.2" fill="#f7fccf" stroke="#111" stroke-width="1.1"/>
<line x1="153.9" y1="524.3" x2="153.9" y2="550.4" stroke="#111" stroke-width="1.3"/>
<line x1="153.9" y1="581" x2="153.9" y2="587.2" stroke="#111" stroke-width="1.3"/>
<line x1="147.4" y1="524.3" x2="160.4" y2="524.3" stroke="#111" stroke-width="1.4"/>
<line x1="147.4" y1="587.2" x2="160.4" y2="587.2" stroke="#111" stroke-width="1.4"/>
<rect x="147.4" y="550.4" width="13" height="30.6" fill="#e1b1f9" stroke="#111" stroke-width="1.3"/>
<line x1="147.4" y1="570.8" x2="160.4" y2="570.8" stroke="#111" stroke-width="1.4"/>
<rect x="152.2" y="561.9" width="3.2" height="3.2" fill="#e1b1f9" stroke="#111" stroke-width="1.1"/>
<circle cx="96.3" cy="485.5" r="1.65" fill="#c9c9c9" stroke="#111" stroke-width="1.15"/>
<circle cx="95.8" cy="504" r="1.65" fill="#c9c9c9" stroke="#111" stroke-width="1.15"/>
<circle cx="97" cy="505.2" r="1.65" fill="#c9c9c9" stroke="#111" stroke-width="1.15"/>
<circle cx="96.9" cy="513" r="1.65" fill="#c9c9c9" stroke="#111" stroke-width="1.15"/>
<circle cx="95.8" cy="517.9" r="1.65" fill="#c9c9c9" stroke="#111" stroke-width="1.15"/>
<circle cx="97.9" cy="523.3" r="1.65" fill="#c9c9c9" stroke="#111" stroke-width="1.15"/>
<circle cx="99.5" cy="525.2" r="1.65" fill="#c9c9c9" stroke="#111" stroke-width="1.15"/>
<circle cx="93" cy="528.6" r="1.65" fill="#c9c9c9" stroke="#111" stroke-width="1.15"/>
<circle cx="94.2" cy="531.6" r="1.65" fill="#c9c9c9" stroke="#111" stroke-width="1.15"/>
<circle cx="96.1" cy="531.9" r="1.65" fill="#c9c9c9" stroke="#111" stroke-width="1.15"/>
<circle cx="97.9" cy="540.9" r="1.65" fill="#c9c9c9" stroke="#111" stroke-width="1.15"/>
<circle cx="99.5" cy="540.9" r="1.65" fill="#c9c9c9" stroke="#111" stroke-width="1.15"/>
<circle cx="93.6" cy="544" r="1.65" fill="#c9c9c9" stroke="#111" stroke-width="1.15"/>
<circle cx="96.1" cy="545" r="1.65" fill="#c9c9c9" stroke="#111" stroke-width="1.15"/>
<circle cx="90.5" cy="547.6" r="1.65" fill="#c9c9c9" stroke="#111" stroke-width="1.15"/>
<circle cx="92.4" cy="549.8" r="1.65" fill="#c9c9c9" stroke="#111" stroke-width="1.15"/>
<circle cx="95.5" cy="552.5" r="1.65" fill="#c9c9c9" stroke="#111" stroke-width="1.15"/>
<circle cx="97.3" cy="553.8" r="1.65" fill="#c9c9c9" stroke="#111" stroke-width="1.15"/>
<circle cx="99.1" cy="552.5" r="1.65" fill="#c9c9c9" stroke="#111" stroke-width="1.15"/>
<circle cx="101.6" cy="553.5" r="1.65" fill="#c9c9c9" stroke="#111" stroke-width="1.15"/>
<circle cx="96.1" cy="557.5" r="1.65" fill="#c9c9c9" stroke="#111" stroke-width="1.15"/>
<circle cx="96.9" cy="565.8" r="1.65" fill="#c9c9c9" stroke="#111" stroke-width="1.15"/>
<circle cx="96.3" cy="574.7" r="1.65" fill="#c9c9c9" stroke="#111" stroke-width="1.15"/>
<circle cx="133.6" cy="516.6" r="1.65" fill="#f7fccf" stroke="#111" stroke-width="1.15"/>
<circle cx="133.6" cy="526.1" r="1.65" fill="#f7fccf" stroke="#111" stroke-width="1.15"/>
<circle cx="137.9" cy="535.1" r="1.65" fill="#f7fccf" stroke="#111" stroke-width="1.15"/>
<circle cx="128.9" cy="537.5" r="1.65" fill="#f7fccf" stroke="#111" stroke-width="1.15"/>
<circle cx="133.6" cy="544" r="1.65" fill="#f7fccf" stroke="#111" stroke-width="1.15"/>
<circle cx="133.6" cy="557.2" r="1.65" fill="#f7fccf" stroke="#111" stroke-width="1.15"/>
<circle cx="133.6" cy="579" r="1.65" fill="#f7fccf" stroke="#111" stroke-width="1.15"/>
<circle cx="133.6" cy="583.9" r="1.65" fill="#f7fccf" stroke="#111" stroke-width="1.15"/>
<circle cx="171.2" cy="492.8" r="1.65" fill="#e1b1f9" stroke="#111" stroke-width="1.15"/>
<circle cx="171.2" cy="504.4" r="1.65" fill="#e1b1f9" stroke="#111" stroke-width="1.15"/>
<circle cx="171.2" cy="524.7" r="1.65" fill="#e1b1f9" stroke="#111" stroke-width="1.15"/>
<circle cx="169.8" cy="547.6" r="1.65" fill="#e1b1f9" stroke="#111" stroke-width="1.15"/>
<circle cx="173.4" cy="549.7" r="1.65" fill="#e1b1f9" stroke="#111" stroke-width="1.15"/>
<circle cx="172.7" cy="557" r="1.65" fill="#e1b1f9" stroke="#111" stroke-width="1.15"/>
<circle cx="170.5" cy="559.6" r="1.65" fill="#e1b1f9" stroke="#111" stroke-width="1.15"/>
<circle cx="167.6" cy="567.9" r="1.65" fill="#e1b1f9" stroke="#111" stroke-width="1.15"/>
<circle cx="166.2" cy="571.5" r="1.65" fill="#e1b1f9" stroke="#111" stroke-width="1.15"/>
<circle cx="174.9" cy="567.9" r="1.65" fill="#e1b1f9" stroke="#111" stroke-width="1.15"/>
<circle cx="174.1" cy="573" r="1.65" fill="#e1b1f9" stroke="#111" stroke-width="1.15"/>
<circle cx="177" cy="575.2" r="1.65" fill="#e1b1f9" stroke="#111" stroke-width="1.15"/>
<circle cx="170.5" cy="576.6" r="1.65" fill="#e1b1f9" stroke="#111" stroke-width="1.15"/>
<circle cx="167.6" cy="581" r="1.65" fill="#e1b1f9" stroke="#111" stroke-width="1.15"/>
<circle cx="169.8" cy="582.4" r="1.65" fill="#e1b1f9" stroke="#111" stroke-width="1.15"/>
<circle cx="172.7" cy="584.6" r="1.65" fill="#e1b1f9" stroke="#111" stroke-width="1.15"/>
<circle cx="174.9" cy="587.2" r="1.65" fill="#e1b1f9" stroke="#111" stroke-width="1.15"/>
<circle cx="171.2" cy="596" r="1.65" fill="#e1b1f9" stroke="#111" stroke-width="1.15"/>
<circle cx="171.2" cy="606.4" r="1.65" fill="#e1b1f9" stroke="#111" stroke-width="1.15"/>
<text x="285" y="450" font-size="10.8" fill="#222" text-anchor="middle">Open field task</text>
<line x1="233" y1="451.8" x2="339" y2="451.8" stroke="#9a9a9a" stroke-width="1.3"/>
<line x1="226.5" y1="483.6" x2="226.5" y2="623.6" stroke="#111" stroke-width="1.3"/>
<line x1="218.9" y1="483.6" x2="226.5" y2="483.6" stroke="#111" stroke-width="1.3"/>
<text x="215.5" y="487.3" font-size="10.6" fill="#222" text-anchor="end">240</text>
<line x1="218.9" y1="518.6" x2="226.5" y2="518.6" stroke="#111" stroke-width="1.3"/>
<text x="215.5" y="522.3" font-size="10.6" fill="#222" text-anchor="end">180</text>
<line x1="218.9" y1="553.6" x2="226.5" y2="553.6" stroke="#111" stroke-width="1.3"/>
<text x="215.5" y="557.3" font-size="10.6" fill="#222" text-anchor="end">120</text>
<line x1="218.9" y1="588.6" x2="226.5" y2="588.6" stroke="#111" stroke-width="1.3"/>
<text x="215.5" y="592.3" font-size="10.6" fill="#222" text-anchor="end">60</text>
<line x1="218.9" y1="623.6" x2="226.5" y2="623.6" stroke="#111" stroke-width="1.3"/>
<text x="215.5" y="627.3" font-size="10.6" fill="#222" text-anchor="end">0</text>
<line x1="222.5" y1="501.1" x2="226.5" y2="501.1" stroke="#111" stroke-width="1.3"/>
<line x1="222.5" y1="536.1" x2="226.5" y2="536.1" stroke="#111" stroke-width="1.3"/>
<line x1="222.5" y1="571.1" x2="226.5" y2="571.1" stroke="#111" stroke-width="1.3"/>
<line x1="222.5" y1="606.1" x2="226.5" y2="606.1" stroke="#111" stroke-width="1.3"/>
<line x1="233" y1="633" x2="338" y2="633" stroke="#111" stroke-width="1.3"/>
<line x1="248.3" y1="633" x2="248.3" y2="638" stroke="#111" stroke-width="1.3"/>
<text x="248.3" y="647.6" font-size="10.6" fill="#222" text-anchor="middle">CON1</text>
<line x1="284.8" y1="633" x2="284.8" y2="638" stroke="#111" stroke-width="1.3"/>
<text x="284.8" y="647.6" font-size="10.6" fill="#222" text-anchor="middle">P11G7</text>
<line x1="322.8" y1="633" x2="322.8" y2="638" stroke="#111" stroke-width="1.3"/>
<text x="322.8" y="647.6" font-size="10.6" fill="#222" text-anchor="middle">P9C7</text>
<text transform="translate(193 555.2) rotate(-90)" font-size="10.8" fill="#222" text-anchor="middle">Time in center of chamber (s)</text>
<polyline points="237.6,512 237.6,479 314.4,479 314.4,539" fill="none" stroke="#ababab" stroke-width="1.3"/>
<polyline points="240.6,512 240.6,492.4 277.6,492.4 277.6,509" fill="none" stroke="#ababab" stroke-width="1.3"/>
<path d="M276 470.1L276 476.3M273.32 471.65L278.68 474.75M278.68 471.65L273.32 474.75" stroke="#2a2a2a" stroke-width="1.45" stroke-linecap="butt"/>
<text x="259" y="489.6" font-size="10.6" fill="#888" font-style="italic" text-anchor="middle">ns</text>
<line x1="239.1" y1="518.6" x2="239.1" y2="537.4" stroke="#111" stroke-width="1.3"/>
<line x1="239.1" y1="562" x2="239.1" y2="568" stroke="#111" stroke-width="1.3"/>
<line x1="232.6" y1="518.6" x2="245.6" y2="518.6" stroke="#111" stroke-width="1.4"/>
<line x1="232.6" y1="568" x2="245.6" y2="568" stroke="#111" stroke-width="1.4"/>
<rect x="232.6" y="537.4" width="13" height="24.6" fill="#c9c9c9" stroke="#111" stroke-width="1.3"/>
<line x1="232.6" y1="556.4" x2="245.6" y2="556.4" stroke="#111" stroke-width="1.4"/>
<rect x="237.8" y="548" width="3.2" height="3.2" fill="#c9c9c9" stroke="#111" stroke-width="1.1"/>
<line x1="277.15" y1="515" x2="277.15" y2="529.6" stroke="#111" stroke-width="1.3"/>
<line x1="277.15" y1="551.1" x2="277.15" y2="569.7" stroke="#111" stroke-width="1.3"/>
<line x1="270.6" y1="515" x2="283.7" y2="515" stroke="#111" stroke-width="1.4"/>
<line x1="270.6" y1="569.7" x2="283.7" y2="569.7" stroke="#111" stroke-width="1.4"/>
<rect x="270.6" y="529.6" width="13.1" height="21.5" fill="#f7fccf" stroke="#111" stroke-width="1.3"/>
<line x1="270.6" y1="537.6" x2="283.7" y2="537.6" stroke="#111" stroke-width="1.4"/>
<rect x="275.6" y="538.6" width="3.2" height="3.2" fill="#f7fccf" stroke="#111" stroke-width="1.1"/>
<line x1="314.3" y1="551.3" x2="314.3" y2="551.3" stroke="#111" stroke-width="1.3"/>
<line x1="314.3" y1="579.5" x2="314.3" y2="584.4" stroke="#111" stroke-width="1.3"/>
<line x1="307.6" y1="551.3" x2="321" y2="551.3" stroke="#111" stroke-width="1.4"/>
<line x1="307.6" y1="584.4" x2="321" y2="584.4" stroke="#111" stroke-width="1.4"/>
<rect x="307.6" y="551.3" width="13.4" height="28.2" fill="#e1b1f9" stroke="#111" stroke-width="1.3"/>
<line x1="307.6" y1="565.6" x2="321" y2="565.6" stroke="#111" stroke-width="1.4"/>
<rect x="312.5" y="565.4" width="3.2" height="3.2" fill="#e1b1f9" stroke="#111" stroke-width="1.1"/>
<circle cx="256.1" cy="498" r="1.65" fill="#c9c9c9" stroke="#111" stroke-width="1.15"/>
<circle cx="256.7" cy="505" r="1.65" fill="#c9c9c9" stroke="#111" stroke-width="1.15"/>
<circle cx="256.9" cy="510" r="1.65" fill="#c9c9c9" stroke="#111" stroke-width="1.15"/>
<circle cx="256.1" cy="518.5" r="1.65" fill="#c9c9c9" stroke="#111" stroke-width="1.15"/>
<circle cx="257" cy="522.2" r="1.65" fill="#c9c9c9" stroke="#111" stroke-width="1.15"/>
<circle cx="258.3" cy="531" r="1.65" fill="#c9c9c9" stroke="#111" stroke-width="1.15"/>
<circle cx="254.2" cy="537" r="1.65" fill="#c9c9c9" stroke="#111" stroke-width="1.15"/>
<circle cx="256.3" cy="536.7" r="1.65" fill="#c9c9c9" stroke="#111" stroke-width="1.15"/>
<circle cx="259.8" cy="540.8" r="1.65" fill="#c9c9c9" stroke="#111" stroke-width="1.15"/>
<circle cx="255.5" cy="542.3" r="1.65" fill="#c9c9c9" stroke="#111" stroke-width="1.15"/>
<circle cx="257.3" cy="546.8" r="1.65" fill="#c9c9c9" stroke="#111" stroke-width="1.15"/>
<circle cx="254.2" cy="552.7" r="1.65" fill="#c9c9c9" stroke="#111" stroke-width="1.15"/>
<circle cx="257.3" cy="552.7" r="1.65" fill="#c9c9c9" stroke="#111" stroke-width="1.15"/>
<circle cx="259.8" cy="553.3" r="1.65" fill="#c9c9c9" stroke="#111" stroke-width="1.15"/>
<circle cx="262.8" cy="554" r="1.65" fill="#c9c9c9" stroke="#111" stroke-width="1.15"/>
<circle cx="256.7" cy="557" r="1.65" fill="#c9c9c9" stroke="#111" stroke-width="1.15"/>
<circle cx="261.6" cy="556.4" r="1.65" fill="#c9c9c9" stroke="#111" stroke-width="1.15"/>
<circle cx="252.4" cy="559.5" r="1.65" fill="#c9c9c9" stroke="#111" stroke-width="1.15"/>
<circle cx="250.5" cy="562" r="1.65" fill="#c9c9c9" stroke="#111" stroke-width="1.15"/>
<circle cx="254.2" cy="561.3" r="1.65" fill="#c9c9c9" stroke="#111" stroke-width="1.15"/>
<circle cx="261" cy="560" r="1.65" fill="#c9c9c9" stroke="#111" stroke-width="1.15"/>
<circle cx="252.4" cy="564.4" r="1.65" fill="#c9c9c9" stroke="#111" stroke-width="1.15"/>
<circle cx="254.2" cy="568" r="1.65" fill="#c9c9c9" stroke="#111" stroke-width="1.15"/>
<circle cx="256.7" cy="566.2" r="1.65" fill="#c9c9c9" stroke="#111" stroke-width="1.15"/>
<circle cx="259.5" cy="567.2" r="1.65" fill="#c9c9c9" stroke="#111" stroke-width="1.15"/>
<circle cx="257.9" cy="577" r="1.65" fill="#c9c9c9" stroke="#111" stroke-width="1.15"/>
<circle cx="256.7" cy="589.8" r="1.65" fill="#c9c9c9" stroke="#111" stroke-width="1.15"/>
<circle cx="294.8" cy="515" r="1.65" fill="#f7fccf" stroke="#111" stroke-width="1.15"/>
<circle cx="291.5" cy="529.7" r="1.65" fill="#f7fccf" stroke="#111" stroke-width="1.15"/>
<circle cx="298.1" cy="529.1" r="1.65" fill="#f7fccf" stroke="#111" stroke-width="1.15"/>
<circle cx="291.5" cy="534.3" r="1.65" fill="#f7fccf" stroke="#111" stroke-width="1.15"/>
<circle cx="298.1" cy="541.4" r="1.65" fill="#f7fccf" stroke="#111" stroke-width="1.15"/>
<circle cx="294.6" cy="545.3" r="1.65" fill="#f7fccf" stroke="#111" stroke-width="1.15"/>
<circle cx="294.8" cy="557.4" r="1.65" fill="#f7fccf" stroke="#111" stroke-width="1.15"/>
<circle cx="294.8" cy="569.7" r="1.65" fill="#f7fccf" stroke="#111" stroke-width="1.15"/>
<circle cx="331.8" cy="537.7" r="1.65" fill="#e1b1f9" stroke="#111" stroke-width="1.15"/>
<circle cx="331.8" cy="549.1" r="1.65" fill="#e1b1f9" stroke="#111" stroke-width="1.15"/>
<circle cx="325.9" cy="554" r="1.65" fill="#e1b1f9" stroke="#111" stroke-width="1.15"/>
<circle cx="330" cy="553.5" r="1.65" fill="#e1b1f9" stroke="#111" stroke-width="1.15"/>
<circle cx="332.2" cy="554.4" r="1.65" fill="#e1b1f9" stroke="#111" stroke-width="1.15"/>
<circle cx="334" cy="551.8" r="1.65" fill="#e1b1f9" stroke="#111" stroke-width="1.15"/>
<circle cx="338" cy="553.5" r="1.65" fill="#e1b1f9" stroke="#111" stroke-width="1.15"/>
<circle cx="328.2" cy="560.2" r="1.65" fill="#e1b1f9" stroke="#111" stroke-width="1.15"/>
<circle cx="330" cy="559.2" r="1.65" fill="#e1b1f9" stroke="#111" stroke-width="1.15"/>
<circle cx="331.8" cy="566.3" r="1.65" fill="#e1b1f9" stroke="#111" stroke-width="1.15"/>
<circle cx="334" cy="564.5" r="1.65" fill="#e1b1f9" stroke="#111" stroke-width="1.15"/>
<circle cx="335.8" cy="563.6" r="1.65" fill="#e1b1f9" stroke="#111" stroke-width="1.15"/>
<circle cx="327.7" cy="571.9" r="1.65" fill="#e1b1f9" stroke="#111" stroke-width="1.15"/>
<circle cx="330" cy="573.5" r="1.65" fill="#e1b1f9" stroke="#111" stroke-width="1.15"/>
<circle cx="334" cy="571.9" r="1.65" fill="#e1b1f9" stroke="#111" stroke-width="1.15"/>
<circle cx="335.8" cy="574.1" r="1.65" fill="#e1b1f9" stroke="#111" stroke-width="1.15"/>
<circle cx="330.9" cy="580.8" r="1.65" fill="#e1b1f9" stroke="#111" stroke-width="1.15"/>
<circle cx="334.4" cy="579.5" r="1.65" fill="#e1b1f9" stroke="#111" stroke-width="1.15"/>
<circle cx="328.6" cy="584.4" r="1.65" fill="#e1b1f9" stroke="#111" stroke-width="1.15"/>
<circle cx="330.9" cy="589.3" r="1.65" fill="#e1b1f9" stroke="#111" stroke-width="1.15"/>
<circle cx="332.6" cy="595.1" r="1.65" fill="#e1b1f9" stroke="#111" stroke-width="1.15"/>
<text x="449.5" y="450" font-size="10.8" fill="#222" text-anchor="middle">Light-dark – Time</text>
<line x1="397" y1="451.8" x2="491" y2="451.8" stroke="#9a9a9a" stroke-width="1.3"/>
<line x1="391" y1="481.6" x2="391" y2="619" stroke="#111" stroke-width="1.3"/>
<line x1="391" y1="622" x2="391" y2="631.3" stroke="#111" stroke-width="1.3"/>
<line x1="381.5" y1="619" x2="401" y2="619" stroke="#111" stroke-width="1.1"/>
<line x1="381.5" y1="622" x2="401" y2="622" stroke="#111" stroke-width="1.1"/>
<line x1="383.4" y1="481.6" x2="391" y2="481.6" stroke="#111" stroke-width="1.3"/>
<text x="378.8" y="485.3" font-size="10.6" fill="#222" text-anchor="end">160</text>
<line x1="383.4" y1="528" x2="391" y2="528" stroke="#111" stroke-width="1.3"/>
<text x="378.8" y="531.7" font-size="10.6" fill="#222" text-anchor="end">120</text>
<line x1="383.4" y1="573.6" x2="391" y2="573.6" stroke="#111" stroke-width="1.3"/>
<text x="378.8" y="577.3" font-size="10.6" fill="#222" text-anchor="end">80</text>
<line x1="383.4" y1="631.3" x2="391" y2="631.3" stroke="#111" stroke-width="1.3"/>
<text x="378.8" y="635" font-size="10.6" fill="#222" text-anchor="end">0</text>
<line x1="387" y1="505" x2="391" y2="505" stroke="#111" stroke-width="1.3"/>
<line x1="387" y1="551" x2="391" y2="551" stroke="#111" stroke-width="1.3"/>
<line x1="387" y1="596.4" x2="391" y2="596.4" stroke="#111" stroke-width="1.3"/>
<line x1="398" y1="633" x2="502" y2="633" stroke="#111" stroke-width="1.3"/>
<line x1="412.7" y1="633" x2="412.7" y2="638" stroke="#111" stroke-width="1.3"/>
<text x="412.7" y="647.6" font-size="10.6" fill="#222" text-anchor="middle">CON1</text>
<line x1="449.2" y1="633" x2="449.2" y2="638" stroke="#111" stroke-width="1.3"/>
<text x="449.2" y="647.6" font-size="10.6" fill="#222" text-anchor="middle">P11G7</text>
<line x1="487.2" y1="633" x2="487.2" y2="638" stroke="#111" stroke-width="1.3"/>
<text x="487.2" y="647.6" font-size="10.6" fill="#222" text-anchor="middle">P9C7</text>
<text transform="translate(357.7 557.3) rotate(-90)" font-size="10.8" fill="#222" text-anchor="middle">Time in lighted sector (s)</text>
<polyline points="403,511 403,479 479,479 479,491" fill="none" stroke="#ababab" stroke-width="1.3"/>
<polyline points="405.6,511 405.6,492 441,492 441,508" fill="none" stroke="#ababab" stroke-width="1.3"/>
<text x="441" y="476.6" font-size="10.6" fill="#888" font-style="italic" text-anchor="middle">ns</text>
<text x="423.3" y="489.6" font-size="10.6" fill="#888" font-style="italic" text-anchor="middle">ns</text>
<line x1="404.2" y1="515.6" x2="404.2" y2="518.6" stroke="#111" stroke-width="1.3"/>
<line x1="404.2" y1="564" x2="404.2" y2="579.6" stroke="#111" stroke-width="1.3"/>
<line x1="397.4" y1="515.6" x2="411" y2="515.6" stroke="#111" stroke-width="1.4"/>
<line x1="397.4" y1="579.6" x2="411" y2="579.6" stroke="#111" stroke-width="1.4"/>
<rect x="397.4" y="518.6" width="13.6" height="45.4" fill="#c9c9c9" stroke="#111" stroke-width="1.3"/>
<line x1="397.4" y1="535" x2="411" y2="535" stroke="#111" stroke-width="1.4"/>
<rect x="402.6" y="541.6" width="3.2" height="3.2" fill="#c9c9c9" stroke="#111" stroke-width="1.1"/>
<line x1="440.9" y1="512.6" x2="440.9" y2="543" stroke="#111" stroke-width="1.3"/>
<line x1="440.9" y1="582.4" x2="440.9" y2="589" stroke="#111" stroke-width="1.3"/>
<line x1="434.4" y1="512.6" x2="447.4" y2="512.6" stroke="#111" stroke-width="1.4"/>
<line x1="434.4" y1="589" x2="447.4" y2="589" stroke="#111" stroke-width="1.4"/>
<rect x="434.4" y="543" width="13" height="39.4" fill="#f7fccf" stroke="#111" stroke-width="1.3"/>
<line x1="434.4" y1="568.6" x2="447.4" y2="568.6" stroke="#111" stroke-width="1.4"/>
<rect x="439.4" y="559.8" width="3.2" height="3.2" fill="#f7fccf" stroke="#111" stroke-width="1.1"/>
<line x1="479.2" y1="495.6" x2="479.2" y2="506.4" stroke="#111" stroke-width="1.3"/>
<line x1="479.2" y1="547.4" x2="479.2" y2="566.4" stroke="#111" stroke-width="1.3"/>
<line x1="472.4" y1="495.6" x2="486" y2="495.6" stroke="#111" stroke-width="1.4"/>
<line x1="472.4" y1="566.4" x2="486" y2="566.4" stroke="#111" stroke-width="1.4"/>
<rect x="472.4" y="506.4" width="13.6" height="41" fill="#e1b1f9" stroke="#111" stroke-width="1.3"/>
<line x1="472.4" y1="523.4" x2="486" y2="523.4" stroke="#111" stroke-width="1.4"/>
<rect x="477.4" y="525.4" width="3.2" height="3.2" fill="#e1b1f9" stroke="#111" stroke-width="1.1"/>
<circle cx="417" cy="518.4" r="1.65" fill="#c9c9c9" stroke="#111" stroke-width="1.15"/>
<circle cx="423.6" cy="516.4" r="1.65" fill="#c9c9c9" stroke="#111" stroke-width="1.15"/>
<circle cx="426.6" cy="514" r="1.65" fill="#c9c9c9" stroke="#111" stroke-width="1.15"/>
<circle cx="420" cy="525.6" r="1.65" fill="#c9c9c9" stroke="#111" stroke-width="1.15"/>
<circle cx="420" cy="529.4" r="1.65" fill="#c9c9c9" stroke="#111" stroke-width="1.15"/>
<circle cx="423.6" cy="540" r="1.65" fill="#c9c9c9" stroke="#111" stroke-width="1.15"/>
<circle cx="420" cy="561.6" r="1.65" fill="#c9c9c9" stroke="#111" stroke-width="1.15"/>
<circle cx="423" cy="563.6" r="1.65" fill="#c9c9c9" stroke="#111" stroke-width="1.15"/>
<circle cx="420" cy="580.4" r="1.65" fill="#c9c9c9" stroke="#111" stroke-width="1.15"/>
<circle cx="423" cy="579" r="1.65" fill="#c9c9c9" stroke="#111" stroke-width="1.15"/>
<circle cx="458.6" cy="512.6" r="1.65" fill="#f7fccf" stroke="#111" stroke-width="1.15"/>
<circle cx="458.6" cy="533.6" r="1.65" fill="#f7fccf" stroke="#111" stroke-width="1.15"/>
<circle cx="456.6" cy="551" r="1.65" fill="#f7fccf" stroke="#111" stroke-width="1.15"/>
<circle cx="460" cy="560.4" r="1.65" fill="#f7fccf" stroke="#111" stroke-width="1.15"/>
<circle cx="453.6" cy="579.6" r="1.65" fill="#f7fccf" stroke="#111" stroke-width="1.15"/>
<circle cx="463" cy="577" r="1.65" fill="#f7fccf" stroke="#111" stroke-width="1.15"/>
<circle cx="460" cy="584.4" r="1.65" fill="#f7fccf" stroke="#111" stroke-width="1.15"/>
<circle cx="456.6" cy="589" r="1.65" fill="#f7fccf" stroke="#111" stroke-width="1.15"/>
<circle cx="496.4" cy="481.6" r="1.65" fill="#e1b1f9" stroke="#111" stroke-width="1.15"/>
<circle cx="495" cy="495.6" r="1.65" fill="#e1b1f9" stroke="#111" stroke-width="1.15"/>
<circle cx="498.4" cy="499.6" r="1.65" fill="#e1b1f9" stroke="#111" stroke-width="1.15"/>
<circle cx="492" cy="512.6" r="1.65" fill="#e1b1f9" stroke="#111" stroke-width="1.15"/>
<circle cx="502" cy="512.6" r="1.65" fill="#e1b1f9" stroke="#111" stroke-width="1.15"/>
<circle cx="498.4" cy="519.4" r="1.65" fill="#e1b1f9" stroke="#111" stroke-width="1.15"/>
<circle cx="495" cy="528" r="1.65" fill="#e1b1f9" stroke="#111" stroke-width="1.15"/>
<circle cx="495" cy="532.6" r="1.65" fill="#e1b1f9" stroke="#111" stroke-width="1.15"/>
<circle cx="498.4" cy="543" r="1.65" fill="#e1b1f9" stroke="#111" stroke-width="1.15"/>
<circle cx="495" cy="551" r="1.65" fill="#e1b1f9" stroke="#111" stroke-width="1.15"/>
<circle cx="498.4" cy="566.4" r="1.65" fill="#e1b1f9" stroke="#111" stroke-width="1.15"/>
<circle cx="496.4" cy="579.4" r="1.65" fill="#e1b1f9" stroke="#111" stroke-width="1.15"/>
<text x="604.3" y="450" font-size="10.8" fill="#222" text-anchor="middle">Light-dark – Distance</text>
<line x1="553" y1="451.8" x2="655.4" y2="451.8" stroke="#9a9a9a" stroke-width="1.3"/>
<line x1="546" y1="483.6" x2="546" y2="623.6" stroke="#111" stroke-width="1.3"/>
<line x1="538.4" y1="483.6" x2="546" y2="483.6" stroke="#111" stroke-width="1.3"/>
<text x="535.5" y="487.3" font-size="10.6" fill="#222" text-anchor="end">3</text>
<line x1="538.4" y1="553.6" x2="546" y2="553.6" stroke="#111" stroke-width="1.3"/>
<text x="535.5" y="557.3" font-size="10.6" fill="#222" text-anchor="end">2</text>
<line x1="538.4" y1="623.6" x2="546" y2="623.6" stroke="#111" stroke-width="1.3"/>
<text x="535.5" y="627.3" font-size="10.6" fill="#222" text-anchor="end">1</text>
<line x1="542" y1="518.6" x2="546" y2="518.6" stroke="#111" stroke-width="1.3"/>
<line x1="542" y1="588.6" x2="546" y2="588.6" stroke="#111" stroke-width="1.3"/>
<line x1="552" y1="633" x2="657.5" y2="633" stroke="#111" stroke-width="1.3"/>
<line x1="567.5" y1="633" x2="567.5" y2="638" stroke="#111" stroke-width="1.3"/>
<text x="567.5" y="647.6" font-size="10.6" fill="#222" text-anchor="middle">CON1</text>
<line x1="604" y1="633" x2="604" y2="638" stroke="#111" stroke-width="1.3"/>
<text x="604" y="647.6" font-size="10.6" fill="#222" text-anchor="middle">P11G7</text>
<line x1="642.3" y1="633" x2="642.3" y2="638" stroke="#111" stroke-width="1.3"/>
<text x="642.3" y="647.6" font-size="10.6" fill="#222" text-anchor="middle">P9C7</text>
<text transform="translate(522.8 553) rotate(-90)" font-size="10.8" fill="#222" text-anchor="middle">Distance moved&#160;&#160;x10<tspan font-size="6.5" dy="-4">3</tspan><tspan dy="4">&#160;(cm)</tspan></text>
<polyline points="557.2,501 557.2,478.4 635,478.4 635,480.5" fill="none" stroke="#ababab" stroke-width="1.3"/>
<polyline points="560,501 560,492.4 596,492.4 596,498" fill="none" stroke="#ababab" stroke-width="1.3"/>
<text x="596" y="476.4" font-size="10.6" fill="#888" font-style="italic" text-anchor="middle">ns</text>
<text x="578" y="489.6" font-size="10.6" fill="#888" font-style="italic" text-anchor="middle">ns</text>
<line x1="558.6" y1="505.6" x2="558.6" y2="515.6" stroke="#111" stroke-width="1.3"/>
<line x1="558.6" y1="552.4" x2="558.6" y2="556.4" stroke="#111" stroke-width="1.3"/>
<line x1="551.6" y1="505.6" x2="565.6" y2="505.6" stroke="#111" stroke-width="1.4"/>
<line x1="551.6" y1="556.4" x2="565.6" y2="556.4" stroke="#111" stroke-width="1.4"/>
<rect x="551.6" y="515.6" width="14" height="36.8" fill="#c9c9c9" stroke="#111" stroke-width="1.3"/>
<line x1="551.6" y1="534.4" x2="565.6" y2="534.4" stroke="#111" stroke-width="1.4"/>
<rect x="557.4" y="530.8" width="3.2" height="3.2" fill="#c9c9c9" stroke="#111" stroke-width="1.1"/>
<line x1="595.9" y1="501" x2="595.9" y2="513.6" stroke="#111" stroke-width="1.3"/>
<line x1="595.9" y1="556.4" x2="595.9" y2="577.4" stroke="#111" stroke-width="1.3"/>
<line x1="589.4" y1="501" x2="602.4" y2="501" stroke="#111" stroke-width="1.4"/>
<line x1="589.4" y1="577.4" x2="602.4" y2="577.4" stroke="#111" stroke-width="1.4"/>
<rect x="589.4" y="513.6" width="13" height="42.8" fill="#f7fccf" stroke="#111" stroke-width="1.3"/>
<line x1="589.4" y1="531.6" x2="602.4" y2="531.6" stroke="#111" stroke-width="1.4"/>
<rect x="594" y="533.4" width="3.2" height="3.2" fill="#f7fccf" stroke="#111" stroke-width="1.1"/>
<line x1="633.8" y1="489.6" x2="633.8" y2="507" stroke="#111" stroke-width="1.3"/>
<line x1="633.8" y1="551.4" x2="633.8" y2="567" stroke="#111" stroke-width="1.3"/>
<line x1="627" y1="489.6" x2="640.6" y2="489.6" stroke="#111" stroke-width="1.4"/>
<line x1="627" y1="567" x2="640.6" y2="567" stroke="#111" stroke-width="1.4"/>
<rect x="627" y="507" width="13.6" height="44.4" fill="#e1b1f9" stroke="#111" stroke-width="1.3"/>
<line x1="627" y1="533.4" x2="640.6" y2="533.4" stroke="#111" stroke-width="1.4"/>
<rect x="632.4" y="530.4" width="3.2" height="3.2" fill="#e1b1f9" stroke="#111" stroke-width="1.1"/>
<circle cx="576.6" cy="500" r="1.65" fill="#c9c9c9" stroke="#111" stroke-width="1.15"/>
<circle cx="578" cy="512" r="1.65" fill="#c9c9c9" stroke="#111" stroke-width="1.15"/>
<circle cx="574.6" cy="516" r="1.65" fill="#c9c9c9" stroke="#111" stroke-width="1.15"/>
<circle cx="581" cy="516" r="1.65" fill="#c9c9c9" stroke="#111" stroke-width="1.15"/>
<circle cx="571.6" cy="525.4" r="1.65" fill="#c9c9c9" stroke="#111" stroke-width="1.15"/>
<circle cx="572.6" cy="545" r="1.65" fill="#c9c9c9" stroke="#111" stroke-width="1.15"/>
<circle cx="580" cy="543.6" r="1.65" fill="#c9c9c9" stroke="#111" stroke-width="1.15"/>
<circle cx="576.6" cy="552" r="1.65" fill="#c9c9c9" stroke="#111" stroke-width="1.15"/>
<circle cx="574.6" cy="555.6" r="1.65" fill="#c9c9c9" stroke="#111" stroke-width="1.15"/>
<circle cx="578" cy="557" r="1.65" fill="#c9c9c9" stroke="#111" stroke-width="1.15"/>
<circle cx="613.4" cy="501" r="1.65" fill="#f7fccf" stroke="#111" stroke-width="1.15"/>
<circle cx="613.4" cy="512" r="1.65" fill="#f7fccf" stroke="#111" stroke-width="1.15"/>
<circle cx="609" cy="515.6" r="1.65" fill="#f7fccf" stroke="#111" stroke-width="1.15"/>
<circle cx="618" cy="519.4" r="1.65" fill="#f7fccf" stroke="#111" stroke-width="1.15"/>
<circle cx="616" cy="544" r="1.65" fill="#f7fccf" stroke="#111" stroke-width="1.15"/>
<circle cx="611.6" cy="547.4" r="1.65" fill="#f7fccf" stroke="#111" stroke-width="1.15"/>
<circle cx="613.4" cy="565" r="1.65" fill="#f7fccf" stroke="#111" stroke-width="1.15"/>
<circle cx="613.4" cy="577.6" r="1.65" fill="#f7fccf" stroke="#111" stroke-width="1.15"/>
<circle cx="650" cy="487" r="1.65" fill="#e1b1f9" stroke="#111" stroke-width="1.15"/>
<circle cx="653.4" cy="490" r="1.65" fill="#e1b1f9" stroke="#111" stroke-width="1.15"/>
<circle cx="650" cy="504.4" r="1.65" fill="#e1b1f9" stroke="#111" stroke-width="1.15"/>
<circle cx="653.4" cy="509" r="1.65" fill="#e1b1f9" stroke="#111" stroke-width="1.15"/>
<circle cx="646.6" cy="532.4" r="1.65" fill="#e1b1f9" stroke="#111" stroke-width="1.15"/>
<circle cx="653.4" cy="532.4" r="1.65" fill="#e1b1f9" stroke="#111" stroke-width="1.15"/>
<circle cx="656.6" cy="533.6" r="1.65" fill="#e1b1f9" stroke="#111" stroke-width="1.15"/>
<circle cx="650" cy="537" r="1.65" fill="#e1b1f9" stroke="#111" stroke-width="1.15"/>
<circle cx="651" cy="547.6" r="1.65" fill="#e1b1f9" stroke="#111" stroke-width="1.15"/>
<circle cx="653.4" cy="554.6" r="1.65" fill="#e1b1f9" stroke="#111" stroke-width="1.15"/>
<circle cx="650" cy="567" r="1.65" fill="#e1b1f9" stroke="#111" stroke-width="1.15"/>
<circle cx="651" cy="586.6" r="1.65" fill="#e1b1f9" stroke="#111" stroke-width="1.15"/>
<text x="207" y="702.2" font-size="13.4" fill="#111" font-weight="bold" text-anchor="middle">CA1 pyramidal&#160; neurons</text>
<line x1="30" y1="713.2" x2="360" y2="713.2" stroke="#555" stroke-width="1.5"/>
<line x1="66.6" y1="725" x2="66.6" y2="860" stroke="#111" stroke-width="1.4"/>
<line x1="58.6" y1="725" x2="66.6" y2="725" stroke="#111" stroke-width="1.4"/>
<text x="55.6" y="728.8" font-size="10.6" fill="#111" font-weight="bold" text-anchor="end">120</text>
<line x1="58.6" y1="770" x2="66.6" y2="770" stroke="#111" stroke-width="1.4"/>
<text x="55.6" y="773.8" font-size="10.6" fill="#111" font-weight="bold" text-anchor="end">80</text>
<line x1="58.6" y1="815" x2="66.6" y2="815" stroke="#111" stroke-width="1.4"/>
<text x="55.6" y="818.8" font-size="10.6" fill="#111" font-weight="bold" text-anchor="end">40</text>
<line x1="58.6" y1="860" x2="66.6" y2="860" stroke="#111" stroke-width="1.4"/>
<text x="55.6" y="863.8" font-size="10.6" fill="#111" font-weight="bold" text-anchor="end">0</text>
<line x1="62.6" y1="747.5" x2="66.6" y2="747.5" stroke="#111" stroke-width="1.4"/>
<line x1="62.6" y1="792.5" x2="66.6" y2="792.5" stroke="#111" stroke-width="1.4"/>
<line x1="62.6" y1="837.5" x2="66.6" y2="837.5" stroke="#111" stroke-width="1.4"/>
<line x1="69" y1="861.6" x2="223.5" y2="861.6" stroke="#111" stroke-width="1.4"/>
<line x1="69" y1="861.6" x2="69" y2="866" stroke="#111" stroke-width="1.4"/>
<text x="69" y="878.3" font-size="10.6" fill="#111" font-weight="bold" text-anchor="middle">0</text>
<line x1="99.9" y1="861.6" x2="99.9" y2="866" stroke="#111" stroke-width="1.4"/>
<line x1="130.8" y1="861.6" x2="130.8" y2="866" stroke="#111" stroke-width="1.4"/>
<text x="130.8" y="878.3" font-size="10.6" fill="#111" font-weight="bold" text-anchor="middle">100</text>
<line x1="161.7" y1="861.6" x2="161.7" y2="866" stroke="#111" stroke-width="1.4"/>
<line x1="192.6" y1="861.6" x2="192.6" y2="866" stroke="#111" stroke-width="1.4"/>
<text x="192.6" y="878.3" font-size="10.6" fill="#111" font-weight="bold" text-anchor="middle">200</text>
<line x1="223.5" y1="861.6" x2="223.5" y2="866" stroke="#111" stroke-width="1.4"/>
<text x="146" y="891.6" font-size="10.2" fill="#111" font-weight="bold" text-anchor="middle">Distance from soma (µm)</text>
<text transform="translate(37.4 792.5) rotate(-90)" font-size="9.9" fill="#111" font-weight="bold" text-anchor="middle">Dendrite length (µm)</text>
<line x1="167" y1="725" x2="187" y2="725" stroke="#111" stroke-width="2"/>
<text x="191" y="728.8" font-size="10.3" fill="#111" font-weight="bold">CON1</text>
<line x1="167" y1="735.3" x2="187" y2="735.3" stroke="#737f1c" stroke-width="2"/>
<text x="191" y="739.1" font-size="10.3" fill="#111" font-weight="bold">P11G7</text>
<rect x="167" y="743.1" width="20" height="5" fill="#dcaaf4"/>
<line x1="167" y1="745.6" x2="187" y2="745.6" stroke="#7a22c8" stroke-width="2"/>
<text x="191" y="749.4" font-size="10.3" fill="#111" font-weight="bold">P9C7</text>
<polygon points="75.18,860 81.36,846.95 87.54,833.67 93.72,820.17 99.9,803.52 106.08,794.52 112.26,785.52 118.44,779.9 124.62,769.77 130.8,764.15 136.98,766.4 143.16,775.4 149.34,779.9 155.52,785.52 161.7,792.27 167.88,801.27 174.06,811.17 180.24,819.05 186.42,825.8 192.6,830.3 192.6,835.7 186.42,831.2 180.24,824.45 174.06,816.58 167.88,808.48 161.7,799.48 155.52,792.73 149.34,787.1 143.16,782.6 136.98,773.6 130.8,771.35 124.62,776.98 118.44,787.1 112.26,792.73 106.08,801.73 99.9,810.73 93.72,825.58 87.54,839.08 81.36,850.55 75.18,860" fill="#d8d8d8" fill-opacity="0.65"/>
<polyline points="75.18,860 81.36,848.75 87.54,836.38 93.72,822.88 99.9,807.12 106.08,798.12 112.26,789.12 118.44,783.5 124.62,773.38 130.8,767.75 136.98,770 143.16,779 149.34,783.5 155.52,789.12 161.7,795.88 167.88,804.88 174.06,813.88 180.24,821.75 186.42,828.5 192.6,833" fill="none" stroke="#111" stroke-width="1.3"/>
<line x1="81.36" y1="846.5" x2="81.36" y2="851" stroke="#111" stroke-width="1.1"/>
<line x1="87.54" y1="833" x2="87.54" y2="839.75" stroke="#111" stroke-width="1.1"/>
<line x1="93.72" y1="819.5" x2="93.72" y2="826.25" stroke="#111" stroke-width="1.1"/>
<line x1="99.9" y1="802.62" x2="99.9" y2="811.62" stroke="#111" stroke-width="1.1"/>
<line x1="106.08" y1="793.62" x2="106.08" y2="802.62" stroke="#111" stroke-width="1.1"/>
<line x1="112.26" y1="784.62" x2="112.26" y2="793.62" stroke="#111" stroke-width="1.1"/>
<line x1="118.44" y1="779" x2="118.44" y2="788" stroke="#111" stroke-width="1.1"/>
<line x1="124.62" y1="768.88" x2="124.62" y2="777.88" stroke="#111" stroke-width="1.1"/>
<line x1="130.8" y1="763.25" x2="130.8" y2="772.25" stroke="#111" stroke-width="1.1"/>
<line x1="136.98" y1="765.5" x2="136.98" y2="774.5" stroke="#111" stroke-width="1.1"/>
<line x1="143.16" y1="774.5" x2="143.16" y2="783.5" stroke="#111" stroke-width="1.1"/>
<line x1="149.34" y1="779" x2="149.34" y2="788" stroke="#111" stroke-width="1.1"/>
<line x1="155.52" y1="784.62" x2="155.52" y2="793.62" stroke="#111" stroke-width="1.1"/>
<line x1="161.7" y1="791.38" x2="161.7" y2="800.38" stroke="#111" stroke-width="1.1"/>
<line x1="167.88" y1="800.38" x2="167.88" y2="809.38" stroke="#111" stroke-width="1.1"/>
<line x1="174.06" y1="810.5" x2="174.06" y2="817.25" stroke="#111" stroke-width="1.1"/>
<line x1="180.24" y1="818.38" x2="180.24" y2="825.12" stroke="#111" stroke-width="1.1"/>
<line x1="186.42" y1="825.12" x2="186.42" y2="831.88" stroke="#111" stroke-width="1.1"/>
<line x1="192.6" y1="829.62" x2="192.6" y2="836.38" stroke="#111" stroke-width="1.1"/>
<polygon points="75.18,860 81.36,850.1 87.54,836.83 93.72,823.55 99.9,808.92 106.08,778.1 112.26,779 118.44,781.25 124.62,776.75 130.8,772.25 136.98,772.25 143.16,777.88 149.34,782.38 155.52,781.25 161.7,782.38 167.88,794.52 174.06,802.4 180.24,809.15 186.42,811.4 192.6,811.62 198.78,817.25 204.96,820.62 211.14,824 217.32,826.25 223.5,827.38 223.5,836.38 217.32,835.25 211.14,833 204.96,829.62 198.78,826.25 192.6,820.62 186.42,818.6 180.24,816.35 174.06,809.6 167.88,801.73 161.7,791.38 155.52,790.25 149.34,791.38 143.16,786.88 136.98,781.25 130.8,781.25 124.62,785.75 118.44,790.25 112.26,788 106.08,788.9 99.9,814.33 93.72,828.95 87.54,840.42 81.36,851.9 75.18,860" fill="#d9a6f2" fill-opacity="0.65"/>
<polyline points="75.18,860 81.36,851 87.54,838.62 93.72,826.25 99.9,811.62 106.08,783.5 112.26,783.5 118.44,785.75 124.62,781.25 130.8,776.75 136.98,776.75 143.16,782.38 149.34,786.88 155.52,785.75 161.7,786.88 167.88,798.12 174.06,806 180.24,812.75 186.42,815 192.6,816.12 198.78,821.75 204.96,825.12 211.14,828.5 217.32,830.75 223.5,831.88" fill="none" stroke="#7a22c8" stroke-width="1.5"/>
<line x1="81.36" y1="849.88" x2="81.36" y2="852.12" stroke="#7a22c8" stroke-width="1.1"/>
<line x1="87.54" y1="836.38" x2="87.54" y2="840.88" stroke="#7a22c8" stroke-width="1.1"/>
<line x1="93.72" y1="822.88" x2="93.72" y2="829.62" stroke="#7a22c8" stroke-width="1.1"/>
<line x1="99.9" y1="808.25" x2="99.9" y2="815" stroke="#7a22c8" stroke-width="1.1"/>
<line x1="106.08" y1="776.75" x2="106.08" y2="790.25" stroke="#7a22c8" stroke-width="1.1"/>
<line x1="112.26" y1="777.88" x2="112.26" y2="789.12" stroke="#7a22c8" stroke-width="1.1"/>
<line x1="118.44" y1="780.12" x2="118.44" y2="791.38" stroke="#7a22c8" stroke-width="1.1"/>
<line x1="124.62" y1="775.62" x2="124.62" y2="786.88" stroke="#7a22c8" stroke-width="1.1"/>
<line x1="130.8" y1="771.12" x2="130.8" y2="782.38" stroke="#7a22c8" stroke-width="1.1"/>
<line x1="136.98" y1="771.12" x2="136.98" y2="782.38" stroke="#7a22c8" stroke-width="1.1"/>
<line x1="143.16" y1="776.75" x2="143.16" y2="788" stroke="#7a22c8" stroke-width="1.1"/>
<line x1="149.34" y1="781.25" x2="149.34" y2="792.5" stroke="#7a22c8" stroke-width="1.1"/>
<line x1="155.52" y1="780.12" x2="155.52" y2="791.38" stroke="#7a22c8" stroke-width="1.1"/>
<line x1="161.7" y1="781.25" x2="161.7" y2="792.5" stroke="#7a22c8" stroke-width="1.1"/>
<line x1="167.88" y1="793.62" x2="167.88" y2="802.62" stroke="#7a22c8" stroke-width="1.1"/>
<line x1="174.06" y1="801.5" x2="174.06" y2="810.5" stroke="#7a22c8" stroke-width="1.1"/>
<line x1="180.24" y1="808.25" x2="180.24" y2="817.25" stroke="#7a22c8" stroke-width="1.1"/>
<line x1="186.42" y1="810.5" x2="186.42" y2="819.5" stroke="#7a22c8" stroke-width="1.1"/>
<line x1="192.6" y1="810.5" x2="192.6" y2="821.75" stroke="#7a22c8" stroke-width="1.1"/>
<line x1="198.78" y1="816.12" x2="198.78" y2="827.38" stroke="#7a22c8" stroke-width="1.1"/>
<line x1="204.96" y1="819.5" x2="204.96" y2="830.75" stroke="#7a22c8" stroke-width="1.1"/>
<line x1="211.14" y1="822.88" x2="211.14" y2="834.12" stroke="#7a22c8" stroke-width="1.1"/>
<line x1="217.32" y1="825.12" x2="217.32" y2="836.38" stroke="#7a22c8" stroke-width="1.1"/>
<line x1="223.5" y1="826.25" x2="223.5" y2="837.5" stroke="#7a22c8" stroke-width="1.1"/>
<polygon points="75.18,860 81.36,841.33 87.54,823.55 93.72,807.8 99.9,791.15 106.08,779 112.26,770 118.44,765.5 124.62,752.23 130.8,746.6 136.98,743.23 143.16,733.33 149.34,743.23 155.52,763.48 161.7,775.62 167.88,783.5 174.06,789.12 180.24,797 186.42,811.62 192.6,821.52 198.78,828.05 204.96,831.42 211.14,837.05 217.32,843.58 223.5,846.95 223.5,850.55 217.32,847.17 211.14,842.45 204.96,836.83 198.78,833.45 192.6,828.73 186.42,820.62 180.24,806 174.06,798.12 167.88,792.5 161.7,784.62 155.52,774.27 149.34,754.02 143.16,745.92 136.98,754.02 130.8,757.4 124.62,763.02 118.44,774.5 112.26,779 106.08,788 99.9,798.35 93.72,813.2 87.54,828.95 81.36,844.92 75.18,860" fill="#eef7b8" fill-opacity="0.65"/>
<polyline points="75.18,860 81.36,843.12 87.54,826.25 93.72,810.5 99.9,794.75 106.08,783.5 112.26,774.5 118.44,770 124.62,757.62 130.8,752 136.98,748.62 143.16,739.62 149.34,748.62 155.52,768.88 161.7,780.12 167.88,788 174.06,793.62 180.24,801.5 186.42,816.12 192.6,825.12 198.78,830.75 204.96,834.12 211.14,839.75 217.32,845.38 223.5,848.75" fill="none" stroke="#737f1c" stroke-width="1.3"/>
<line x1="81.36" y1="840.88" x2="81.36" y2="845.38" stroke="#737f1c" stroke-width="1.1"/>
<line x1="87.54" y1="822.88" x2="87.54" y2="829.62" stroke="#737f1c" stroke-width="1.1"/>
<line x1="93.72" y1="807.12" x2="93.72" y2="813.88" stroke="#737f1c" stroke-width="1.1"/>
<line x1="99.9" y1="790.25" x2="99.9" y2="799.25" stroke="#737f1c" stroke-width="1.1"/>
<line x1="106.08" y1="777.88" x2="106.08" y2="789.12" stroke="#737f1c" stroke-width="1.1"/>
<line x1="112.26" y1="768.88" x2="112.26" y2="780.12" stroke="#737f1c" stroke-width="1.1"/>
<line x1="118.44" y1="764.38" x2="118.44" y2="775.62" stroke="#737f1c" stroke-width="1.1"/>
<line x1="124.62" y1="750.88" x2="124.62" y2="764.38" stroke="#737f1c" stroke-width="1.1"/>
<line x1="130.8" y1="745.25" x2="130.8" y2="758.75" stroke="#737f1c" stroke-width="1.1"/>
<line x1="136.98" y1="741.88" x2="136.98" y2="755.38" stroke="#737f1c" stroke-width="1.1"/>
<line x1="143.16" y1="731.75" x2="143.16" y2="747.5" stroke="#737f1c" stroke-width="1.1"/>
<line x1="149.34" y1="741.88" x2="149.34" y2="755.38" stroke="#737f1c" stroke-width="1.1"/>
<line x1="155.52" y1="762.12" x2="155.52" y2="775.62" stroke="#737f1c" stroke-width="1.1"/>
<line x1="161.7" y1="774.5" x2="161.7" y2="785.75" stroke="#737f1c" stroke-width="1.1"/>
<line x1="167.88" y1="782.38" x2="167.88" y2="793.62" stroke="#737f1c" stroke-width="1.1"/>
<line x1="174.06" y1="788" x2="174.06" y2="799.25" stroke="#737f1c" stroke-width="1.1"/>
<line x1="180.24" y1="795.88" x2="180.24" y2="807.12" stroke="#737f1c" stroke-width="1.1"/>
<line x1="186.42" y1="810.5" x2="186.42" y2="821.75" stroke="#737f1c" stroke-width="1.1"/>
<line x1="192.6" y1="820.62" x2="192.6" y2="829.62" stroke="#737f1c" stroke-width="1.1"/>
<line x1="198.78" y1="827.38" x2="198.78" y2="834.12" stroke="#737f1c" stroke-width="1.1"/>
<line x1="204.96" y1="830.75" x2="204.96" y2="837.5" stroke="#737f1c" stroke-width="1.1"/>
<line x1="211.14" y1="836.38" x2="211.14" y2="843.12" stroke="#737f1c" stroke-width="1.1"/>
<line x1="217.32" y1="843.12" x2="217.32" y2="847.62" stroke="#737f1c" stroke-width="1.1"/>
<line x1="223.5" y1="846.5" x2="223.5" y2="851" stroke="#737f1c" stroke-width="1.1"/>
<text x="536.5" y="702.2" font-size="13.4" fill="#111" font-weight="bold" text-anchor="middle">CA2 pyramidal&#160; neurons</text>
<line x1="371" y1="713.2" x2="683" y2="713.2" stroke="#555" stroke-width="1.5"/>
<line x1="407.4" y1="725" x2="407.4" y2="860" stroke="#111" stroke-width="1.4"/>
<line x1="399.4" y1="725" x2="407.4" y2="725" stroke="#111" stroke-width="1.4"/>
<text x="396.4" y="728.8" font-size="10.6" fill="#111" font-weight="bold" text-anchor="end">80</text>
<line x1="399.4" y1="758.75" x2="407.4" y2="758.75" stroke="#111" stroke-width="1.4"/>
<text x="396.4" y="762.55" font-size="10.6" fill="#111" font-weight="bold" text-anchor="end">60</text>
<line x1="399.4" y1="792.5" x2="407.4" y2="792.5" stroke="#111" stroke-width="1.4"/>
<text x="396.4" y="796.3" font-size="10.6" fill="#111" font-weight="bold" text-anchor="end">40</text>
<line x1="399.4" y1="826.25" x2="407.4" y2="826.25" stroke="#111" stroke-width="1.4"/>
<text x="396.4" y="830.05" font-size="10.6" fill="#111" font-weight="bold" text-anchor="end">20</text>
<line x1="399.4" y1="860" x2="407.4" y2="860" stroke="#111" stroke-width="1.4"/>
<text x="396.4" y="863.8" font-size="10.6" fill="#111" font-weight="bold" text-anchor="end">0</text>
<line x1="403.4" y1="741.88" x2="407.4" y2="741.88" stroke="#111" stroke-width="1.4"/>
<line x1="403.4" y1="775.62" x2="407.4" y2="775.62" stroke="#111" stroke-width="1.4"/>
<line x1="403.4" y1="809.38" x2="407.4" y2="809.38" stroke="#111" stroke-width="1.4"/>
<line x1="403.4" y1="843.12" x2="407.4" y2="843.12" stroke="#111" stroke-width="1.4"/>
<line x1="409" y1="861.6" x2="564" y2="861.6" stroke="#111" stroke-width="1.4"/>
<line x1="409" y1="861.6" x2="409" y2="866" stroke="#111" stroke-width="1.4"/>
<text x="409" y="878.3" font-size="10.6" fill="#111" font-weight="bold" text-anchor="middle">0</text>
<line x1="440" y1="861.6" x2="440" y2="866" stroke="#111" stroke-width="1.4"/>
<line x1="471" y1="861.6" x2="471" y2="866" stroke="#111" stroke-width="1.4"/>
<text x="471" y="878.3" font-size="10.6" fill="#111" font-weight="bold" text-anchor="middle">100</text>
<line x1="502" y1="861.6" x2="502" y2="866" stroke="#111" stroke-width="1.4"/>
<line x1="533" y1="861.6" x2="533" y2="866" stroke="#111" stroke-width="1.4"/>
<text x="533" y="878.3" font-size="10.6" fill="#111" font-weight="bold" text-anchor="middle">200</text>
<line x1="564" y1="861.6" x2="564" y2="866" stroke="#111" stroke-width="1.4"/>
<text x="486.5" y="891.6" font-size="10.2" fill="#111" font-weight="bold" text-anchor="middle">Distance from soma (µm)</text>
<text transform="translate(378.4 792.5) rotate(-90)" font-size="9.9" fill="#111" font-weight="bold" text-anchor="middle">Dendrite length (µm)</text>
<line x1="509" y1="727.4" x2="529" y2="727.4" stroke="#111" stroke-width="2"/>
<text x="533" y="731.2" font-size="10.3" fill="#111" font-weight="bold">CON1</text>
<line x1="509" y1="737.7" x2="529" y2="737.7" stroke="#737f1c" stroke-width="2"/>
<text x="533" y="741.5" font-size="10.3" fill="#111" font-weight="bold">P11G7</text>
<rect x="509" y="745.5" width="20" height="5" fill="#dcaaf4"/>
<line x1="509" y1="748" x2="529" y2="748" stroke="#7a22c8" stroke-width="2"/>
<text x="533" y="751.8" font-size="10.3" fill="#111" font-weight="bold">P9C7</text>
<polygon points="410.86,860 417.68,843.8 423.88,825.58 430.08,805.33 435.97,793.51 441.86,783.39 448.06,776.64 454.01,768.2 461.08,761.45 466.97,758.08 472.86,763.14 479.68,769.89 485.88,774.95 492.08,776.64 498.28,778.33 503.86,774.95 510.06,768.88 516.01,770.9 523.08,779 528.97,793.51 534.86,801.95 541.06,808.03 547.57,813.76 554.08,810.39 559.97,808.7 559.97,816.8 554.08,818.49 547.57,821.86 541.06,816.12 534.86,810.05 528.97,801.61 523.08,787.1 516.01,779 510.06,776.97 503.86,783.05 498.28,786.42 492.08,784.74 485.88,783.05 479.68,777.99 472.86,771.24 466.97,766.17 461.08,769.55 454.01,776.3 448.06,784.74 441.86,791.49 435.97,801.61 430.08,813.42 423.88,833.67 417.68,849.2 410.86,860" fill="#d8d8d8" fill-opacity="0.65"/>
<polyline points="410.86,860 417.68,846.5 423.88,829.62 430.08,809.38 435.97,797.56 441.86,787.44 448.06,780.69 454.01,772.25 461.08,765.5 466.97,762.12 472.86,767.19 479.68,773.94 485.88,779 492.08,780.69 498.28,782.38 503.86,779 510.06,772.92 516.01,774.95 523.08,783.05 528.97,797.56 534.86,806 541.06,812.08 547.57,817.81 554.08,814.44 559.97,812.75" fill="none" stroke="#111" stroke-width="1.3"/>
<line x1="417.68" y1="843.12" x2="417.68" y2="849.88" stroke="#111" stroke-width="1.1"/>
<line x1="423.88" y1="824.56" x2="423.88" y2="834.69" stroke="#111" stroke-width="1.1"/>
<line x1="430.08" y1="804.31" x2="430.08" y2="814.44" stroke="#111" stroke-width="1.1"/>
<line x1="435.97" y1="792.5" x2="435.97" y2="802.62" stroke="#111" stroke-width="1.1"/>
<line x1="441.86" y1="782.38" x2="441.86" y2="792.5" stroke="#111" stroke-width="1.1"/>
<line x1="448.06" y1="775.62" x2="448.06" y2="785.75" stroke="#111" stroke-width="1.1"/>
<line x1="454.01" y1="767.19" x2="454.01" y2="777.31" stroke="#111" stroke-width="1.1"/>
<line x1="461.08" y1="760.44" x2="461.08" y2="770.56" stroke="#111" stroke-width="1.1"/>
<line x1="466.97" y1="757.06" x2="466.97" y2="767.19" stroke="#111" stroke-width="1.1"/>
<line x1="472.86" y1="762.12" x2="472.86" y2="772.25" stroke="#111" stroke-width="1.1"/>
<line x1="479.68" y1="768.88" x2="479.68" y2="779" stroke="#111" stroke-width="1.1"/>
<line x1="485.88" y1="773.94" x2="485.88" y2="784.06" stroke="#111" stroke-width="1.1"/>
<line x1="492.08" y1="775.62" x2="492.08" y2="785.75" stroke="#111" stroke-width="1.1"/>
<line x1="498.28" y1="777.31" x2="498.28" y2="787.44" stroke="#111" stroke-width="1.1"/>
<line x1="503.86" y1="773.94" x2="503.86" y2="784.06" stroke="#111" stroke-width="1.1"/>
<line x1="510.06" y1="767.86" x2="510.06" y2="777.99" stroke="#111" stroke-width="1.1"/>
<line x1="516.01" y1="769.89" x2="516.01" y2="780.01" stroke="#111" stroke-width="1.1"/>
<line x1="523.08" y1="777.99" x2="523.08" y2="788.11" stroke="#111" stroke-width="1.1"/>
<line x1="528.97" y1="792.5" x2="528.97" y2="802.62" stroke="#111" stroke-width="1.1"/>
<line x1="534.86" y1="800.94" x2="534.86" y2="811.06" stroke="#111" stroke-width="1.1"/>
<line x1="541.06" y1="807.01" x2="541.06" y2="817.14" stroke="#111" stroke-width="1.1"/>
<line x1="547.57" y1="812.75" x2="547.57" y2="822.88" stroke="#111" stroke-width="1.1"/>
<line x1="554.08" y1="809.38" x2="554.08" y2="819.5" stroke="#111" stroke-width="1.1"/>
<line x1="559.97" y1="807.69" x2="559.97" y2="817.81" stroke="#111" stroke-width="1.1"/>
<polygon points="410.86,860 417.68,840.42 423.88,818.83 430.08,800.26 435.97,792.67 441.86,778.66 448.06,777.65 454.01,762.46 461.08,748.62 466.97,756.89 472.86,740.52 479.68,766.85 485.88,770.56 492.08,773.6 498.28,776.98 503.86,780.35 510.06,783.73 516.01,785.41 523.08,785.41 528.97,794.52 534.86,792.67 541.06,797.23 547.57,804.65 554.08,811.57 559.97,809.54 559.97,820.34 554.08,822.37 547.57,815.45 541.06,808.02 534.86,803.47 528.97,805.32 523.08,796.21 516.01,796.21 510.06,794.52 503.86,791.15 498.28,787.77 492.08,784.4 485.88,781.36 479.68,777.65 472.86,751.32 466.97,764.99 461.08,759.42 454.01,773.26 448.06,788.45 441.86,789.46 435.97,803.47 430.08,808.36 423.88,826.92 417.68,845.83 410.86,860" fill="#d9a6f2" fill-opacity="0.65"/>
<polyline points="410.86,860 417.68,843.12 423.88,822.88 430.08,804.31 435.97,798.07 441.86,784.06 448.06,783.05 454.01,767.86 461.08,754.02 466.97,760.94 472.86,745.92 479.68,772.25 485.88,775.96 492.08,779 498.28,782.38 503.86,785.75 510.06,789.12 516.01,790.81 523.08,790.81 528.97,799.92 534.86,798.07 541.06,802.62 547.57,810.05 554.08,816.97 559.97,814.94" fill="none" stroke="#7a22c8" stroke-width="1.5"/>
<line x1="417.68" y1="839.75" x2="417.68" y2="846.5" stroke="#7a22c8" stroke-width="1.1"/>
<line x1="423.88" y1="817.81" x2="423.88" y2="827.94" stroke="#7a22c8" stroke-width="1.1"/>
<line x1="430.08" y1="799.25" x2="430.08" y2="809.38" stroke="#7a22c8" stroke-width="1.1"/>
<line x1="435.97" y1="791.32" x2="435.97" y2="804.82" stroke="#7a22c8" stroke-width="1.1"/>
<line x1="441.86" y1="777.31" x2="441.86" y2="790.81" stroke="#7a22c8" stroke-width="1.1"/>
<line x1="448.06" y1="776.3" x2="448.06" y2="789.8" stroke="#7a22c8" stroke-width="1.1"/>
<line x1="454.01" y1="761.11" x2="454.01" y2="774.61" stroke="#7a22c8" stroke-width="1.1"/>
<line x1="461.08" y1="747.27" x2="461.08" y2="760.77" stroke="#7a22c8" stroke-width="1.1"/>
<line x1="466.97" y1="755.88" x2="466.97" y2="766.01" stroke="#7a22c8" stroke-width="1.1"/>
<line x1="472.86" y1="739.17" x2="472.86" y2="752.67" stroke="#7a22c8" stroke-width="1.1"/>
<line x1="479.68" y1="765.5" x2="479.68" y2="779" stroke="#7a22c8" stroke-width="1.1"/>
<line x1="485.88" y1="769.21" x2="485.88" y2="782.71" stroke="#7a22c8" stroke-width="1.1"/>
<line x1="492.08" y1="772.25" x2="492.08" y2="785.75" stroke="#7a22c8" stroke-width="1.1"/>
<line x1="498.28" y1="775.62" x2="498.28" y2="789.12" stroke="#7a22c8" stroke-width="1.1"/>
<line x1="503.86" y1="779" x2="503.86" y2="792.5" stroke="#7a22c8" stroke-width="1.1"/>
<line x1="510.06" y1="782.38" x2="510.06" y2="795.88" stroke="#7a22c8" stroke-width="1.1"/>
<line x1="516.01" y1="784.06" x2="516.01" y2="797.56" stroke="#7a22c8" stroke-width="1.1"/>
<line x1="523.08" y1="784.06" x2="523.08" y2="797.56" stroke="#7a22c8" stroke-width="1.1"/>
<line x1="528.97" y1="793.17" x2="528.97" y2="806.67" stroke="#7a22c8" stroke-width="1.1"/>
<line x1="534.86" y1="791.32" x2="534.86" y2="804.82" stroke="#7a22c8" stroke-width="1.1"/>
<line x1="541.06" y1="795.88" x2="541.06" y2="809.38" stroke="#7a22c8" stroke-width="1.1"/>
<line x1="547.57" y1="803.3" x2="547.57" y2="816.8" stroke="#7a22c8" stroke-width="1.1"/>
<line x1="554.08" y1="810.22" x2="554.08" y2="823.72" stroke="#7a22c8" stroke-width="1.1"/>
<line x1="559.97" y1="808.19" x2="559.97" y2="821.69" stroke="#7a22c8" stroke-width="1.1"/>
<polygon points="410.86,860 417.68,828.95 423.88,799.25 430.08,782.71 435.97,769.89 441.86,757.4 448.06,749.3 454.01,735.8 461.08,732.09 466.97,737.15 472.86,753.52 479.68,745.92 485.88,747.95 492.08,747.95 498.28,763.64 503.86,776.3 510.06,777.99 516.01,778.49 523.08,790.47 528.97,811.06 534.86,819.67 541.06,827.94 547.57,838.23 554.08,834.35 559.97,834.35 559.97,839.75 554.08,839.75 547.57,843.63 541.06,836.04 534.86,830.47 528.97,824.56 523.08,809.38 516.01,797.39 510.06,796.89 503.86,795.2 498.28,782.54 492.08,769.55 485.88,769.55 479.68,764.83 472.86,772.42 466.97,753.35 461.08,748.29 454.01,754.7 448.06,768.2 441.86,773.6 435.97,786.09 430.08,798.91 423.88,812.75 417.68,837.05 410.86,860" fill="#eef7b8" fill-opacity="0.65"/>
<polyline points="410.86,860 417.68,833 423.88,806 430.08,790.81 435.97,777.99 441.86,765.5 448.06,758.75 454.01,745.25 461.08,740.19 466.97,745.25 472.86,762.97 479.68,755.38 485.88,758.75 492.08,758.75 498.28,773.09 503.86,785.75 510.06,787.44 516.01,787.94 523.08,799.92 528.97,817.81 534.86,825.07 541.06,831.99 547.57,840.93 554.08,837.05 559.97,837.05" fill="none" stroke="#737f1c" stroke-width="1.3"/>
<line x1="417.68" y1="827.94" x2="417.68" y2="838.06" stroke="#737f1c" stroke-width="1.1"/>
<line x1="423.88" y1="797.56" x2="423.88" y2="814.44" stroke="#737f1c" stroke-width="1.1"/>
<line x1="430.08" y1="780.69" x2="430.08" y2="800.94" stroke="#737f1c" stroke-width="1.1"/>
<line x1="435.97" y1="767.86" x2="435.97" y2="788.11" stroke="#737f1c" stroke-width="1.1"/>
<line x1="441.86" y1="755.38" x2="441.86" y2="775.62" stroke="#737f1c" stroke-width="1.1"/>
<line x1="448.06" y1="746.94" x2="448.06" y2="770.56" stroke="#737f1c" stroke-width="1.1"/>
<line x1="454.01" y1="733.44" x2="454.01" y2="757.06" stroke="#737f1c" stroke-width="1.1"/>
<line x1="461.08" y1="730.06" x2="461.08" y2="750.31" stroke="#737f1c" stroke-width="1.1"/>
<line x1="466.97" y1="735.12" x2="466.97" y2="755.38" stroke="#737f1c" stroke-width="1.1"/>
<line x1="472.86" y1="751.16" x2="472.86" y2="774.78" stroke="#737f1c" stroke-width="1.1"/>
<line x1="479.68" y1="743.56" x2="479.68" y2="767.19" stroke="#737f1c" stroke-width="1.1"/>
<line x1="485.88" y1="745.25" x2="485.88" y2="772.25" stroke="#737f1c" stroke-width="1.1"/>
<line x1="492.08" y1="745.25" x2="492.08" y2="772.25" stroke="#737f1c" stroke-width="1.1"/>
<line x1="498.28" y1="761.28" x2="498.28" y2="784.91" stroke="#737f1c" stroke-width="1.1"/>
<line x1="503.86" y1="773.94" x2="503.86" y2="797.56" stroke="#737f1c" stroke-width="1.1"/>
<line x1="510.06" y1="775.62" x2="510.06" y2="799.25" stroke="#737f1c" stroke-width="1.1"/>
<line x1="516.01" y1="776.13" x2="516.01" y2="799.76" stroke="#737f1c" stroke-width="1.1"/>
<line x1="523.08" y1="788.11" x2="523.08" y2="811.74" stroke="#737f1c" stroke-width="1.1"/>
<line x1="528.97" y1="809.38" x2="528.97" y2="826.25" stroke="#737f1c" stroke-width="1.1"/>
<line x1="534.86" y1="818.32" x2="534.86" y2="831.82" stroke="#737f1c" stroke-width="1.1"/>
<line x1="541.06" y1="826.92" x2="541.06" y2="837.05" stroke="#737f1c" stroke-width="1.1"/>
<line x1="547.57" y1="837.56" x2="547.57" y2="844.31" stroke="#737f1c" stroke-width="1.1"/>
<line x1="554.08" y1="833.67" x2="554.08" y2="840.42" stroke="#737f1c" stroke-width="1.1"/>
<line x1="559.97" y1="833.67" x2="559.97" y2="840.42" stroke="#737f1c" stroke-width="1.1"/>
<rect x="226.8" y="719.2" width="132.4" height="163.2" fill="#000"/>
<rect x="567.4" y="723.3" width="115.8" height="155.4" fill="#000"/>
<g filter="url(#bl)">
<ellipse cx="258.3" cy="729.2" rx="2.2" ry="5" fill="#f2f2f2" transform="rotate(10 258.3 729.2)"/>
<polyline points="258.3,733.9 254.8,751.8 253.8,760.7 254.3,762.7" fill="none" stroke="#f2f2f2" stroke-width="1.4" stroke-linecap="round" stroke-linejoin="round"/>
<polyline points="254.8,752.8 258.8,754.2 265.7,757.7" fill="none" stroke="#f2f2f2" stroke-width="1.25" stroke-linecap="round" stroke-linejoin="round"/>
<polyline points="254.3,762.7 247.8,766.7 237.9,779.6 228.5,790.5" fill="none" stroke="#f2f2f2" stroke-width="1.25" stroke-linecap="round" stroke-linejoin="round"/>
<polyline points="254.3,762.7 262.7,768.6 270.2,783.5" fill="none" stroke="#f2f2f2" stroke-width="1.25" stroke-linecap="round" stroke-linejoin="round"/>
<polyline points="262.7,768.6 273.7,766.7 285.6,762.7 294,759.7 298,759" fill="none" stroke="#ecedcc" stroke-width="1.25" stroke-linecap="round" stroke-linejoin="round"/>
<polyline points="254.8,765.7 255.8,777.6 258.8,787.5 263.7,794.5 269.7,795 275.6,799.4" fill="none" stroke="#f2f2f2" stroke-width="1.25" stroke-linecap="round" stroke-linejoin="round"/>
<polyline points="255.5,780 252,790 249,800 247.1,801" fill="none" stroke="#f2f2f2" stroke-width="1.25" stroke-linecap="round" stroke-linejoin="round"/>
<polyline points="255.2,790 253.7,805 253.2,825.2 253.2,844.3" fill="none" stroke="#f2f2f2" stroke-width="1.2" stroke-linecap="round" stroke-linejoin="round"/>
<polyline points="256.2,815 260.2,825.2 259.2,835.2 259.2,845.3 260.2,857.4" fill="none" stroke="#f2f2f2" stroke-width="1.6" stroke-linecap="round" stroke-linejoin="round"/>
<polyline points="260.2,857.4 256.2,862.4" fill="none" stroke="#f2f2f2" stroke-width="1.25" stroke-linecap="round" stroke-linejoin="round"/>
<polyline points="260.2,857.4 260.7,865.4" fill="none" stroke="#f2f2f2" stroke-width="1.25" stroke-linecap="round" stroke-linejoin="round"/>
<polyline points="260.2,857.4 267.2,865.4" fill="none" stroke="#f2f2f2" stroke-width="1.25" stroke-linecap="round" stroke-linejoin="round"/>
<ellipse cx="298.2" cy="730.5" rx="2.4" ry="5.8" fill="#ecedcc" transform="rotate(8 298.2 730.5)"/>
<polyline points="297.9,737.2 297,745.5 298.8,753.7 299.3,759.2 301.1,765.6 303.9,769.3 304.8,774.8 305,790 306.1,806 308.8,827.2 308.8,835.7 301.9,848.4 294.4,858 285.9,867.5" fill="none" stroke="#ecedcc" stroke-width="1.3" stroke-linecap="round" stroke-linejoin="round"/>
<polyline points="298.4,741.4 306.6,742.3 309.8,746.8" fill="none" stroke="#ecedcc" stroke-width="1.25" stroke-linecap="round" stroke-linejoin="round"/>
<polyline points="299.3,753.3 308.5,753.3 319,754.6" fill="none" stroke="#ecedcc" stroke-width="1.25" stroke-linecap="round" stroke-linejoin="round"/>
<polyline points="300.2,753.7 303.9,756.5" fill="none" stroke="#ecedcc" stroke-width="1.25" stroke-linecap="round" stroke-linejoin="round"/>
<polyline points="297.5,759.2 288.3,762 275.5,767.5 270,766.5" fill="none" stroke="#ecedcc" stroke-width="1.25" stroke-linecap="round" stroke-linejoin="round"/>
<polyline points="298,762 292.9,769.3 281.9,781.2" fill="none" stroke="#ecedcc" stroke-width="1.25" stroke-linecap="round" stroke-linejoin="round"/>
<polyline points="298.5,764 293.8,773 292,786.7 290.2,790 288.6,803.8 285.9,815.5 284.9,825 280.6,829.3 271.6,833.5" fill="none" stroke="#ecedcc" stroke-width="1.25" stroke-linecap="round" stroke-linejoin="round"/>
<polyline points="289.7,780.3 280,787 270,794" fill="none" stroke="#ecedcc" stroke-width="1.25" stroke-linecap="round" stroke-linejoin="round"/>
<polyline points="301.1,765.6 308.5,771.1 321.7,773.4" fill="none" stroke="#ecedcc" stroke-width="1.25" stroke-linecap="round" stroke-linejoin="round"/>
<polyline points="304.8,774.8 315.8,782.1 325.9,785.3" fill="none" stroke="#ecedcc" stroke-width="1.25" stroke-linecap="round" stroke-linejoin="round"/>
<polyline points="306,780 315,786 324,788.5" fill="none" stroke="#ecedcc" stroke-width="1.25" stroke-linecap="round" stroke-linejoin="round"/>
<polyline points="292,786.7 300,790 310,791 327.3,792.1" fill="none" stroke="#ecedcc" stroke-width="1.25" stroke-linecap="round" stroke-linejoin="round"/>
<polyline points="288.6,803.8 296.5,813.4 298.7,817.6 292.3,825" fill="none" stroke="#ecedcc" stroke-width="1.25" stroke-linecap="round" stroke-linejoin="round"/>
<polyline points="283.8,790 283.3,807" fill="none" stroke="#ecedcc" stroke-width="1.25" stroke-linecap="round" stroke-linejoin="round"/>
<polyline points="270,795.3 280.6,809" fill="none" stroke="#ecedcc" stroke-width="1.25" stroke-linecap="round" stroke-linejoin="round"/>
<polyline points="310.4,795.3 312.5,809 316.7,819.7 318.3,831.4" fill="none" stroke="#ecedcc" stroke-width="1.25" stroke-linecap="round" stroke-linejoin="round"/>
<polyline points="312.5,809 321,810.7" fill="none" stroke="#ecedcc" stroke-width="1.25" stroke-linecap="round" stroke-linejoin="round"/>
<polyline points="310.4,802.7 300.8,814.4" fill="none" stroke="#ecedcc" stroke-width="1.25" stroke-linecap="round" stroke-linejoin="round"/>
<polyline points="291.5,786.6 308.3,784.5 325.1,784.5" fill="none" stroke="#ecedcc" stroke-width="1.0" stroke-linecap="round" stroke-linejoin="round"/>
<polyline points="292.5,791.9 304.1,789.8 325.1,791.9" fill="none" stroke="#ecedcc" stroke-width="1.0" stroke-linecap="round" stroke-linejoin="round"/>
<polyline points="283.1,781.4 289.4,777.2 295.7,764.6" fill="none" stroke="#ecedcc" stroke-width="1.0" stroke-linecap="round" stroke-linejoin="round"/>
<polyline points="289.4,802.4 297.8,815 299.9,817.1" fill="none" stroke="#ecedcc" stroke-width="1.0" stroke-linecap="round" stroke-linejoin="round"/>
<polyline points="312.5,791.9 316.7,810.8 318.8,829.7" fill="none" stroke="#ecedcc" stroke-width="1.0" stroke-linecap="round" stroke-linejoin="round"/>
<polyline points="268.3,791.9 281,808.7" fill="none" stroke="#f2f2f2" stroke-width="1.0" stroke-linecap="round" stroke-linejoin="round"/>
<polyline points="302,770 310,776 322,778" fill="none" stroke="#ecedcc" stroke-width="1.0" stroke-linecap="round" stroke-linejoin="round"/>
<polyline points="257,818 262,826 259,834 262,842" fill="none" stroke="#f2f2f2" stroke-width="1.0" stroke-linecap="round" stroke-linejoin="round"/>
<path d="M329.4 726 Q330 723.3 333.5 723.4 Q338 723.4 337.8 727.5 Q337.5 732 335.2 735.8 Q333.5 736.5 332 735 Q329 731 329.4 726 Z" fill="#c9a2e2"/>
<polyline points="335.6,736.3 337.5,750 338.4,767.5 338.8,782.1 341.3,790 341.8,795.3 342.9,803.8 341.3,816.5 340.3,827.2 338.7,834.6 339.2,843.1 338.1,853.7 336.5,864.3 331.2,871.7 330.2,878.1" fill="none" stroke="#c9a2e2" stroke-width="1.3" stroke-linecap="round" stroke-linejoin="round"/>
<polyline points="328.3,734.5 333,735.5 339.3,735.4" fill="none" stroke="#c9a2e2" stroke-width="1.25" stroke-linecap="round" stroke-linejoin="round"/>
<polyline points="336.6,739.5 344.8,741.8" fill="none" stroke="#c9a2e2" stroke-width="1.25" stroke-linecap="round" stroke-linejoin="round"/>
<polyline points="337.5,744.6 345,749 352.1,754.6" fill="none" stroke="#c9a2e2" stroke-width="1.25" stroke-linecap="round" stroke-linejoin="round"/>
<polyline points="338.4,749.1 344,752.5 348.5,752.3" fill="none" stroke="#c9a2e2" stroke-width="1.25" stroke-linecap="round" stroke-linejoin="round"/>
<polyline points="339.3,768.4 346.6,768.4 352.6,773" fill="none" stroke="#c9a2e2" stroke-width="1.25" stroke-linecap="round" stroke-linejoin="round"/>
<polyline points="339.3,769 333.8,773 327,782.1" fill="none" stroke="#c9a2e2" stroke-width="1.25" stroke-linecap="round" stroke-linejoin="round"/>
<polyline points="338.4,779.4 333.8,778.4 328.3,782.1 327.4,795 327,806" fill="none" stroke="#c9a2e2" stroke-width="1.25" stroke-linecap="round" stroke-linejoin="round"/>
<polyline points="341.8,795.3 348.7,794.8" fill="none" stroke="#c9a2e2" stroke-width="1.25" stroke-linecap="round" stroke-linejoin="round"/>
<polyline points="342.9,803.8 348.2,811.2 352.5,819.7 356.7,821.8" fill="none" stroke="#c9a2e2" stroke-width="1.25" stroke-linecap="round" stroke-linejoin="round"/>
<polyline points="352.5,819.7 354.6,832.5 353.5,844.7" fill="none" stroke="#c9a2e2" stroke-width="1.25" stroke-linecap="round" stroke-linejoin="round"/>
<polyline points="338.7,834.6 333,836.5 328.6,838.8" fill="none" stroke="#c9a2e2" stroke-width="1.25" stroke-linecap="round" stroke-linejoin="round"/>
<polyline points="339.2,839 343.4,845.2" fill="none" stroke="#c9a2e2" stroke-width="1.25" stroke-linecap="round" stroke-linejoin="round"/>
<polyline points="338.1,853.7 344.5,856.3" fill="none" stroke="#c9a2e2" stroke-width="1.25" stroke-linecap="round" stroke-linejoin="round"/>
<polyline points="345,860 353.5,872.8" fill="none" stroke="#8a70a0" stroke-width="0.8" stroke-linecap="round" stroke-linejoin="round"/>
<ellipse cx="590.7" cy="732" rx="2" ry="4.6" fill="#f2f2f2" transform="rotate(0 590.7 732)"/>
<polyline points="590.7,735.4 589.8,742.6 589.8,748.8 591.2,757.8 591.6,771.2 591.2,780.1 592.5,793.6 593,802 589.4,826 589.4,846.7 589.4,857" fill="none" stroke="#f2f2f2" stroke-width="1.4" stroke-linecap="round" stroke-linejoin="round"/>
<polyline points="589.4,741.2 583.1,739 577.3,737.7" fill="none" stroke="#f2f2f2" stroke-width="1.25" stroke-linecap="round" stroke-linejoin="round"/>
<polyline points="589.8,748.8 584.9,748.8 582.2,751.5 577.7,760.5" fill="none" stroke="#f2f2f2" stroke-width="1.3" stroke-linecap="round" stroke-linejoin="round"/>
<polyline points="576.8,752.9 584.9,755.1" fill="none" stroke="#f2f2f2" stroke-width="1.25" stroke-linecap="round" stroke-linejoin="round"/>
<polyline points="592,753.3 594.7,757.8 596.1,766.7" fill="none" stroke="#f2f2f2" stroke-width="1.25" stroke-linecap="round" stroke-linejoin="round"/>
<polyline points="587.6,756 584.9,764 584.4,770.3 581.3,775.7 577.3,783.7" fill="none" stroke="#f2f2f2" stroke-width="1.25" stroke-linecap="round" stroke-linejoin="round"/>
<polyline points="591.2,780 587.6,784.6 585.1,795 580.8,805.3 575.6,819.1 571.3,827.7" fill="none" stroke="#f2f2f2" stroke-width="1.25" stroke-linecap="round" stroke-linejoin="round"/>
<polyline points="573.9,826 573.9,846.7 575.6,867.4" fill="none" stroke="#f2f2f2" stroke-width="1.25" stroke-linecap="round" stroke-linejoin="round"/>
<polyline points="592.5,793.6 601,796.2" fill="none" stroke="#f2f2f2" stroke-width="1.25" stroke-linecap="round" stroke-linejoin="round"/>
<polyline points="589.4,800 598.9,819.1" fill="none" stroke="#f2f2f2" stroke-width="1.25" stroke-linecap="round" stroke-linejoin="round"/>
<polyline points="589.4,826 599.7,829.5 608.3,838.1 613.5,843.2" fill="none" stroke="#f2f2f2" stroke-width="1.25" stroke-linecap="round" stroke-linejoin="round"/>
<polyline points="606,836 613.5,851.8 615.2,867.4 617.8,870.8" fill="none" stroke="#f2f2f2" stroke-width="1.25" stroke-linecap="round" stroke-linejoin="round"/>
<polyline points="589.4,851 596.3,855.3" fill="none" stroke="#f2f2f2" stroke-width="1.25" stroke-linecap="round" stroke-linejoin="round"/>
<polyline points="600.5,831 602.3,853.6" fill="none" stroke="#f2f2f2" stroke-width="1.25" stroke-linecap="round" stroke-linejoin="round"/>
<polyline points="577.3,801.9 584.2,800.2" fill="none" stroke="#f2f2f2" stroke-width="1.25" stroke-linecap="round" stroke-linejoin="round"/>
<path d="M624.8 733 Q625 729.2 629 729.2 Q632.8 729.6 632.4 733.5 Q631.5 737 627.5 737.8 L625.5 739 Z" fill="#ecedcc"/>
<polyline points="624.2,738.1 623,746.8 624.2,759.2 626.7,774.1 627.9,786.5 628.5,802 628.2,812.2 629,832.9" fill="none" stroke="#ecedcc" stroke-width="1.4" stroke-linecap="round" stroke-linejoin="round"/>
<polyline points="623.2,745 614.9,748.7 609.9,753 605.6,759.2" fill="none" stroke="#ecedcc" stroke-width="1.25" stroke-linecap="round" stroke-linejoin="round"/>
<polyline points="623.5,747 616.1,753 612.4,758" fill="none" stroke="#ecedcc" stroke-width="1.25" stroke-linecap="round" stroke-linejoin="round"/>
<polyline points="624,752 619.2,755.5 617.4,761.7 613.6,770.4" fill="none" stroke="#ecedcc" stroke-width="1.25" stroke-linecap="round" stroke-linejoin="round"/>
<polyline points="624.2,759.2 620.5,763 619.2,771.6" fill="none" stroke="#ecedcc" stroke-width="1.25" stroke-linecap="round" stroke-linejoin="round"/>
<polyline points="629.2,780.3 634.7,785.3 645.9,792.1" fill="none" stroke="#ecedcc" stroke-width="1.25" stroke-linecap="round" stroke-linejoin="round"/>
<polyline points="625,776 622.3,781.6 616.1,789 613,801.4 609.2,812.2 605.8,829.5 603.2,855.3" fill="none" stroke="#ecedcc" stroke-width="1.25" stroke-linecap="round" stroke-linejoin="round"/>
<polyline points="624,781 620.5,790 619.9,801.4 618.7,795 613.5,801.9" fill="none" stroke="#ecedcc" stroke-width="1.25" stroke-linecap="round" stroke-linejoin="round"/>
<polyline points="628.5,790 632.3,796.4 633.5,802 635.9,829.5 639.3,836.3" fill="none" stroke="#ecedcc" stroke-width="1.25" stroke-linecap="round" stroke-linejoin="round"/>
<polyline points="632,798 639.3,817.4" fill="none" stroke="#ecedcc" stroke-width="1.25" stroke-linecap="round" stroke-linejoin="round"/>
<polyline points="637,832 642.8,851.8 639.3,867.4 635,872.5" fill="none" stroke="#9a9a80" stroke-width="0.9" stroke-linecap="round" stroke-linejoin="round"/>
<polyline points="632.5,834.6 636,836" fill="none" stroke="#ecedcc" stroke-width="1.25" stroke-linecap="round" stroke-linejoin="round"/>
<path d="M657.3 731.5 Q657.5 729.5 660 729.8 L663.5 730.8 Q665 731.5 664.5 734 L663.2 740.6 L661.8 740.6 Q659 736 657.3 731.5 Z" fill="#c9a2e2"/>
<polyline points="662.7,740.6 663.9,753 663.3,765.4 664.5,775.3 663.9,780.3" fill="none" stroke="#c9a2e2" stroke-width="1.4" stroke-linecap="round" stroke-linejoin="round"/>
<polyline points="664.5,776 670.1,779.7" fill="none" stroke="#c9a2e2" stroke-width="1.25" stroke-linecap="round" stroke-linejoin="round"/>
<polyline points="663.9,780.3 659.6,786.5 654.6,796.4 651.4,812.2 648,829.5 639.3,851.8 630.7,855.3" fill="none" stroke="#c9a2e2" stroke-width="1.25" stroke-linecap="round" stroke-linejoin="round"/>
<polyline points="662,783 658.3,794 657.1,802 654.9,795" fill="none" stroke="#c9a2e2" stroke-width="1.25" stroke-linecap="round" stroke-linejoin="round"/>
<polyline points="664.5,783 668.2,791.5 670.7,802 674.7,826 679.8,836.3" fill="none" stroke="#c9a2e2" stroke-width="1.25" stroke-linecap="round" stroke-linejoin="round"/>
<polyline points="664,786 664.5,802 666.9,808.8 666.9,829.5 662.6,843.2 660,853.6 656.6,867.4" fill="none" stroke="#c9a2e2" stroke-width="1.25" stroke-linecap="round" stroke-linejoin="round"/>
<polyline points="639.3,832 653.1,826 660.9,815.7 662.6,803.6 660,795" fill="none" stroke="#c9a2e2" stroke-width="1.25" stroke-linecap="round" stroke-linejoin="round"/>
<polyline points="651.4,826 648,843.2 648,858.7" fill="none" stroke="#c9a2e2" stroke-width="1.25" stroke-linecap="round" stroke-linejoin="round"/>
<polyline points="666,838 673.8,846.7" fill="none" stroke="#c9a2e2" stroke-width="1.25" stroke-linecap="round" stroke-linejoin="round"/>
<polyline points="668,829 670.4,851.8 671.2,865.6" fill="none" stroke="#c9a2e2" stroke-width="1.25" stroke-linecap="round" stroke-linejoin="round"/>
<polyline points="657,800 655,815 651,830" fill="none" stroke="#c9a2e2" stroke-width="1.25" stroke-linecap="round" stroke-linejoin="round"/>
<polyline points="627.5,783.6 629.6,832.7" fill="none" stroke="#ecedcc" stroke-width="1.0" stroke-linecap="round" stroke-linejoin="round"/>
<polyline points="630.6,793.8 635.7,834.7" fill="none" stroke="#ecedcc" stroke-width="1.0" stroke-linecap="round" stroke-linejoin="round"/>
<polyline points="625.5,798 627.5,832.7" fill="none" stroke="#ecedcc" stroke-width="1.0" stroke-linecap="round" stroke-linejoin="round"/>
<polyline points="623,780 615.2,789.7 609.1,802 605,818.4" fill="none" stroke="#ecedcc" stroke-width="1.0" stroke-linecap="round" stroke-linejoin="round"/>
<polyline points="621.4,773.4 615.2,783.6 614.2,802" fill="none" stroke="#ecedcc" stroke-width="1.0" stroke-linecap="round" stroke-linejoin="round"/>
<polyline points="660.2,789.7 654.1,806.1 650,824.5 648,859.3" fill="none" stroke="#c9a2e2" stroke-width="1.0" stroke-linecap="round" stroke-linejoin="round"/>
<polyline points="666.4,798 668.4,814.3 674.6,834.7 679.7,836.8" fill="none" stroke="#c9a2e2" stroke-width="1.0" stroke-linecap="round" stroke-linejoin="round"/>
<polyline points="662,790 662.3,814.3 663.3,826.6" fill="none" stroke="#c9a2e2" stroke-width="1.0" stroke-linecap="round" stroke-linejoin="round"/>
<polyline points="670.5,818.4 671.5,845 670.5,865.4" fill="none" stroke="#c9a2e2" stroke-width="1.0" stroke-linecap="round" stroke-linejoin="round"/>
<polyline points="656.2,822.5 641.8,830.7 637.7,832.7" fill="none" stroke="#c9a2e2" stroke-width="1.0" stroke-linecap="round" stroke-linejoin="round"/>
<polyline points="586.6,746.8 584.5,765.2 580.5,779.5" fill="none" stroke="#f2f2f2" stroke-width="1.0" stroke-linecap="round" stroke-linejoin="round"/>
<polyline points="590.7,773.4 589.7,797.9" fill="none" stroke="#f2f2f2" stroke-width="1.0" stroke-linecap="round" stroke-linejoin="round"/>
<polyline points="584.5,800 582.5,810.2" fill="none" stroke="#f2f2f2" stroke-width="1.0" stroke-linecap="round" stroke-linejoin="round"/>
</g>
</svg>
</body></html>
